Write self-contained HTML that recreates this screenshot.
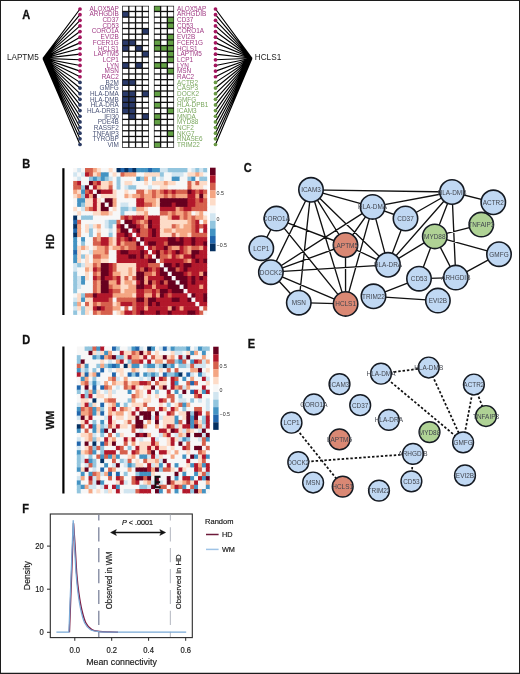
<!DOCTYPE html><html><head><meta charset="utf-8"><style>html,body{margin:0;padding:0;background:#fff;overflow:hidden}svg{display:block}#m{filter:blur(0.4px)}#b{position:absolute;left:0;top:0}text{font-family:"Liberation Sans",sans-serif}</style></head><body>
<svg id="m" width="520" height="674" viewBox="0 0 520 674">
<rect x="0" y="0" width="520" height="674" fill="#fff"/>
<text transform="translate(22.30,18.90) scale(0.92,1)" font-size="12" font-weight="bold" fill="#111" stroke="#111" stroke-width="0.3">A</text>
<text transform="translate(22.30,168.40) scale(0.92,1)" font-size="12" font-weight="bold" fill="#111" stroke="#111" stroke-width="0.3">B</text>
<text transform="translate(243.80,171.50) scale(0.92,1)" font-size="12" font-weight="bold" fill="#111" stroke="#111" stroke-width="0.3">C</text>
<text transform="translate(22.30,344.00) scale(0.92,1)" font-size="12" font-weight="bold" fill="#111" stroke="#111" stroke-width="0.3">D</text>
<text transform="translate(247.80,347.80) scale(0.92,1)" font-size="12" font-weight="bold" fill="#111" stroke="#111" stroke-width="0.3">E</text>
<text transform="translate(22.30,512.60) scale(0.92,1)" font-size="12" font-weight="bold" fill="#111" stroke="#111" stroke-width="0.3">F</text>
<path d="M43 58.4L80 9.00 M252 58.3L215.5 9.00 M43 58.4L80 14.64 M252 58.3L215.5 14.64 M43 58.4L80 20.29 M252 58.3L215.5 20.29 M43 58.4L80 25.93 M252 58.3L215.5 25.93 M43 58.4L80 31.58 M252 58.3L215.5 31.58 M43 58.4L80 37.22 M252 58.3L215.5 37.22 M43 58.4L80 42.87 M252 58.3L215.5 42.87 M43 58.4L80 48.52 M252 58.3L215.5 48.52 M43 58.4L80 54.16 M252 58.3L215.5 54.16 M43 58.4L80 59.80 M252 58.3L215.5 59.80 M43 58.4L80 65.45 M252 58.3L215.5 65.45 M43 58.4L80 71.09 M252 58.3L215.5 71.09 M43 58.4L80 76.74 M252 58.3L215.5 76.74 M43 58.4L80 82.38 M252 58.3L215.5 82.38 M43 58.4L80 88.03 M252 58.3L215.5 88.03 M43 58.4L80 93.67 M252 58.3L215.5 93.67 M43 58.4L80 99.32 M252 58.3L215.5 99.32 M43 58.4L80 104.96 M252 58.3L215.5 104.96 M43 58.4L80 110.61 M252 58.3L215.5 110.61 M43 58.4L80 116.25 M252 58.3L215.5 116.25 M43 58.4L80 121.90 M252 58.3L215.5 121.90 M43 58.4L80 127.54 M252 58.3L215.5 127.54 M43 58.4L80 133.19 M252 58.3L215.5 133.19 M43 58.4L80 138.83 M252 58.3L215.5 138.83 M43 58.4L80 144.48 M252 58.3L215.5 144.48" stroke="#000" stroke-width="1.15" fill="none"/>
<circle cx="80" cy="9.00" r="1.85" fill="#a3165e"/>
<circle cx="215.5" cy="9.00" r="1.85" fill="#a3165e"/>
<circle cx="80" cy="14.64" r="1.85" fill="#a3165e"/>
<circle cx="215.5" cy="14.64" r="1.85" fill="#a3165e"/>
<circle cx="80" cy="20.29" r="1.85" fill="#a3165e"/>
<circle cx="215.5" cy="20.29" r="1.85" fill="#a3165e"/>
<circle cx="80" cy="25.93" r="1.85" fill="#a3165e"/>
<circle cx="215.5" cy="25.93" r="1.85" fill="#a3165e"/>
<circle cx="80" cy="31.58" r="1.85" fill="#a3165e"/>
<circle cx="215.5" cy="31.58" r="1.85" fill="#a3165e"/>
<circle cx="80" cy="37.22" r="1.85" fill="#a3165e"/>
<circle cx="215.5" cy="37.22" r="1.85" fill="#a3165e"/>
<circle cx="80" cy="42.87" r="1.85" fill="#a3165e"/>
<circle cx="215.5" cy="42.87" r="1.85" fill="#a3165e"/>
<circle cx="80" cy="48.52" r="1.85" fill="#a3165e"/>
<circle cx="215.5" cy="48.52" r="1.85" fill="#a3165e"/>
<circle cx="80" cy="54.16" r="1.85" fill="#a3165e"/>
<circle cx="215.5" cy="54.16" r="1.85" fill="#a3165e"/>
<circle cx="80" cy="59.80" r="1.85" fill="#a3165e"/>
<circle cx="215.5" cy="59.80" r="1.85" fill="#a3165e"/>
<circle cx="80" cy="65.45" r="1.85" fill="#a3165e"/>
<circle cx="215.5" cy="65.45" r="1.85" fill="#a3165e"/>
<circle cx="80" cy="71.09" r="1.85" fill="#a3165e"/>
<circle cx="215.5" cy="71.09" r="1.85" fill="#a3165e"/>
<circle cx="80" cy="76.74" r="1.85" fill="#a3165e"/>
<circle cx="215.5" cy="76.74" r="1.85" fill="#a3165e"/>
<circle cx="80" cy="82.38" r="1.85" fill="#2b3a63"/>
<circle cx="215.5" cy="82.38" r="1.85" fill="#6a9a45"/>
<circle cx="80" cy="88.03" r="1.85" fill="#2b3a63"/>
<circle cx="215.5" cy="88.03" r="1.85" fill="#6a9a45"/>
<circle cx="80" cy="93.67" r="1.85" fill="#2b3a63"/>
<circle cx="215.5" cy="93.67" r="1.85" fill="#6a9a45"/>
<circle cx="80" cy="99.32" r="1.85" fill="#2b3a63"/>
<circle cx="215.5" cy="99.32" r="1.85" fill="#6a9a45"/>
<circle cx="80" cy="104.96" r="1.85" fill="#2b3a63"/>
<circle cx="215.5" cy="104.96" r="1.85" fill="#6a9a45"/>
<circle cx="80" cy="110.61" r="1.85" fill="#2b3a63"/>
<circle cx="215.5" cy="110.61" r="1.85" fill="#6a9a45"/>
<circle cx="80" cy="116.25" r="1.85" fill="#2b3a63"/>
<circle cx="215.5" cy="116.25" r="1.85" fill="#6a9a45"/>
<circle cx="80" cy="121.90" r="1.85" fill="#2b3a63"/>
<circle cx="215.5" cy="121.90" r="1.85" fill="#6a9a45"/>
<circle cx="80" cy="127.54" r="1.85" fill="#2b3a63"/>
<circle cx="215.5" cy="127.54" r="1.85" fill="#6a9a45"/>
<circle cx="80" cy="133.19" r="1.85" fill="#2b3a63"/>
<circle cx="215.5" cy="133.19" r="1.85" fill="#6a9a45"/>
<circle cx="80" cy="138.83" r="1.85" fill="#2b3a63"/>
<circle cx="215.5" cy="138.83" r="1.85" fill="#6a9a45"/>
<circle cx="80" cy="144.48" r="1.85" fill="#2b3a63"/>
<circle cx="215.5" cy="144.48" r="1.85" fill="#6a9a45"/>
<text transform="translate(118.8,10.75) scale(0.93,1)" font-size="6.9" text-anchor="end" fill="#a03a84">ALOX5AP</text>
<text transform="translate(177,10.75) scale(0.93,1)" font-size="6.9" fill="#a03a84">ALOX5AP</text>
<text transform="translate(118.8,16.43) scale(0.93,1)" font-size="6.9" text-anchor="end" fill="#a03a84">ARHGDIB</text>
<text transform="translate(177,16.43) scale(0.93,1)" font-size="6.9" fill="#a03a84">ARHGDIB</text>
<text transform="translate(118.8,22.11) scale(0.93,1)" font-size="6.9" text-anchor="end" fill="#a03a84">CD37</text>
<text transform="translate(177,22.11) scale(0.93,1)" font-size="6.9" fill="#a03a84">CD37</text>
<text transform="translate(118.8,27.79) scale(0.93,1)" font-size="6.9" text-anchor="end" fill="#a03a84">CD53</text>
<text transform="translate(177,27.79) scale(0.93,1)" font-size="6.9" fill="#a03a84">CD53</text>
<text transform="translate(118.8,33.47) scale(0.93,1)" font-size="6.9" text-anchor="end" fill="#a03a84">CORO1A</text>
<text transform="translate(177,33.47) scale(0.93,1)" font-size="6.9" fill="#a03a84">CORO1A</text>
<text transform="translate(118.8,39.15) scale(0.93,1)" font-size="6.9" text-anchor="end" fill="#a03a84">EVI2B</text>
<text transform="translate(177,39.15) scale(0.93,1)" font-size="6.9" fill="#a03a84">EVI2B</text>
<text transform="translate(118.8,44.83) scale(0.93,1)" font-size="6.9" text-anchor="end" fill="#a03a84">FCER1G</text>
<text transform="translate(177,44.83) scale(0.93,1)" font-size="6.9" fill="#a03a84">FCER1G</text>
<text transform="translate(118.8,50.51) scale(0.93,1)" font-size="6.9" text-anchor="end" fill="#a03a84">HCLS1</text>
<text transform="translate(177,50.51) scale(0.93,1)" font-size="6.9" fill="#a03a84">HCLS1</text>
<text transform="translate(118.8,56.19) scale(0.93,1)" font-size="6.9" text-anchor="end" fill="#a03a84">LAPTM5</text>
<text transform="translate(177,56.19) scale(0.93,1)" font-size="6.9" fill="#a03a84">LAPTM5</text>
<text transform="translate(118.8,61.87) scale(0.93,1)" font-size="6.9" text-anchor="end" fill="#a03a84">LCP1</text>
<text transform="translate(177,61.87) scale(0.93,1)" font-size="6.9" fill="#a03a84">LCP1</text>
<text transform="translate(118.8,67.55) scale(0.93,1)" font-size="6.9" text-anchor="end" fill="#a03a84">LYN</text>
<text transform="translate(177,67.55) scale(0.93,1)" font-size="6.9" fill="#a03a84">LYN</text>
<text transform="translate(118.8,73.23) scale(0.93,1)" font-size="6.9" text-anchor="end" fill="#a03a84">MSN</text>
<text transform="translate(177,73.23) scale(0.93,1)" font-size="6.9" fill="#a03a84">MSN</text>
<text transform="translate(118.8,78.91) scale(0.93,1)" font-size="6.9" text-anchor="end" fill="#a03a84">RAC2</text>
<text transform="translate(177,78.91) scale(0.93,1)" font-size="6.9" fill="#a03a84">RAC2</text>
<text transform="translate(118.8,84.59) scale(0.93,1)" font-size="6.9" text-anchor="end" fill="#4a5478">B2M</text>
<text transform="translate(177,84.59) scale(0.93,1)" font-size="6.9" fill="#7aa75e">ACTR2</text>
<text transform="translate(118.8,90.27) scale(0.93,1)" font-size="6.9" text-anchor="end" fill="#4a5478">GMFG</text>
<text transform="translate(177,90.27) scale(0.93,1)" font-size="6.9" fill="#7aa75e">CASP3</text>
<text transform="translate(118.8,95.95) scale(0.93,1)" font-size="6.9" text-anchor="end" fill="#4a5478">HLA-DMA</text>
<text transform="translate(177,95.95) scale(0.93,1)" font-size="6.9" fill="#7aa75e">DOCK2</text>
<text transform="translate(118.8,101.63) scale(0.93,1)" font-size="6.9" text-anchor="end" fill="#4a5478">HLA-DMB</text>
<text transform="translate(177,101.63) scale(0.93,1)" font-size="6.9" fill="#7aa75e">GMFG</text>
<text transform="translate(118.8,107.31) scale(0.93,1)" font-size="6.9" text-anchor="end" fill="#4a5478">HLA-DRA</text>
<text transform="translate(177,107.31) scale(0.93,1)" font-size="6.9" fill="#7aa75e">HLA-DPB1</text>
<text transform="translate(118.8,112.99) scale(0.93,1)" font-size="6.9" text-anchor="end" fill="#4a5478">HLA-DRB1</text>
<text transform="translate(177,112.99) scale(0.93,1)" font-size="6.9" fill="#7aa75e">ICAM3</text>
<text transform="translate(118.8,118.67) scale(0.93,1)" font-size="6.9" text-anchor="end" fill="#4a5478">IFI30</text>
<text transform="translate(177,118.67) scale(0.93,1)" font-size="6.9" fill="#7aa75e">MNDA</text>
<text transform="translate(118.8,124.35) scale(0.93,1)" font-size="6.9" text-anchor="end" fill="#4a5478">PDE4B</text>
<text transform="translate(177,124.35) scale(0.93,1)" font-size="6.9" fill="#7aa75e">MYD88</text>
<text transform="translate(118.8,130.03) scale(0.93,1)" font-size="6.9" text-anchor="end" fill="#4a5478">RASSF2</text>
<text transform="translate(177,130.03) scale(0.93,1)" font-size="6.9" fill="#7aa75e">NCF2</text>
<text transform="translate(118.8,135.71) scale(0.93,1)" font-size="6.9" text-anchor="end" fill="#4a5478">TNFAIP3</text>
<text transform="translate(177,135.71) scale(0.93,1)" font-size="6.9" fill="#7aa75e">NKG7</text>
<text transform="translate(118.8,141.39) scale(0.93,1)" font-size="6.9" text-anchor="end" fill="#4a5478">TYROBP</text>
<text transform="translate(177,141.39) scale(0.93,1)" font-size="6.9" fill="#7aa75e">RNASE6</text>
<text transform="translate(118.8,147.07) scale(0.93,1)" font-size="6.9" text-anchor="end" fill="#4a5478">VIM</text>
<text transform="translate(177,147.07) scale(0.93,1)" font-size="6.9" fill="#7aa75e">TRIM22</text>
<text x="6.9" y="59.8" font-size="8.2" fill="#222">LAPTM5</text>
<text x="254.8" y="59.8" font-size="8.2" fill="#222">HCLS1</text>
<rect x="122.1" y="5.8" width="26.88" height="142.00" fill="#111"/>
<rect x="122.75" y="6.45" width="5.42" height="4.38" fill="#fff"/>
<rect x="129.47" y="6.45" width="5.42" height="4.38" fill="#fff"/>
<rect x="136.19" y="6.45" width="5.42" height="4.38" fill="#fff"/>
<rect x="142.91" y="6.45" width="5.42" height="4.38" fill="#fff"/>
<rect x="122.75" y="12.13" width="5.42" height="4.38" fill="#2a3a6a"/>
<rect x="129.47" y="12.13" width="5.42" height="4.38" fill="#fff"/>
<rect x="136.19" y="12.13" width="5.42" height="4.38" fill="#fff"/>
<rect x="142.91" y="12.13" width="5.42" height="4.38" fill="#fff"/>
<rect x="122.75" y="17.81" width="5.42" height="4.38" fill="#fff"/>
<rect x="129.47" y="17.81" width="5.42" height="4.38" fill="#fff"/>
<rect x="136.19" y="17.81" width="5.42" height="4.38" fill="#fff"/>
<rect x="142.91" y="17.81" width="5.42" height="4.38" fill="#fff"/>
<rect x="122.75" y="23.49" width="5.42" height="4.38" fill="#fff"/>
<rect x="129.47" y="23.49" width="5.42" height="4.38" fill="#fff"/>
<rect x="136.19" y="23.49" width="5.42" height="4.38" fill="#fff"/>
<rect x="142.91" y="23.49" width="5.42" height="4.38" fill="#fff"/>
<rect x="122.75" y="29.17" width="5.42" height="4.38" fill="#fff"/>
<rect x="129.47" y="29.17" width="5.42" height="4.38" fill="#fff"/>
<rect x="136.19" y="29.17" width="5.42" height="4.38" fill="#fff"/>
<rect x="142.91" y="29.17" width="5.42" height="4.38" fill="#2a3a6a"/>
<rect x="122.75" y="34.85" width="5.42" height="4.38" fill="#fff"/>
<rect x="129.47" y="34.85" width="5.42" height="4.38" fill="#fff"/>
<rect x="136.19" y="34.85" width="5.42" height="4.38" fill="#fff"/>
<rect x="142.91" y="34.85" width="5.42" height="4.38" fill="#fff"/>
<rect x="122.75" y="40.53" width="5.42" height="4.38" fill="#2a3a6a"/>
<rect x="129.47" y="40.53" width="5.42" height="4.38" fill="#2a3a6a"/>
<rect x="136.19" y="40.53" width="5.42" height="4.38" fill="#fff"/>
<rect x="142.91" y="40.53" width="5.42" height="4.38" fill="#fff"/>
<rect x="122.75" y="46.21" width="5.42" height="4.38" fill="#2a3a6a"/>
<rect x="129.47" y="46.21" width="5.42" height="4.38" fill="#fff"/>
<rect x="136.19" y="46.21" width="5.42" height="4.38" fill="#2a3a6a"/>
<rect x="142.91" y="46.21" width="5.42" height="4.38" fill="#fff"/>
<rect x="122.75" y="51.89" width="5.42" height="4.38" fill="#fff"/>
<rect x="129.47" y="51.89" width="5.42" height="4.38" fill="#fff"/>
<rect x="136.19" y="51.89" width="5.42" height="4.38" fill="#fff"/>
<rect x="142.91" y="51.89" width="5.42" height="4.38" fill="#2a3a6a"/>
<rect x="122.75" y="57.57" width="5.42" height="4.38" fill="#fff"/>
<rect x="129.47" y="57.57" width="5.42" height="4.38" fill="#fff"/>
<rect x="136.19" y="57.57" width="5.42" height="4.38" fill="#fff"/>
<rect x="142.91" y="57.57" width="5.42" height="4.38" fill="#fff"/>
<rect x="122.75" y="63.25" width="5.42" height="4.38" fill="#2a3a6a"/>
<rect x="129.47" y="63.25" width="5.42" height="4.38" fill="#fff"/>
<rect x="136.19" y="63.25" width="5.42" height="4.38" fill="#2a3a6a"/>
<rect x="142.91" y="63.25" width="5.42" height="4.38" fill="#fff"/>
<rect x="122.75" y="68.93" width="5.42" height="4.38" fill="#fff"/>
<rect x="129.47" y="68.93" width="5.42" height="4.38" fill="#fff"/>
<rect x="136.19" y="68.93" width="5.42" height="4.38" fill="#fff"/>
<rect x="142.91" y="68.93" width="5.42" height="4.38" fill="#fff"/>
<rect x="122.75" y="74.61" width="5.42" height="4.38" fill="#fff"/>
<rect x="129.47" y="74.61" width="5.42" height="4.38" fill="#fff"/>
<rect x="136.19" y="74.61" width="5.42" height="4.38" fill="#fff"/>
<rect x="142.91" y="74.61" width="5.42" height="4.38" fill="#fff"/>
<rect x="122.75" y="80.29" width="5.42" height="4.38" fill="#2a3a6a"/>
<rect x="129.47" y="80.29" width="5.42" height="4.38" fill="#2a3a6a"/>
<rect x="136.19" y="80.29" width="5.42" height="4.38" fill="#fff"/>
<rect x="142.91" y="80.29" width="5.42" height="4.38" fill="#fff"/>
<rect x="122.75" y="85.97" width="5.42" height="4.38" fill="#fff"/>
<rect x="129.47" y="85.97" width="5.42" height="4.38" fill="#fff"/>
<rect x="136.19" y="85.97" width="5.42" height="4.38" fill="#fff"/>
<rect x="142.91" y="85.97" width="5.42" height="4.38" fill="#fff"/>
<rect x="122.75" y="91.65" width="5.42" height="4.38" fill="#2a3a6a"/>
<rect x="129.47" y="91.65" width="5.42" height="4.38" fill="#2a3a6a"/>
<rect x="136.19" y="91.65" width="5.42" height="4.38" fill="#fff"/>
<rect x="142.91" y="91.65" width="5.42" height="4.38" fill="#2a3a6a"/>
<rect x="122.75" y="97.33" width="5.42" height="4.38" fill="#2a3a6a"/>
<rect x="129.47" y="97.33" width="5.42" height="4.38" fill="#2a3a6a"/>
<rect x="136.19" y="97.33" width="5.42" height="4.38" fill="#fff"/>
<rect x="142.91" y="97.33" width="5.42" height="4.38" fill="#fff"/>
<rect x="122.75" y="103.01" width="5.42" height="4.38" fill="#2a3a6a"/>
<rect x="129.47" y="103.01" width="5.42" height="4.38" fill="#2a3a6a"/>
<rect x="136.19" y="103.01" width="5.42" height="4.38" fill="#fff"/>
<rect x="142.91" y="103.01" width="5.42" height="4.38" fill="#fff"/>
<rect x="122.75" y="108.69" width="5.42" height="4.38" fill="#2a3a6a"/>
<rect x="129.47" y="108.69" width="5.42" height="4.38" fill="#2a3a6a"/>
<rect x="136.19" y="108.69" width="5.42" height="4.38" fill="#fff"/>
<rect x="142.91" y="108.69" width="5.42" height="4.38" fill="#fff"/>
<rect x="122.75" y="114.37" width="5.42" height="4.38" fill="#fff"/>
<rect x="129.47" y="114.37" width="5.42" height="4.38" fill="#2a3a6a"/>
<rect x="136.19" y="114.37" width="5.42" height="4.38" fill="#fff"/>
<rect x="142.91" y="114.37" width="5.42" height="4.38" fill="#2a3a6a"/>
<rect x="122.75" y="120.05" width="5.42" height="4.38" fill="#fff"/>
<rect x="129.47" y="120.05" width="5.42" height="4.38" fill="#fff"/>
<rect x="136.19" y="120.05" width="5.42" height="4.38" fill="#fff"/>
<rect x="142.91" y="120.05" width="5.42" height="4.38" fill="#fff"/>
<rect x="122.75" y="125.73" width="5.42" height="4.38" fill="#fff"/>
<rect x="129.47" y="125.73" width="5.42" height="4.38" fill="#fff"/>
<rect x="136.19" y="125.73" width="5.42" height="4.38" fill="#fff"/>
<rect x="142.91" y="125.73" width="5.42" height="4.38" fill="#fff"/>
<rect x="122.75" y="131.41" width="5.42" height="4.38" fill="#fff"/>
<rect x="129.47" y="131.41" width="5.42" height="4.38" fill="#fff"/>
<rect x="136.19" y="131.41" width="5.42" height="4.38" fill="#fff"/>
<rect x="142.91" y="131.41" width="5.42" height="4.38" fill="#fff"/>
<rect x="122.75" y="137.09" width="5.42" height="4.38" fill="#fff"/>
<rect x="129.47" y="137.09" width="5.42" height="4.38" fill="#fff"/>
<rect x="136.19" y="137.09" width="5.42" height="4.38" fill="#fff"/>
<rect x="142.91" y="137.09" width="5.42" height="4.38" fill="#fff"/>
<rect x="122.75" y="142.77" width="5.42" height="4.38" fill="#fff"/>
<rect x="129.47" y="142.77" width="5.42" height="4.38" fill="#fff"/>
<rect x="136.19" y="142.77" width="5.42" height="4.38" fill="#fff"/>
<rect x="142.91" y="142.77" width="5.42" height="4.38" fill="#fff"/>
<rect x="153.9" y="5.8" width="20.16" height="142.00" fill="#111"/>
<rect x="154.55" y="6.45" width="5.42" height="4.38" fill="#63a145"/>
<rect x="161.27" y="6.45" width="5.42" height="4.38" fill="#fff"/>
<rect x="167.99" y="6.45" width="5.42" height="4.38" fill="#fff"/>
<rect x="154.55" y="12.13" width="5.42" height="4.38" fill="#fff"/>
<rect x="161.27" y="12.13" width="5.42" height="4.38" fill="#fff"/>
<rect x="167.99" y="12.13" width="5.42" height="4.38" fill="#fff"/>
<rect x="154.55" y="17.81" width="5.42" height="4.38" fill="#fff"/>
<rect x="161.27" y="17.81" width="5.42" height="4.38" fill="#fff"/>
<rect x="167.99" y="17.81" width="5.42" height="4.38" fill="#63a145"/>
<rect x="154.55" y="23.49" width="5.42" height="4.38" fill="#fff"/>
<rect x="161.27" y="23.49" width="5.42" height="4.38" fill="#fff"/>
<rect x="167.99" y="23.49" width="5.42" height="4.38" fill="#63a145"/>
<rect x="154.55" y="29.17" width="5.42" height="4.38" fill="#fff"/>
<rect x="161.27" y="29.17" width="5.42" height="4.38" fill="#fff"/>
<rect x="167.99" y="29.17" width="5.42" height="4.38" fill="#fff"/>
<rect x="154.55" y="34.85" width="5.42" height="4.38" fill="#fff"/>
<rect x="161.27" y="34.85" width="5.42" height="4.38" fill="#fff"/>
<rect x="167.99" y="34.85" width="5.42" height="4.38" fill="#63a145"/>
<rect x="154.55" y="40.53" width="5.42" height="4.38" fill="#63a145"/>
<rect x="161.27" y="40.53" width="5.42" height="4.38" fill="#fff"/>
<rect x="167.99" y="40.53" width="5.42" height="4.38" fill="#63a145"/>
<rect x="154.55" y="46.21" width="5.42" height="4.38" fill="#63a145"/>
<rect x="161.27" y="46.21" width="5.42" height="4.38" fill="#63a145"/>
<rect x="167.99" y="46.21" width="5.42" height="4.38" fill="#63a145"/>
<rect x="154.55" y="51.89" width="5.42" height="4.38" fill="#fff"/>
<rect x="161.27" y="51.89" width="5.42" height="4.38" fill="#fff"/>
<rect x="167.99" y="51.89" width="5.42" height="4.38" fill="#63a145"/>
<rect x="154.55" y="57.57" width="5.42" height="4.38" fill="#fff"/>
<rect x="161.27" y="57.57" width="5.42" height="4.38" fill="#fff"/>
<rect x="167.99" y="57.57" width="5.42" height="4.38" fill="#63a145"/>
<rect x="154.55" y="63.25" width="5.42" height="4.38" fill="#63a145"/>
<rect x="161.27" y="63.25" width="5.42" height="4.38" fill="#63a145"/>
<rect x="167.99" y="63.25" width="5.42" height="4.38" fill="#fff"/>
<rect x="154.55" y="68.93" width="5.42" height="4.38" fill="#fff"/>
<rect x="161.27" y="68.93" width="5.42" height="4.38" fill="#fff"/>
<rect x="167.99" y="68.93" width="5.42" height="4.38" fill="#63a145"/>
<rect x="154.55" y="74.61" width="5.42" height="4.38" fill="#fff"/>
<rect x="161.27" y="74.61" width="5.42" height="4.38" fill="#fff"/>
<rect x="167.99" y="74.61" width="5.42" height="4.38" fill="#fff"/>
<rect x="154.55" y="80.29" width="5.42" height="4.38" fill="#fff"/>
<rect x="161.27" y="80.29" width="5.42" height="4.38" fill="#fff"/>
<rect x="167.99" y="80.29" width="5.42" height="4.38" fill="#fff"/>
<rect x="154.55" y="85.97" width="5.42" height="4.38" fill="#fff"/>
<rect x="161.27" y="85.97" width="5.42" height="4.38" fill="#fff"/>
<rect x="167.99" y="85.97" width="5.42" height="4.38" fill="#fff"/>
<rect x="154.55" y="91.65" width="5.42" height="4.38" fill="#63a145"/>
<rect x="161.27" y="91.65" width="5.42" height="4.38" fill="#fff"/>
<rect x="167.99" y="91.65" width="5.42" height="4.38" fill="#fff"/>
<rect x="154.55" y="97.33" width="5.42" height="4.38" fill="#fff"/>
<rect x="161.27" y="97.33" width="5.42" height="4.38" fill="#fff"/>
<rect x="167.99" y="97.33" width="5.42" height="4.38" fill="#fff"/>
<rect x="154.55" y="103.01" width="5.42" height="4.38" fill="#63a145"/>
<rect x="161.27" y="103.01" width="5.42" height="4.38" fill="#fff"/>
<rect x="167.99" y="103.01" width="5.42" height="4.38" fill="#fff"/>
<rect x="154.55" y="108.69" width="5.42" height="4.38" fill="#fff"/>
<rect x="161.27" y="108.69" width="5.42" height="4.38" fill="#fff"/>
<rect x="167.99" y="108.69" width="5.42" height="4.38" fill="#63a145"/>
<rect x="154.55" y="114.37" width="5.42" height="4.38" fill="#63a145"/>
<rect x="161.27" y="114.37" width="5.42" height="4.38" fill="#fff"/>
<rect x="167.99" y="114.37" width="5.42" height="4.38" fill="#fff"/>
<rect x="154.55" y="120.05" width="5.42" height="4.38" fill="#63a145"/>
<rect x="161.27" y="120.05" width="5.42" height="4.38" fill="#fff"/>
<rect x="167.99" y="120.05" width="5.42" height="4.38" fill="#fff"/>
<rect x="154.55" y="125.73" width="5.42" height="4.38" fill="#fff"/>
<rect x="161.27" y="125.73" width="5.42" height="4.38" fill="#fff"/>
<rect x="167.99" y="125.73" width="5.42" height="4.38" fill="#fff"/>
<rect x="154.55" y="131.41" width="5.42" height="4.38" fill="#fff"/>
<rect x="161.27" y="131.41" width="5.42" height="4.38" fill="#fff"/>
<rect x="167.99" y="131.41" width="5.42" height="4.38" fill="#63a145"/>
<rect x="154.55" y="137.09" width="5.42" height="4.38" fill="#fff"/>
<rect x="161.27" y="137.09" width="5.42" height="4.38" fill="#fff"/>
<rect x="167.99" y="137.09" width="5.42" height="4.38" fill="#fff"/>
<rect x="154.55" y="142.77" width="5.42" height="4.38" fill="#63a145"/>
<rect x="161.27" y="142.77" width="5.42" height="4.38" fill="#fff"/>
<rect x="167.99" y="142.77" width="5.42" height="4.38" fill="#fff"/>
<rect x="73.20" y="168.00" width="4.54" height="4.92" fill="#f7f7f7"/>
<rect x="77.14" y="168.00" width="4.54" height="4.92" fill="#d1e5f0"/>
<rect x="81.08" y="168.00" width="4.54" height="4.92" fill="#f7f7f7"/>
<rect x="85.02" y="168.00" width="4.54" height="4.92" fill="#d6604d"/>
<rect x="88.96" y="168.00" width="4.54" height="4.92" fill="#d6604d"/>
<rect x="92.90" y="168.00" width="4.54" height="4.92" fill="#f4a582"/>
<rect x="96.84" y="168.00" width="4.54" height="4.92" fill="#fddbc7"/>
<rect x="100.78" y="168.00" width="4.54" height="4.92" fill="#f7f7f7"/>
<rect x="104.72" y="168.00" width="4.54" height="4.92" fill="#f7f7f7"/>
<rect x="108.66" y="168.00" width="4.54" height="4.92" fill="#fddbc7"/>
<rect x="112.60" y="168.00" width="4.54" height="4.92" fill="#f7f7f7"/>
<rect x="116.54" y="168.00" width="4.54" height="4.92" fill="#053061"/>
<rect x="120.48" y="168.00" width="4.54" height="4.92" fill="#2166ac"/>
<rect x="124.42" y="168.00" width="4.54" height="4.92" fill="#053061"/>
<rect x="128.36" y="168.00" width="4.54" height="4.92" fill="#2166ac"/>
<rect x="132.30" y="168.00" width="4.54" height="4.92" fill="#053061"/>
<rect x="136.24" y="168.00" width="4.54" height="4.92" fill="#4393c3"/>
<rect x="140.18" y="168.00" width="4.54" height="4.92" fill="#4393c3"/>
<rect x="144.12" y="168.00" width="4.54" height="4.92" fill="#4393c3"/>
<rect x="148.06" y="168.00" width="4.54" height="4.92" fill="#2166ac"/>
<rect x="152.00" y="168.00" width="4.54" height="4.92" fill="#4393c3"/>
<rect x="155.94" y="168.00" width="4.54" height="4.92" fill="#4393c3"/>
<rect x="159.88" y="168.00" width="4.54" height="4.92" fill="#d1e5f0"/>
<rect x="163.82" y="168.00" width="4.54" height="4.92" fill="#d1e5f0"/>
<rect x="167.76" y="168.00" width="4.54" height="4.92" fill="#92c5de"/>
<rect x="171.70" y="168.00" width="4.54" height="4.92" fill="#92c5de"/>
<rect x="175.64" y="168.00" width="4.54" height="4.92" fill="#92c5de"/>
<rect x="179.58" y="168.00" width="4.54" height="4.92" fill="#92c5de"/>
<rect x="183.52" y="168.00" width="4.54" height="4.92" fill="#92c5de"/>
<rect x="187.46" y="168.00" width="4.54" height="4.92" fill="#f7f7f7"/>
<rect x="191.40" y="168.00" width="4.54" height="4.92" fill="#d1e5f0"/>
<rect x="195.34" y="168.00" width="4.54" height="4.92" fill="#92c5de"/>
<rect x="199.28" y="168.00" width="4.54" height="4.92" fill="#d1e5f0"/>
<rect x="203.22" y="168.00" width="3.94" height="4.92" fill="#92c5de"/>
<rect x="73.20" y="172.32" width="4.54" height="4.92" fill="#d1e5f0"/>
<rect x="77.14" y="172.32" width="4.54" height="4.92" fill="#f7f7f7"/>
<rect x="81.08" y="172.32" width="4.54" height="4.92" fill="#d1e5f0"/>
<rect x="85.02" y="172.32" width="4.54" height="4.92" fill="#b2182b"/>
<rect x="88.96" y="172.32" width="4.54" height="4.92" fill="#d6604d"/>
<rect x="92.90" y="172.32" width="4.54" height="4.92" fill="#fddbc7"/>
<rect x="96.84" y="172.32" width="4.54" height="4.92" fill="#f4a582"/>
<rect x="100.78" y="172.32" width="4.54" height="4.92" fill="#4393c3"/>
<rect x="104.72" y="172.32" width="4.54" height="4.92" fill="#4393c3"/>
<rect x="108.66" y="172.32" width="4.54" height="4.92" fill="#f7f7f7"/>
<rect x="112.60" y="172.32" width="4.54" height="4.92" fill="#fddbc7"/>
<rect x="116.54" y="172.32" width="4.54" height="4.92" fill="#f7f7f7"/>
<rect x="120.48" y="172.32" width="4.54" height="4.92" fill="#d6604d"/>
<rect x="124.42" y="172.32" width="4.54" height="4.92" fill="#f4a582"/>
<rect x="128.36" y="172.32" width="4.54" height="4.92" fill="#f4a582"/>
<rect x="132.30" y="172.32" width="4.54" height="4.92" fill="#f4a582"/>
<rect x="136.24" y="172.32" width="4.54" height="4.92" fill="#f7f7f7"/>
<rect x="140.18" y="172.32" width="4.54" height="4.92" fill="#f7f7f7"/>
<rect x="144.12" y="172.32" width="4.54" height="4.92" fill="#fddbc7"/>
<rect x="148.06" y="172.32" width="4.54" height="4.92" fill="#fddbc7"/>
<rect x="152.00" y="172.32" width="4.54" height="4.92" fill="#fddbc7"/>
<rect x="155.94" y="172.32" width="4.54" height="4.92" fill="#fddbc7"/>
<rect x="159.88" y="172.32" width="4.54" height="4.92" fill="#92c5de"/>
<rect x="163.82" y="172.32" width="4.54" height="4.92" fill="#f7f7f7"/>
<rect x="167.76" y="172.32" width="4.54" height="4.92" fill="#f7f7f7"/>
<rect x="171.70" y="172.32" width="4.54" height="4.92" fill="#d1e5f0"/>
<rect x="175.64" y="172.32" width="4.54" height="4.92" fill="#d1e5f0"/>
<rect x="179.58" y="172.32" width="4.54" height="4.92" fill="#d1e5f0"/>
<rect x="183.52" y="172.32" width="4.54" height="4.92" fill="#f7f7f7"/>
<rect x="187.46" y="172.32" width="4.54" height="4.92" fill="#fddbc7"/>
<rect x="191.40" y="172.32" width="4.54" height="4.92" fill="#fddbc7"/>
<rect x="195.34" y="172.32" width="4.54" height="4.92" fill="#f4a582"/>
<rect x="199.28" y="172.32" width="4.54" height="4.92" fill="#fddbc7"/>
<rect x="203.22" y="172.32" width="3.94" height="4.92" fill="#f7f7f7"/>
<rect x="73.20" y="176.64" width="4.54" height="4.92" fill="#f7f7f7"/>
<rect x="77.14" y="176.64" width="4.54" height="4.92" fill="#d1e5f0"/>
<rect x="81.08" y="176.64" width="4.54" height="4.92" fill="#f7f7f7"/>
<rect x="85.02" y="176.64" width="4.54" height="4.92" fill="#f7f7f7"/>
<rect x="88.96" y="176.64" width="4.54" height="4.92" fill="#92c5de"/>
<rect x="92.90" y="176.64" width="4.54" height="4.92" fill="#4393c3"/>
<rect x="96.84" y="176.64" width="4.54" height="4.92" fill="#92c5de"/>
<rect x="100.78" y="176.64" width="4.54" height="4.92" fill="#4393c3"/>
<rect x="104.72" y="176.64" width="4.54" height="4.92" fill="#92c5de"/>
<rect x="108.66" y="176.64" width="4.54" height="4.92" fill="#d1e5f0"/>
<rect x="112.60" y="176.64" width="4.54" height="4.92" fill="#f7f7f7"/>
<rect x="116.54" y="176.64" width="4.54" height="4.92" fill="#92c5de"/>
<rect x="120.48" y="176.64" width="4.54" height="4.92" fill="#f7f7f7"/>
<rect x="124.42" y="176.64" width="4.54" height="4.92" fill="#f7f7f7"/>
<rect x="128.36" y="176.64" width="4.54" height="4.92" fill="#f7f7f7"/>
<rect x="132.30" y="176.64" width="4.54" height="4.92" fill="#f7f7f7"/>
<rect x="136.24" y="176.64" width="4.54" height="4.92" fill="#4393c3"/>
<rect x="140.18" y="176.64" width="4.54" height="4.92" fill="#92c5de"/>
<rect x="144.12" y="176.64" width="4.54" height="4.92" fill="#f4a582"/>
<rect x="148.06" y="176.64" width="4.54" height="4.92" fill="#f7f7f7"/>
<rect x="152.00" y="176.64" width="4.54" height="4.92" fill="#92c5de"/>
<rect x="155.94" y="176.64" width="4.54" height="4.92" fill="#f7f7f7"/>
<rect x="159.88" y="176.64" width="4.54" height="4.92" fill="#d1e5f0"/>
<rect x="163.82" y="176.64" width="4.54" height="4.92" fill="#f7f7f7"/>
<rect x="167.76" y="176.64" width="4.54" height="4.92" fill="#f7f7f7"/>
<rect x="171.70" y="176.64" width="4.54" height="4.92" fill="#4393c3"/>
<rect x="175.64" y="176.64" width="4.54" height="4.92" fill="#4393c3"/>
<rect x="179.58" y="176.64" width="4.54" height="4.92" fill="#f7f7f7"/>
<rect x="183.52" y="176.64" width="4.54" height="4.92" fill="#f7f7f7"/>
<rect x="187.46" y="176.64" width="4.54" height="4.92" fill="#92c5de"/>
<rect x="191.40" y="176.64" width="4.54" height="4.92" fill="#4393c3"/>
<rect x="195.34" y="176.64" width="4.54" height="4.92" fill="#f7f7f7"/>
<rect x="199.28" y="176.64" width="4.54" height="4.92" fill="#92c5de"/>
<rect x="203.22" y="176.64" width="3.94" height="4.92" fill="#92c5de"/>
<rect x="73.20" y="180.96" width="4.54" height="4.92" fill="#d6604d"/>
<rect x="77.14" y="180.96" width="4.54" height="4.92" fill="#b2182b"/>
<rect x="81.08" y="180.96" width="4.54" height="4.92" fill="#f7f7f7"/>
<rect x="85.02" y="180.96" width="4.54" height="4.92" fill="#f7f7f7"/>
<rect x="88.96" y="180.96" width="4.54" height="4.92" fill="#67001f"/>
<rect x="92.90" y="180.96" width="4.54" height="4.92" fill="#d6604d"/>
<rect x="96.84" y="180.96" width="4.54" height="4.92" fill="#b2182b"/>
<rect x="100.78" y="180.96" width="4.54" height="4.92" fill="#fddbc7"/>
<rect x="104.72" y="180.96" width="4.54" height="4.92" fill="#fddbc7"/>
<rect x="108.66" y="180.96" width="4.54" height="4.92" fill="#f4a582"/>
<rect x="112.60" y="180.96" width="4.54" height="4.92" fill="#f7f7f7"/>
<rect x="116.54" y="180.96" width="4.54" height="4.92" fill="#92c5de"/>
<rect x="120.48" y="180.96" width="4.54" height="4.92" fill="#f7f7f7"/>
<rect x="124.42" y="180.96" width="4.54" height="4.92" fill="#fddbc7"/>
<rect x="128.36" y="180.96" width="4.54" height="4.92" fill="#fddbc7"/>
<rect x="132.30" y="180.96" width="4.54" height="4.92" fill="#f7f7f7"/>
<rect x="136.24" y="180.96" width="4.54" height="4.92" fill="#f7f7f7"/>
<rect x="140.18" y="180.96" width="4.54" height="4.92" fill="#f7f7f7"/>
<rect x="144.12" y="180.96" width="4.54" height="4.92" fill="#fddbc7"/>
<rect x="148.06" y="180.96" width="4.54" height="4.92" fill="#f7f7f7"/>
<rect x="152.00" y="180.96" width="4.54" height="4.92" fill="#fddbc7"/>
<rect x="155.94" y="180.96" width="4.54" height="4.92" fill="#fddbc7"/>
<rect x="159.88" y="180.96" width="4.54" height="4.92" fill="#fddbc7"/>
<rect x="163.82" y="180.96" width="4.54" height="4.92" fill="#f4a582"/>
<rect x="167.76" y="180.96" width="4.54" height="4.92" fill="#fddbc7"/>
<rect x="171.70" y="180.96" width="4.54" height="4.92" fill="#fddbc7"/>
<rect x="175.64" y="180.96" width="4.54" height="4.92" fill="#f7f7f7"/>
<rect x="179.58" y="180.96" width="4.54" height="4.92" fill="#f7f7f7"/>
<rect x="183.52" y="180.96" width="4.54" height="4.92" fill="#f7f7f7"/>
<rect x="187.46" y="180.96" width="4.54" height="4.92" fill="#d6604d"/>
<rect x="191.40" y="180.96" width="4.54" height="4.92" fill="#fddbc7"/>
<rect x="195.34" y="180.96" width="4.54" height="4.92" fill="#d6604d"/>
<rect x="199.28" y="180.96" width="4.54" height="4.92" fill="#fddbc7"/>
<rect x="203.22" y="180.96" width="3.94" height="4.92" fill="#fddbc7"/>
<rect x="73.20" y="185.28" width="4.54" height="4.92" fill="#d6604d"/>
<rect x="77.14" y="185.28" width="4.54" height="4.92" fill="#d6604d"/>
<rect x="81.08" y="185.28" width="4.54" height="4.92" fill="#92c5de"/>
<rect x="85.02" y="185.28" width="4.54" height="4.92" fill="#67001f"/>
<rect x="88.96" y="185.28" width="4.54" height="4.92" fill="#f7f7f7"/>
<rect x="92.90" y="185.28" width="4.54" height="4.92" fill="#b2182b"/>
<rect x="96.84" y="185.28" width="4.54" height="4.92" fill="#f4a582"/>
<rect x="100.78" y="185.28" width="4.54" height="4.92" fill="#fddbc7"/>
<rect x="104.72" y="185.28" width="4.54" height="4.92" fill="#fddbc7"/>
<rect x="108.66" y="185.28" width="4.54" height="4.92" fill="#d6604d"/>
<rect x="112.60" y="185.28" width="4.54" height="4.92" fill="#f7f7f7"/>
<rect x="116.54" y="185.28" width="4.54" height="4.92" fill="#92c5de"/>
<rect x="120.48" y="185.28" width="4.54" height="4.92" fill="#f7f7f7"/>
<rect x="124.42" y="185.28" width="4.54" height="4.92" fill="#d1e5f0"/>
<rect x="128.36" y="185.28" width="4.54" height="4.92" fill="#92c5de"/>
<rect x="132.30" y="185.28" width="4.54" height="4.92" fill="#92c5de"/>
<rect x="136.24" y="185.28" width="4.54" height="4.92" fill="#f7f7f7"/>
<rect x="140.18" y="185.28" width="4.54" height="4.92" fill="#f7f7f7"/>
<rect x="144.12" y="185.28" width="4.54" height="4.92" fill="#f7f7f7"/>
<rect x="148.06" y="185.28" width="4.54" height="4.92" fill="#d1e5f0"/>
<rect x="152.00" y="185.28" width="4.54" height="4.92" fill="#f7f7f7"/>
<rect x="155.94" y="185.28" width="4.54" height="4.92" fill="#f7f7f7"/>
<rect x="159.88" y="185.28" width="4.54" height="4.92" fill="#fddbc7"/>
<rect x="163.82" y="185.28" width="4.54" height="4.92" fill="#fddbc7"/>
<rect x="167.76" y="185.28" width="4.54" height="4.92" fill="#f7f7f7"/>
<rect x="171.70" y="185.28" width="4.54" height="4.92" fill="#f7f7f7"/>
<rect x="175.64" y="185.28" width="4.54" height="4.92" fill="#f7f7f7"/>
<rect x="179.58" y="185.28" width="4.54" height="4.92" fill="#f7f7f7"/>
<rect x="183.52" y="185.28" width="4.54" height="4.92" fill="#f7f7f7"/>
<rect x="187.46" y="185.28" width="4.54" height="4.92" fill="#d6604d"/>
<rect x="191.40" y="185.28" width="4.54" height="4.92" fill="#fddbc7"/>
<rect x="195.34" y="185.28" width="4.54" height="4.92" fill="#fddbc7"/>
<rect x="199.28" y="185.28" width="4.54" height="4.92" fill="#fddbc7"/>
<rect x="203.22" y="185.28" width="3.94" height="4.92" fill="#f7f7f7"/>
<rect x="73.20" y="189.60" width="4.54" height="4.92" fill="#f4a582"/>
<rect x="77.14" y="189.60" width="4.54" height="4.92" fill="#fddbc7"/>
<rect x="81.08" y="189.60" width="4.54" height="4.92" fill="#4393c3"/>
<rect x="85.02" y="189.60" width="4.54" height="4.92" fill="#d6604d"/>
<rect x="88.96" y="189.60" width="4.54" height="4.92" fill="#b2182b"/>
<rect x="92.90" y="189.60" width="4.54" height="4.92" fill="#f7f7f7"/>
<rect x="96.84" y="189.60" width="4.54" height="4.92" fill="#67001f"/>
<rect x="100.78" y="189.60" width="4.54" height="4.92" fill="#b2182b"/>
<rect x="104.72" y="189.60" width="4.54" height="4.92" fill="#b2182b"/>
<rect x="108.66" y="189.60" width="4.54" height="4.92" fill="#b2182b"/>
<rect x="112.60" y="189.60" width="4.54" height="4.92" fill="#fddbc7"/>
<rect x="116.54" y="189.60" width="4.54" height="4.92" fill="#f7f7f7"/>
<rect x="120.48" y="189.60" width="4.54" height="4.92" fill="#f7f7f7"/>
<rect x="124.42" y="189.60" width="4.54" height="4.92" fill="#fddbc7"/>
<rect x="128.36" y="189.60" width="4.54" height="4.92" fill="#f7f7f7"/>
<rect x="132.30" y="189.60" width="4.54" height="4.92" fill="#f7f7f7"/>
<rect x="136.24" y="189.60" width="4.54" height="4.92" fill="#d6604d"/>
<rect x="140.18" y="189.60" width="4.54" height="4.92" fill="#d6604d"/>
<rect x="144.12" y="189.60" width="4.54" height="4.92" fill="#fddbc7"/>
<rect x="148.06" y="189.60" width="4.54" height="4.92" fill="#f4a582"/>
<rect x="152.00" y="189.60" width="4.54" height="4.92" fill="#d6604d"/>
<rect x="155.94" y="189.60" width="4.54" height="4.92" fill="#f4a582"/>
<rect x="159.88" y="189.60" width="4.54" height="4.92" fill="#d6604d"/>
<rect x="163.82" y="189.60" width="4.54" height="4.92" fill="#b2182b"/>
<rect x="167.76" y="189.60" width="4.54" height="4.92" fill="#d6604d"/>
<rect x="171.70" y="189.60" width="4.54" height="4.92" fill="#b2182b"/>
<rect x="175.64" y="189.60" width="4.54" height="4.92" fill="#d6604d"/>
<rect x="179.58" y="189.60" width="4.54" height="4.92" fill="#d6604d"/>
<rect x="183.52" y="189.60" width="4.54" height="4.92" fill="#d6604d"/>
<rect x="187.46" y="189.60" width="4.54" height="4.92" fill="#67001f"/>
<rect x="191.40" y="189.60" width="4.54" height="4.92" fill="#b2182b"/>
<rect x="195.34" y="189.60" width="4.54" height="4.92" fill="#d6604d"/>
<rect x="199.28" y="189.60" width="4.54" height="4.92" fill="#b2182b"/>
<rect x="203.22" y="189.60" width="3.94" height="4.92" fill="#d6604d"/>
<rect x="73.20" y="193.92" width="4.54" height="4.92" fill="#fddbc7"/>
<rect x="77.14" y="193.92" width="4.54" height="4.92" fill="#f4a582"/>
<rect x="81.08" y="193.92" width="4.54" height="4.92" fill="#92c5de"/>
<rect x="85.02" y="193.92" width="4.54" height="4.92" fill="#b2182b"/>
<rect x="88.96" y="193.92" width="4.54" height="4.92" fill="#f4a582"/>
<rect x="92.90" y="193.92" width="4.54" height="4.92" fill="#67001f"/>
<rect x="96.84" y="193.92" width="4.54" height="4.92" fill="#f7f7f7"/>
<rect x="100.78" y="193.92" width="4.54" height="4.92" fill="#fddbc7"/>
<rect x="104.72" y="193.92" width="4.54" height="4.92" fill="#fddbc7"/>
<rect x="108.66" y="193.92" width="4.54" height="4.92" fill="#fddbc7"/>
<rect x="112.60" y="193.92" width="4.54" height="4.92" fill="#fddbc7"/>
<rect x="116.54" y="193.92" width="4.54" height="4.92" fill="#f7f7f7"/>
<rect x="120.48" y="193.92" width="4.54" height="4.92" fill="#f7f7f7"/>
<rect x="124.42" y="193.92" width="4.54" height="4.92" fill="#f4a582"/>
<rect x="128.36" y="193.92" width="4.54" height="4.92" fill="#fddbc7"/>
<rect x="132.30" y="193.92" width="4.54" height="4.92" fill="#f4a582"/>
<rect x="136.24" y="193.92" width="4.54" height="4.92" fill="#f4a582"/>
<rect x="140.18" y="193.92" width="4.54" height="4.92" fill="#d6604d"/>
<rect x="144.12" y="193.92" width="4.54" height="4.92" fill="#f4a582"/>
<rect x="148.06" y="193.92" width="4.54" height="4.92" fill="#f4a582"/>
<rect x="152.00" y="193.92" width="4.54" height="4.92" fill="#d6604d"/>
<rect x="155.94" y="193.92" width="4.54" height="4.92" fill="#f4a582"/>
<rect x="159.88" y="193.92" width="4.54" height="4.92" fill="#f4a582"/>
<rect x="163.82" y="193.92" width="4.54" height="4.92" fill="#d6604d"/>
<rect x="167.76" y="193.92" width="4.54" height="4.92" fill="#f4a582"/>
<rect x="171.70" y="193.92" width="4.54" height="4.92" fill="#d6604d"/>
<rect x="175.64" y="193.92" width="4.54" height="4.92" fill="#f4a582"/>
<rect x="179.58" y="193.92" width="4.54" height="4.92" fill="#f4a582"/>
<rect x="183.52" y="193.92" width="4.54" height="4.92" fill="#f4a582"/>
<rect x="187.46" y="193.92" width="4.54" height="4.92" fill="#b2182b"/>
<rect x="191.40" y="193.92" width="4.54" height="4.92" fill="#b2182b"/>
<rect x="195.34" y="193.92" width="4.54" height="4.92" fill="#f4a582"/>
<rect x="199.28" y="193.92" width="4.54" height="4.92" fill="#67001f"/>
<rect x="203.22" y="193.92" width="3.94" height="4.92" fill="#f4a582"/>
<rect x="73.20" y="198.24" width="4.54" height="4.92" fill="#f7f7f7"/>
<rect x="77.14" y="198.24" width="4.54" height="4.92" fill="#4393c3"/>
<rect x="81.08" y="198.24" width="4.54" height="4.92" fill="#4393c3"/>
<rect x="85.02" y="198.24" width="4.54" height="4.92" fill="#fddbc7"/>
<rect x="88.96" y="198.24" width="4.54" height="4.92" fill="#fddbc7"/>
<rect x="92.90" y="198.24" width="4.54" height="4.92" fill="#b2182b"/>
<rect x="96.84" y="198.24" width="4.54" height="4.92" fill="#fddbc7"/>
<rect x="100.78" y="198.24" width="4.54" height="4.92" fill="#f7f7f7"/>
<rect x="104.72" y="198.24" width="4.54" height="4.92" fill="#67001f"/>
<rect x="108.66" y="198.24" width="4.54" height="4.92" fill="#67001f"/>
<rect x="112.60" y="198.24" width="4.54" height="4.92" fill="#f4a582"/>
<rect x="116.54" y="198.24" width="4.54" height="4.92" fill="#f7f7f7"/>
<rect x="120.48" y="198.24" width="4.54" height="4.92" fill="#f7f7f7"/>
<rect x="124.42" y="198.24" width="4.54" height="4.92" fill="#f7f7f7"/>
<rect x="128.36" y="198.24" width="4.54" height="4.92" fill="#f7f7f7"/>
<rect x="132.30" y="198.24" width="4.54" height="4.92" fill="#f7f7f7"/>
<rect x="136.24" y="198.24" width="4.54" height="4.92" fill="#b2182b"/>
<rect x="140.18" y="198.24" width="4.54" height="4.92" fill="#b2182b"/>
<rect x="144.12" y="198.24" width="4.54" height="4.92" fill="#f4a582"/>
<rect x="148.06" y="198.24" width="4.54" height="4.92" fill="#f4a582"/>
<rect x="152.00" y="198.24" width="4.54" height="4.92" fill="#f4a582"/>
<rect x="155.94" y="198.24" width="4.54" height="4.92" fill="#fddbc7"/>
<rect x="159.88" y="198.24" width="4.54" height="4.92" fill="#67001f"/>
<rect x="163.82" y="198.24" width="4.54" height="4.92" fill="#67001f"/>
<rect x="167.76" y="198.24" width="4.54" height="4.92" fill="#67001f"/>
<rect x="171.70" y="198.24" width="4.54" height="4.92" fill="#67001f"/>
<rect x="175.64" y="198.24" width="4.54" height="4.92" fill="#67001f"/>
<rect x="179.58" y="198.24" width="4.54" height="4.92" fill="#67001f"/>
<rect x="183.52" y="198.24" width="4.54" height="4.92" fill="#67001f"/>
<rect x="187.46" y="198.24" width="4.54" height="4.92" fill="#b2182b"/>
<rect x="191.40" y="198.24" width="4.54" height="4.92" fill="#b2182b"/>
<rect x="195.34" y="198.24" width="4.54" height="4.92" fill="#d6604d"/>
<rect x="199.28" y="198.24" width="4.54" height="4.92" fill="#b2182b"/>
<rect x="203.22" y="198.24" width="3.94" height="4.92" fill="#d6604d"/>
<rect x="73.20" y="202.56" width="4.54" height="4.92" fill="#f7f7f7"/>
<rect x="77.14" y="202.56" width="4.54" height="4.92" fill="#4393c3"/>
<rect x="81.08" y="202.56" width="4.54" height="4.92" fill="#92c5de"/>
<rect x="85.02" y="202.56" width="4.54" height="4.92" fill="#fddbc7"/>
<rect x="88.96" y="202.56" width="4.54" height="4.92" fill="#fddbc7"/>
<rect x="92.90" y="202.56" width="4.54" height="4.92" fill="#b2182b"/>
<rect x="96.84" y="202.56" width="4.54" height="4.92" fill="#fddbc7"/>
<rect x="100.78" y="202.56" width="4.54" height="4.92" fill="#67001f"/>
<rect x="104.72" y="202.56" width="4.54" height="4.92" fill="#f7f7f7"/>
<rect x="108.66" y="202.56" width="4.54" height="4.92" fill="#67001f"/>
<rect x="112.60" y="202.56" width="4.54" height="4.92" fill="#f4a582"/>
<rect x="116.54" y="202.56" width="4.54" height="4.92" fill="#f7f7f7"/>
<rect x="120.48" y="202.56" width="4.54" height="4.92" fill="#d1e5f0"/>
<rect x="124.42" y="202.56" width="4.54" height="4.92" fill="#d1e5f0"/>
<rect x="128.36" y="202.56" width="4.54" height="4.92" fill="#f7f7f7"/>
<rect x="132.30" y="202.56" width="4.54" height="4.92" fill="#f7f7f7"/>
<rect x="136.24" y="202.56" width="4.54" height="4.92" fill="#b2182b"/>
<rect x="140.18" y="202.56" width="4.54" height="4.92" fill="#b2182b"/>
<rect x="144.12" y="202.56" width="4.54" height="4.92" fill="#d6604d"/>
<rect x="148.06" y="202.56" width="4.54" height="4.92" fill="#d6604d"/>
<rect x="152.00" y="202.56" width="4.54" height="4.92" fill="#f4a582"/>
<rect x="155.94" y="202.56" width="4.54" height="4.92" fill="#fddbc7"/>
<rect x="159.88" y="202.56" width="4.54" height="4.92" fill="#67001f"/>
<rect x="163.82" y="202.56" width="4.54" height="4.92" fill="#67001f"/>
<rect x="167.76" y="202.56" width="4.54" height="4.92" fill="#67001f"/>
<rect x="171.70" y="202.56" width="4.54" height="4.92" fill="#b2182b"/>
<rect x="175.64" y="202.56" width="4.54" height="4.92" fill="#67001f"/>
<rect x="179.58" y="202.56" width="4.54" height="4.92" fill="#67001f"/>
<rect x="183.52" y="202.56" width="4.54" height="4.92" fill="#67001f"/>
<rect x="187.46" y="202.56" width="4.54" height="4.92" fill="#b2182b"/>
<rect x="191.40" y="202.56" width="4.54" height="4.92" fill="#b2182b"/>
<rect x="195.34" y="202.56" width="4.54" height="4.92" fill="#d6604d"/>
<rect x="199.28" y="202.56" width="4.54" height="4.92" fill="#d6604d"/>
<rect x="203.22" y="202.56" width="3.94" height="4.92" fill="#d6604d"/>
<rect x="73.20" y="206.88" width="4.54" height="4.92" fill="#fddbc7"/>
<rect x="77.14" y="206.88" width="4.54" height="4.92" fill="#f7f7f7"/>
<rect x="81.08" y="206.88" width="4.54" height="4.92" fill="#d1e5f0"/>
<rect x="85.02" y="206.88" width="4.54" height="4.92" fill="#f4a582"/>
<rect x="88.96" y="206.88" width="4.54" height="4.92" fill="#d6604d"/>
<rect x="92.90" y="206.88" width="4.54" height="4.92" fill="#b2182b"/>
<rect x="96.84" y="206.88" width="4.54" height="4.92" fill="#fddbc7"/>
<rect x="100.78" y="206.88" width="4.54" height="4.92" fill="#67001f"/>
<rect x="104.72" y="206.88" width="4.54" height="4.92" fill="#67001f"/>
<rect x="108.66" y="206.88" width="4.54" height="4.92" fill="#f7f7f7"/>
<rect x="112.60" y="206.88" width="4.54" height="4.92" fill="#fddbc7"/>
<rect x="116.54" y="206.88" width="4.54" height="4.92" fill="#f7f7f7"/>
<rect x="120.48" y="206.88" width="4.54" height="4.92" fill="#92c5de"/>
<rect x="124.42" y="206.88" width="4.54" height="4.92" fill="#92c5de"/>
<rect x="128.36" y="206.88" width="4.54" height="4.92" fill="#d1e5f0"/>
<rect x="132.30" y="206.88" width="4.54" height="4.92" fill="#92c5de"/>
<rect x="136.24" y="206.88" width="4.54" height="4.92" fill="#f4a582"/>
<rect x="140.18" y="206.88" width="4.54" height="4.92" fill="#f4a582"/>
<rect x="144.12" y="206.88" width="4.54" height="4.92" fill="#fddbc7"/>
<rect x="148.06" y="206.88" width="4.54" height="4.92" fill="#f7f7f7"/>
<rect x="152.00" y="206.88" width="4.54" height="4.92" fill="#f7f7f7"/>
<rect x="155.94" y="206.88" width="4.54" height="4.92" fill="#f7f7f7"/>
<rect x="159.88" y="206.88" width="4.54" height="4.92" fill="#b2182b"/>
<rect x="163.82" y="206.88" width="4.54" height="4.92" fill="#b2182b"/>
<rect x="167.76" y="206.88" width="4.54" height="4.92" fill="#b2182b"/>
<rect x="171.70" y="206.88" width="4.54" height="4.92" fill="#b2182b"/>
<rect x="175.64" y="206.88" width="4.54" height="4.92" fill="#f4a582"/>
<rect x="179.58" y="206.88" width="4.54" height="4.92" fill="#d6604d"/>
<rect x="183.52" y="206.88" width="4.54" height="4.92" fill="#b2182b"/>
<rect x="187.46" y="206.88" width="4.54" height="4.92" fill="#b2182b"/>
<rect x="191.40" y="206.88" width="4.54" height="4.92" fill="#d6604d"/>
<rect x="195.34" y="206.88" width="4.54" height="4.92" fill="#d6604d"/>
<rect x="199.28" y="206.88" width="4.54" height="4.92" fill="#d6604d"/>
<rect x="203.22" y="206.88" width="3.94" height="4.92" fill="#d6604d"/>
<rect x="73.20" y="211.20" width="4.54" height="4.92" fill="#f7f7f7"/>
<rect x="77.14" y="211.20" width="4.54" height="4.92" fill="#fddbc7"/>
<rect x="81.08" y="211.20" width="4.54" height="4.92" fill="#f7f7f7"/>
<rect x="85.02" y="211.20" width="4.54" height="4.92" fill="#f7f7f7"/>
<rect x="88.96" y="211.20" width="4.54" height="4.92" fill="#f7f7f7"/>
<rect x="92.90" y="211.20" width="4.54" height="4.92" fill="#fddbc7"/>
<rect x="96.84" y="211.20" width="4.54" height="4.92" fill="#fddbc7"/>
<rect x="100.78" y="211.20" width="4.54" height="4.92" fill="#f4a582"/>
<rect x="104.72" y="211.20" width="4.54" height="4.92" fill="#f4a582"/>
<rect x="108.66" y="211.20" width="4.54" height="4.92" fill="#fddbc7"/>
<rect x="112.60" y="211.20" width="4.54" height="4.92" fill="#f7f7f7"/>
<rect x="116.54" y="211.20" width="4.54" height="4.92" fill="#f7f7f7"/>
<rect x="120.48" y="211.20" width="4.54" height="4.92" fill="#92c5de"/>
<rect x="124.42" y="211.20" width="4.54" height="4.92" fill="#f7f7f7"/>
<rect x="128.36" y="211.20" width="4.54" height="4.92" fill="#f7f7f7"/>
<rect x="132.30" y="211.20" width="4.54" height="4.92" fill="#f7f7f7"/>
<rect x="136.24" y="211.20" width="4.54" height="4.92" fill="#fddbc7"/>
<rect x="140.18" y="211.20" width="4.54" height="4.92" fill="#fddbc7"/>
<rect x="144.12" y="211.20" width="4.54" height="4.92" fill="#f4a582"/>
<rect x="148.06" y="211.20" width="4.54" height="4.92" fill="#f7f7f7"/>
<rect x="152.00" y="211.20" width="4.54" height="4.92" fill="#f7f7f7"/>
<rect x="155.94" y="211.20" width="4.54" height="4.92" fill="#f7f7f7"/>
<rect x="159.88" y="211.20" width="4.54" height="4.92" fill="#d6604d"/>
<rect x="163.82" y="211.20" width="4.54" height="4.92" fill="#d6604d"/>
<rect x="167.76" y="211.20" width="4.54" height="4.92" fill="#f4a582"/>
<rect x="171.70" y="211.20" width="4.54" height="4.92" fill="#d6604d"/>
<rect x="175.64" y="211.20" width="4.54" height="4.92" fill="#f4a582"/>
<rect x="179.58" y="211.20" width="4.54" height="4.92" fill="#f4a582"/>
<rect x="183.52" y="211.20" width="4.54" height="4.92" fill="#d6604d"/>
<rect x="187.46" y="211.20" width="4.54" height="4.92" fill="#f4a582"/>
<rect x="191.40" y="211.20" width="4.54" height="4.92" fill="#f7f7f7"/>
<rect x="195.34" y="211.20" width="4.54" height="4.92" fill="#fddbc7"/>
<rect x="199.28" y="211.20" width="4.54" height="4.92" fill="#f4a582"/>
<rect x="203.22" y="211.20" width="3.94" height="4.92" fill="#f7f7f7"/>
<rect x="73.20" y="215.52" width="4.54" height="4.92" fill="#053061"/>
<rect x="77.14" y="215.52" width="4.54" height="4.92" fill="#f7f7f7"/>
<rect x="81.08" y="215.52" width="4.54" height="4.92" fill="#92c5de"/>
<rect x="85.02" y="215.52" width="4.54" height="4.92" fill="#92c5de"/>
<rect x="88.96" y="215.52" width="4.54" height="4.92" fill="#92c5de"/>
<rect x="92.90" y="215.52" width="4.54" height="4.92" fill="#f7f7f7"/>
<rect x="96.84" y="215.52" width="4.54" height="4.92" fill="#f7f7f7"/>
<rect x="100.78" y="215.52" width="4.54" height="4.92" fill="#f7f7f7"/>
<rect x="104.72" y="215.52" width="4.54" height="4.92" fill="#f7f7f7"/>
<rect x="108.66" y="215.52" width="4.54" height="4.92" fill="#f7f7f7"/>
<rect x="112.60" y="215.52" width="4.54" height="4.92" fill="#f7f7f7"/>
<rect x="116.54" y="215.52" width="4.54" height="4.92" fill="#f7f7f7"/>
<rect x="120.48" y="215.52" width="4.54" height="4.92" fill="#d6604d"/>
<rect x="124.42" y="215.52" width="4.54" height="4.92" fill="#b2182b"/>
<rect x="128.36" y="215.52" width="4.54" height="4.92" fill="#d6604d"/>
<rect x="132.30" y="215.52" width="4.54" height="4.92" fill="#b2182b"/>
<rect x="136.24" y="215.52" width="4.54" height="4.92" fill="#b2182b"/>
<rect x="140.18" y="215.52" width="4.54" height="4.92" fill="#b2182b"/>
<rect x="144.12" y="215.52" width="4.54" height="4.92" fill="#f4a582"/>
<rect x="148.06" y="215.52" width="4.54" height="4.92" fill="#b2182b"/>
<rect x="152.00" y="215.52" width="4.54" height="4.92" fill="#b2182b"/>
<rect x="155.94" y="215.52" width="4.54" height="4.92" fill="#b2182b"/>
<rect x="159.88" y="215.52" width="4.54" height="4.92" fill="#fddbc7"/>
<rect x="163.82" y="215.52" width="4.54" height="4.92" fill="#fddbc7"/>
<rect x="167.76" y="215.52" width="4.54" height="4.92" fill="#f4a582"/>
<rect x="171.70" y="215.52" width="4.54" height="4.92" fill="#b2182b"/>
<rect x="175.64" y="215.52" width="4.54" height="4.92" fill="#b2182b"/>
<rect x="179.58" y="215.52" width="4.54" height="4.92" fill="#f4a582"/>
<rect x="183.52" y="215.52" width="4.54" height="4.92" fill="#d6604d"/>
<rect x="187.46" y="215.52" width="4.54" height="4.92" fill="#f4a582"/>
<rect x="191.40" y="215.52" width="4.54" height="4.92" fill="#d6604d"/>
<rect x="195.34" y="215.52" width="4.54" height="4.92" fill="#f4a582"/>
<rect x="199.28" y="215.52" width="4.54" height="4.92" fill="#f4a582"/>
<rect x="203.22" y="215.52" width="3.94" height="4.92" fill="#fddbc7"/>
<rect x="73.20" y="219.84" width="4.54" height="4.92" fill="#2166ac"/>
<rect x="77.14" y="219.84" width="4.54" height="4.92" fill="#d6604d"/>
<rect x="81.08" y="219.84" width="4.54" height="4.92" fill="#f7f7f7"/>
<rect x="85.02" y="219.84" width="4.54" height="4.92" fill="#f7f7f7"/>
<rect x="88.96" y="219.84" width="4.54" height="4.92" fill="#f7f7f7"/>
<rect x="92.90" y="219.84" width="4.54" height="4.92" fill="#f7f7f7"/>
<rect x="96.84" y="219.84" width="4.54" height="4.92" fill="#f7f7f7"/>
<rect x="100.78" y="219.84" width="4.54" height="4.92" fill="#f7f7f7"/>
<rect x="104.72" y="219.84" width="4.54" height="4.92" fill="#d1e5f0"/>
<rect x="108.66" y="219.84" width="4.54" height="4.92" fill="#92c5de"/>
<rect x="112.60" y="219.84" width="4.54" height="4.92" fill="#92c5de"/>
<rect x="116.54" y="219.84" width="4.54" height="4.92" fill="#d6604d"/>
<rect x="120.48" y="219.84" width="4.54" height="4.92" fill="#f7f7f7"/>
<rect x="124.42" y="219.84" width="4.54" height="4.92" fill="#67001f"/>
<rect x="128.36" y="219.84" width="4.54" height="4.92" fill="#67001f"/>
<rect x="132.30" y="219.84" width="4.54" height="4.92" fill="#b2182b"/>
<rect x="136.24" y="219.84" width="4.54" height="4.92" fill="#d6604d"/>
<rect x="140.18" y="219.84" width="4.54" height="4.92" fill="#f4a582"/>
<rect x="144.12" y="219.84" width="4.54" height="4.92" fill="#d6604d"/>
<rect x="148.06" y="219.84" width="4.54" height="4.92" fill="#67001f"/>
<rect x="152.00" y="219.84" width="4.54" height="4.92" fill="#b2182b"/>
<rect x="155.94" y="219.84" width="4.54" height="4.92" fill="#b2182b"/>
<rect x="159.88" y="219.84" width="4.54" height="4.92" fill="#fddbc7"/>
<rect x="163.82" y="219.84" width="4.54" height="4.92" fill="#fddbc7"/>
<rect x="167.76" y="219.84" width="4.54" height="4.92" fill="#fddbc7"/>
<rect x="171.70" y="219.84" width="4.54" height="4.92" fill="#fddbc7"/>
<rect x="175.64" y="219.84" width="4.54" height="4.92" fill="#fddbc7"/>
<rect x="179.58" y="219.84" width="4.54" height="4.92" fill="#fddbc7"/>
<rect x="183.52" y="219.84" width="4.54" height="4.92" fill="#fddbc7"/>
<rect x="187.46" y="219.84" width="4.54" height="4.92" fill="#f4a582"/>
<rect x="191.40" y="219.84" width="4.54" height="4.92" fill="#d6604d"/>
<rect x="195.34" y="219.84" width="4.54" height="4.92" fill="#b2182b"/>
<rect x="199.28" y="219.84" width="4.54" height="4.92" fill="#f7f7f7"/>
<rect x="203.22" y="219.84" width="3.94" height="4.92" fill="#f4a582"/>
<rect x="73.20" y="224.16" width="4.54" height="4.92" fill="#053061"/>
<rect x="77.14" y="224.16" width="4.54" height="4.92" fill="#f4a582"/>
<rect x="81.08" y="224.16" width="4.54" height="4.92" fill="#f7f7f7"/>
<rect x="85.02" y="224.16" width="4.54" height="4.92" fill="#fddbc7"/>
<rect x="88.96" y="224.16" width="4.54" height="4.92" fill="#d1e5f0"/>
<rect x="92.90" y="224.16" width="4.54" height="4.92" fill="#fddbc7"/>
<rect x="96.84" y="224.16" width="4.54" height="4.92" fill="#f4a582"/>
<rect x="100.78" y="224.16" width="4.54" height="4.92" fill="#f7f7f7"/>
<rect x="104.72" y="224.16" width="4.54" height="4.92" fill="#d1e5f0"/>
<rect x="108.66" y="224.16" width="4.54" height="4.92" fill="#92c5de"/>
<rect x="112.60" y="224.16" width="4.54" height="4.92" fill="#f7f7f7"/>
<rect x="116.54" y="224.16" width="4.54" height="4.92" fill="#b2182b"/>
<rect x="120.48" y="224.16" width="4.54" height="4.92" fill="#67001f"/>
<rect x="124.42" y="224.16" width="4.54" height="4.92" fill="#f7f7f7"/>
<rect x="128.36" y="224.16" width="4.54" height="4.92" fill="#67001f"/>
<rect x="132.30" y="224.16" width="4.54" height="4.92" fill="#67001f"/>
<rect x="136.24" y="224.16" width="4.54" height="4.92" fill="#b2182b"/>
<rect x="140.18" y="224.16" width="4.54" height="4.92" fill="#d6604d"/>
<rect x="144.12" y="224.16" width="4.54" height="4.92" fill="#f4a582"/>
<rect x="148.06" y="224.16" width="4.54" height="4.92" fill="#67001f"/>
<rect x="152.00" y="224.16" width="4.54" height="4.92" fill="#b2182b"/>
<rect x="155.94" y="224.16" width="4.54" height="4.92" fill="#b2182b"/>
<rect x="159.88" y="224.16" width="4.54" height="4.92" fill="#fddbc7"/>
<rect x="163.82" y="224.16" width="4.54" height="4.92" fill="#fddbc7"/>
<rect x="167.76" y="224.16" width="4.54" height="4.92" fill="#fddbc7"/>
<rect x="171.70" y="224.16" width="4.54" height="4.92" fill="#d6604d"/>
<rect x="175.64" y="224.16" width="4.54" height="4.92" fill="#f4a582"/>
<rect x="179.58" y="224.16" width="4.54" height="4.92" fill="#fddbc7"/>
<rect x="183.52" y="224.16" width="4.54" height="4.92" fill="#f4a582"/>
<rect x="187.46" y="224.16" width="4.54" height="4.92" fill="#f4a582"/>
<rect x="191.40" y="224.16" width="4.54" height="4.92" fill="#d6604d"/>
<rect x="195.34" y="224.16" width="4.54" height="4.92" fill="#b2182b"/>
<rect x="199.28" y="224.16" width="4.54" height="4.92" fill="#d6604d"/>
<rect x="203.22" y="224.16" width="3.94" height="4.92" fill="#b2182b"/>
<rect x="73.20" y="228.48" width="4.54" height="4.92" fill="#2166ac"/>
<rect x="77.14" y="228.48" width="4.54" height="4.92" fill="#f4a582"/>
<rect x="81.08" y="228.48" width="4.54" height="4.92" fill="#f7f7f7"/>
<rect x="85.02" y="228.48" width="4.54" height="4.92" fill="#fddbc7"/>
<rect x="88.96" y="228.48" width="4.54" height="4.92" fill="#92c5de"/>
<rect x="92.90" y="228.48" width="4.54" height="4.92" fill="#f7f7f7"/>
<rect x="96.84" y="228.48" width="4.54" height="4.92" fill="#fddbc7"/>
<rect x="100.78" y="228.48" width="4.54" height="4.92" fill="#f7f7f7"/>
<rect x="104.72" y="228.48" width="4.54" height="4.92" fill="#f7f7f7"/>
<rect x="108.66" y="228.48" width="4.54" height="4.92" fill="#d1e5f0"/>
<rect x="112.60" y="228.48" width="4.54" height="4.92" fill="#f7f7f7"/>
<rect x="116.54" y="228.48" width="4.54" height="4.92" fill="#d6604d"/>
<rect x="120.48" y="228.48" width="4.54" height="4.92" fill="#67001f"/>
<rect x="124.42" y="228.48" width="4.54" height="4.92" fill="#67001f"/>
<rect x="128.36" y="228.48" width="4.54" height="4.92" fill="#f7f7f7"/>
<rect x="132.30" y="228.48" width="4.54" height="4.92" fill="#b2182b"/>
<rect x="136.24" y="228.48" width="4.54" height="4.92" fill="#67001f"/>
<rect x="140.18" y="228.48" width="4.54" height="4.92" fill="#d6604d"/>
<rect x="144.12" y="228.48" width="4.54" height="4.92" fill="#d6604d"/>
<rect x="148.06" y="228.48" width="4.54" height="4.92" fill="#b2182b"/>
<rect x="152.00" y="228.48" width="4.54" height="4.92" fill="#67001f"/>
<rect x="155.94" y="228.48" width="4.54" height="4.92" fill="#b2182b"/>
<rect x="159.88" y="228.48" width="4.54" height="4.92" fill="#fddbc7"/>
<rect x="163.82" y="228.48" width="4.54" height="4.92" fill="#f4a582"/>
<rect x="167.76" y="228.48" width="4.54" height="4.92" fill="#f4a582"/>
<rect x="171.70" y="228.48" width="4.54" height="4.92" fill="#fddbc7"/>
<rect x="175.64" y="228.48" width="4.54" height="4.92" fill="#f4a582"/>
<rect x="179.58" y="228.48" width="4.54" height="4.92" fill="#f4a582"/>
<rect x="183.52" y="228.48" width="4.54" height="4.92" fill="#f4a582"/>
<rect x="187.46" y="228.48" width="4.54" height="4.92" fill="#f4a582"/>
<rect x="191.40" y="228.48" width="4.54" height="4.92" fill="#d6604d"/>
<rect x="195.34" y="228.48" width="4.54" height="4.92" fill="#b2182b"/>
<rect x="199.28" y="228.48" width="4.54" height="4.92" fill="#f7f7f7"/>
<rect x="203.22" y="228.48" width="3.94" height="4.92" fill="#b2182b"/>
<rect x="73.20" y="232.80" width="4.54" height="4.92" fill="#053061"/>
<rect x="77.14" y="232.80" width="4.54" height="4.92" fill="#f4a582"/>
<rect x="81.08" y="232.80" width="4.54" height="4.92" fill="#f7f7f7"/>
<rect x="85.02" y="232.80" width="4.54" height="4.92" fill="#f7f7f7"/>
<rect x="88.96" y="232.80" width="4.54" height="4.92" fill="#92c5de"/>
<rect x="92.90" y="232.80" width="4.54" height="4.92" fill="#f7f7f7"/>
<rect x="96.84" y="232.80" width="4.54" height="4.92" fill="#f4a582"/>
<rect x="100.78" y="232.80" width="4.54" height="4.92" fill="#f7f7f7"/>
<rect x="104.72" y="232.80" width="4.54" height="4.92" fill="#f7f7f7"/>
<rect x="108.66" y="232.80" width="4.54" height="4.92" fill="#92c5de"/>
<rect x="112.60" y="232.80" width="4.54" height="4.92" fill="#f7f7f7"/>
<rect x="116.54" y="232.80" width="4.54" height="4.92" fill="#b2182b"/>
<rect x="120.48" y="232.80" width="4.54" height="4.92" fill="#b2182b"/>
<rect x="124.42" y="232.80" width="4.54" height="4.92" fill="#67001f"/>
<rect x="128.36" y="232.80" width="4.54" height="4.92" fill="#b2182b"/>
<rect x="132.30" y="232.80" width="4.54" height="4.92" fill="#f7f7f7"/>
<rect x="136.24" y="232.80" width="4.54" height="4.92" fill="#b2182b"/>
<rect x="140.18" y="232.80" width="4.54" height="4.92" fill="#d6604d"/>
<rect x="144.12" y="232.80" width="4.54" height="4.92" fill="#d6604d"/>
<rect x="148.06" y="232.80" width="4.54" height="4.92" fill="#b2182b"/>
<rect x="152.00" y="232.80" width="4.54" height="4.92" fill="#67001f"/>
<rect x="155.94" y="232.80" width="4.54" height="4.92" fill="#b2182b"/>
<rect x="159.88" y="232.80" width="4.54" height="4.92" fill="#fddbc7"/>
<rect x="163.82" y="232.80" width="4.54" height="4.92" fill="#fddbc7"/>
<rect x="167.76" y="232.80" width="4.54" height="4.92" fill="#fddbc7"/>
<rect x="171.70" y="232.80" width="4.54" height="4.92" fill="#d6604d"/>
<rect x="175.64" y="232.80" width="4.54" height="4.92" fill="#fddbc7"/>
<rect x="179.58" y="232.80" width="4.54" height="4.92" fill="#f4a582"/>
<rect x="183.52" y="232.80" width="4.54" height="4.92" fill="#f4a582"/>
<rect x="187.46" y="232.80" width="4.54" height="4.92" fill="#fddbc7"/>
<rect x="191.40" y="232.80" width="4.54" height="4.92" fill="#d6604d"/>
<rect x="195.34" y="232.80" width="4.54" height="4.92" fill="#d6604d"/>
<rect x="199.28" y="232.80" width="4.54" height="4.92" fill="#d6604d"/>
<rect x="203.22" y="232.80" width="3.94" height="4.92" fill="#d6604d"/>
<rect x="73.20" y="237.12" width="4.54" height="4.92" fill="#4393c3"/>
<rect x="77.14" y="237.12" width="4.54" height="4.92" fill="#f7f7f7"/>
<rect x="81.08" y="237.12" width="4.54" height="4.92" fill="#4393c3"/>
<rect x="85.02" y="237.12" width="4.54" height="4.92" fill="#f7f7f7"/>
<rect x="88.96" y="237.12" width="4.54" height="4.92" fill="#f7f7f7"/>
<rect x="92.90" y="237.12" width="4.54" height="4.92" fill="#d6604d"/>
<rect x="96.84" y="237.12" width="4.54" height="4.92" fill="#f4a582"/>
<rect x="100.78" y="237.12" width="4.54" height="4.92" fill="#b2182b"/>
<rect x="104.72" y="237.12" width="4.54" height="4.92" fill="#b2182b"/>
<rect x="108.66" y="237.12" width="4.54" height="4.92" fill="#f4a582"/>
<rect x="112.60" y="237.12" width="4.54" height="4.92" fill="#fddbc7"/>
<rect x="116.54" y="237.12" width="4.54" height="4.92" fill="#b2182b"/>
<rect x="120.48" y="237.12" width="4.54" height="4.92" fill="#d6604d"/>
<rect x="124.42" y="237.12" width="4.54" height="4.92" fill="#b2182b"/>
<rect x="128.36" y="237.12" width="4.54" height="4.92" fill="#67001f"/>
<rect x="132.30" y="237.12" width="4.54" height="4.92" fill="#b2182b"/>
<rect x="136.24" y="237.12" width="4.54" height="4.92" fill="#f7f7f7"/>
<rect x="140.18" y="237.12" width="4.54" height="4.92" fill="#67001f"/>
<rect x="144.12" y="237.12" width="4.54" height="4.92" fill="#b2182b"/>
<rect x="148.06" y="237.12" width="4.54" height="4.92" fill="#b2182b"/>
<rect x="152.00" y="237.12" width="4.54" height="4.92" fill="#b2182b"/>
<rect x="155.94" y="237.12" width="4.54" height="4.92" fill="#b2182b"/>
<rect x="159.88" y="237.12" width="4.54" height="4.92" fill="#b2182b"/>
<rect x="163.82" y="237.12" width="4.54" height="4.92" fill="#b2182b"/>
<rect x="167.76" y="237.12" width="4.54" height="4.92" fill="#67001f"/>
<rect x="171.70" y="237.12" width="4.54" height="4.92" fill="#67001f"/>
<rect x="175.64" y="237.12" width="4.54" height="4.92" fill="#b2182b"/>
<rect x="179.58" y="237.12" width="4.54" height="4.92" fill="#67001f"/>
<rect x="183.52" y="237.12" width="4.54" height="4.92" fill="#b2182b"/>
<rect x="187.46" y="237.12" width="4.54" height="4.92" fill="#b2182b"/>
<rect x="191.40" y="237.12" width="4.54" height="4.92" fill="#67001f"/>
<rect x="195.34" y="237.12" width="4.54" height="4.92" fill="#b2182b"/>
<rect x="199.28" y="237.12" width="4.54" height="4.92" fill="#b2182b"/>
<rect x="203.22" y="237.12" width="3.94" height="4.92" fill="#b2182b"/>
<rect x="73.20" y="241.44" width="4.54" height="4.92" fill="#4393c3"/>
<rect x="77.14" y="241.44" width="4.54" height="4.92" fill="#f7f7f7"/>
<rect x="81.08" y="241.44" width="4.54" height="4.92" fill="#92c5de"/>
<rect x="85.02" y="241.44" width="4.54" height="4.92" fill="#f7f7f7"/>
<rect x="88.96" y="241.44" width="4.54" height="4.92" fill="#f7f7f7"/>
<rect x="92.90" y="241.44" width="4.54" height="4.92" fill="#d6604d"/>
<rect x="96.84" y="241.44" width="4.54" height="4.92" fill="#d6604d"/>
<rect x="100.78" y="241.44" width="4.54" height="4.92" fill="#b2182b"/>
<rect x="104.72" y="241.44" width="4.54" height="4.92" fill="#b2182b"/>
<rect x="108.66" y="241.44" width="4.54" height="4.92" fill="#f4a582"/>
<rect x="112.60" y="241.44" width="4.54" height="4.92" fill="#fddbc7"/>
<rect x="116.54" y="241.44" width="4.54" height="4.92" fill="#b2182b"/>
<rect x="120.48" y="241.44" width="4.54" height="4.92" fill="#f4a582"/>
<rect x="124.42" y="241.44" width="4.54" height="4.92" fill="#d6604d"/>
<rect x="128.36" y="241.44" width="4.54" height="4.92" fill="#d6604d"/>
<rect x="132.30" y="241.44" width="4.54" height="4.92" fill="#d6604d"/>
<rect x="136.24" y="241.44" width="4.54" height="4.92" fill="#67001f"/>
<rect x="140.18" y="241.44" width="4.54" height="4.92" fill="#f7f7f7"/>
<rect x="144.12" y="241.44" width="4.54" height="4.92" fill="#b2182b"/>
<rect x="148.06" y="241.44" width="4.54" height="4.92" fill="#67001f"/>
<rect x="152.00" y="241.44" width="4.54" height="4.92" fill="#67001f"/>
<rect x="155.94" y="241.44" width="4.54" height="4.92" fill="#b2182b"/>
<rect x="159.88" y="241.44" width="4.54" height="4.92" fill="#b2182b"/>
<rect x="163.82" y="241.44" width="4.54" height="4.92" fill="#d6604d"/>
<rect x="167.76" y="241.44" width="4.54" height="4.92" fill="#67001f"/>
<rect x="171.70" y="241.44" width="4.54" height="4.92" fill="#67001f"/>
<rect x="175.64" y="241.44" width="4.54" height="4.92" fill="#67001f"/>
<rect x="179.58" y="241.44" width="4.54" height="4.92" fill="#67001f"/>
<rect x="183.52" y="241.44" width="4.54" height="4.92" fill="#b2182b"/>
<rect x="187.46" y="241.44" width="4.54" height="4.92" fill="#b2182b"/>
<rect x="191.40" y="241.44" width="4.54" height="4.92" fill="#67001f"/>
<rect x="195.34" y="241.44" width="4.54" height="4.92" fill="#b2182b"/>
<rect x="199.28" y="241.44" width="4.54" height="4.92" fill="#b2182b"/>
<rect x="203.22" y="241.44" width="3.94" height="4.92" fill="#67001f"/>
<rect x="73.20" y="245.76" width="4.54" height="4.92" fill="#4393c3"/>
<rect x="77.14" y="245.76" width="4.54" height="4.92" fill="#fddbc7"/>
<rect x="81.08" y="245.76" width="4.54" height="4.92" fill="#f4a582"/>
<rect x="85.02" y="245.76" width="4.54" height="4.92" fill="#fddbc7"/>
<rect x="88.96" y="245.76" width="4.54" height="4.92" fill="#f7f7f7"/>
<rect x="92.90" y="245.76" width="4.54" height="4.92" fill="#fddbc7"/>
<rect x="96.84" y="245.76" width="4.54" height="4.92" fill="#f4a582"/>
<rect x="100.78" y="245.76" width="4.54" height="4.92" fill="#f4a582"/>
<rect x="104.72" y="245.76" width="4.54" height="4.92" fill="#d6604d"/>
<rect x="108.66" y="245.76" width="4.54" height="4.92" fill="#fddbc7"/>
<rect x="112.60" y="245.76" width="4.54" height="4.92" fill="#f4a582"/>
<rect x="116.54" y="245.76" width="4.54" height="4.92" fill="#f4a582"/>
<rect x="120.48" y="245.76" width="4.54" height="4.92" fill="#d6604d"/>
<rect x="124.42" y="245.76" width="4.54" height="4.92" fill="#f4a582"/>
<rect x="128.36" y="245.76" width="4.54" height="4.92" fill="#d6604d"/>
<rect x="132.30" y="245.76" width="4.54" height="4.92" fill="#d6604d"/>
<rect x="136.24" y="245.76" width="4.54" height="4.92" fill="#b2182b"/>
<rect x="140.18" y="245.76" width="4.54" height="4.92" fill="#b2182b"/>
<rect x="144.12" y="245.76" width="4.54" height="4.92" fill="#f7f7f7"/>
<rect x="148.06" y="245.76" width="4.54" height="4.92" fill="#b2182b"/>
<rect x="152.00" y="245.76" width="4.54" height="4.92" fill="#d6604d"/>
<rect x="155.94" y="245.76" width="4.54" height="4.92" fill="#b2182b"/>
<rect x="159.88" y="245.76" width="4.54" height="4.92" fill="#b2182b"/>
<rect x="163.82" y="245.76" width="4.54" height="4.92" fill="#67001f"/>
<rect x="167.76" y="245.76" width="4.54" height="4.92" fill="#d6604d"/>
<rect x="171.70" y="245.76" width="4.54" height="4.92" fill="#f4a582"/>
<rect x="175.64" y="245.76" width="4.54" height="4.92" fill="#f4a582"/>
<rect x="179.58" y="245.76" width="4.54" height="4.92" fill="#b2182b"/>
<rect x="183.52" y="245.76" width="4.54" height="4.92" fill="#d6604d"/>
<rect x="187.46" y="245.76" width="4.54" height="4.92" fill="#f4a582"/>
<rect x="191.40" y="245.76" width="4.54" height="4.92" fill="#d6604d"/>
<rect x="195.34" y="245.76" width="4.54" height="4.92" fill="#d6604d"/>
<rect x="199.28" y="245.76" width="4.54" height="4.92" fill="#f4a582"/>
<rect x="203.22" y="245.76" width="3.94" height="4.92" fill="#b2182b"/>
<rect x="73.20" y="250.08" width="4.54" height="4.92" fill="#2166ac"/>
<rect x="77.14" y="250.08" width="4.54" height="4.92" fill="#fddbc7"/>
<rect x="81.08" y="250.08" width="4.54" height="4.92" fill="#f7f7f7"/>
<rect x="85.02" y="250.08" width="4.54" height="4.92" fill="#f7f7f7"/>
<rect x="88.96" y="250.08" width="4.54" height="4.92" fill="#d1e5f0"/>
<rect x="92.90" y="250.08" width="4.54" height="4.92" fill="#f4a582"/>
<rect x="96.84" y="250.08" width="4.54" height="4.92" fill="#f4a582"/>
<rect x="100.78" y="250.08" width="4.54" height="4.92" fill="#f4a582"/>
<rect x="104.72" y="250.08" width="4.54" height="4.92" fill="#d6604d"/>
<rect x="108.66" y="250.08" width="4.54" height="4.92" fill="#f7f7f7"/>
<rect x="112.60" y="250.08" width="4.54" height="4.92" fill="#f7f7f7"/>
<rect x="116.54" y="250.08" width="4.54" height="4.92" fill="#b2182b"/>
<rect x="120.48" y="250.08" width="4.54" height="4.92" fill="#67001f"/>
<rect x="124.42" y="250.08" width="4.54" height="4.92" fill="#67001f"/>
<rect x="128.36" y="250.08" width="4.54" height="4.92" fill="#b2182b"/>
<rect x="132.30" y="250.08" width="4.54" height="4.92" fill="#b2182b"/>
<rect x="136.24" y="250.08" width="4.54" height="4.92" fill="#b2182b"/>
<rect x="140.18" y="250.08" width="4.54" height="4.92" fill="#67001f"/>
<rect x="144.12" y="250.08" width="4.54" height="4.92" fill="#b2182b"/>
<rect x="148.06" y="250.08" width="4.54" height="4.92" fill="#f7f7f7"/>
<rect x="152.00" y="250.08" width="4.54" height="4.92" fill="#b2182b"/>
<rect x="155.94" y="250.08" width="4.54" height="4.92" fill="#67001f"/>
<rect x="159.88" y="250.08" width="4.54" height="4.92" fill="#d6604d"/>
<rect x="163.82" y="250.08" width="4.54" height="4.92" fill="#b2182b"/>
<rect x="167.76" y="250.08" width="4.54" height="4.92" fill="#d6604d"/>
<rect x="171.70" y="250.08" width="4.54" height="4.92" fill="#b2182b"/>
<rect x="175.64" y="250.08" width="4.54" height="4.92" fill="#67001f"/>
<rect x="179.58" y="250.08" width="4.54" height="4.92" fill="#b2182b"/>
<rect x="183.52" y="250.08" width="4.54" height="4.92" fill="#d6604d"/>
<rect x="187.46" y="250.08" width="4.54" height="4.92" fill="#f4a582"/>
<rect x="191.40" y="250.08" width="4.54" height="4.92" fill="#67001f"/>
<rect x="195.34" y="250.08" width="4.54" height="4.92" fill="#67001f"/>
<rect x="199.28" y="250.08" width="4.54" height="4.92" fill="#b2182b"/>
<rect x="203.22" y="250.08" width="3.94" height="4.92" fill="#b2182b"/>
<rect x="73.20" y="254.40" width="4.54" height="4.92" fill="#4393c3"/>
<rect x="77.14" y="254.40" width="4.54" height="4.92" fill="#fddbc7"/>
<rect x="81.08" y="254.40" width="4.54" height="4.92" fill="#92c5de"/>
<rect x="85.02" y="254.40" width="4.54" height="4.92" fill="#fddbc7"/>
<rect x="88.96" y="254.40" width="4.54" height="4.92" fill="#f7f7f7"/>
<rect x="92.90" y="254.40" width="4.54" height="4.92" fill="#d6604d"/>
<rect x="96.84" y="254.40" width="4.54" height="4.92" fill="#d6604d"/>
<rect x="100.78" y="254.40" width="4.54" height="4.92" fill="#f4a582"/>
<rect x="104.72" y="254.40" width="4.54" height="4.92" fill="#f4a582"/>
<rect x="108.66" y="254.40" width="4.54" height="4.92" fill="#f7f7f7"/>
<rect x="112.60" y="254.40" width="4.54" height="4.92" fill="#f7f7f7"/>
<rect x="116.54" y="254.40" width="4.54" height="4.92" fill="#b2182b"/>
<rect x="120.48" y="254.40" width="4.54" height="4.92" fill="#b2182b"/>
<rect x="124.42" y="254.40" width="4.54" height="4.92" fill="#b2182b"/>
<rect x="128.36" y="254.40" width="4.54" height="4.92" fill="#67001f"/>
<rect x="132.30" y="254.40" width="4.54" height="4.92" fill="#67001f"/>
<rect x="136.24" y="254.40" width="4.54" height="4.92" fill="#b2182b"/>
<rect x="140.18" y="254.40" width="4.54" height="4.92" fill="#67001f"/>
<rect x="144.12" y="254.40" width="4.54" height="4.92" fill="#d6604d"/>
<rect x="148.06" y="254.40" width="4.54" height="4.92" fill="#b2182b"/>
<rect x="152.00" y="254.40" width="4.54" height="4.92" fill="#f7f7f7"/>
<rect x="155.94" y="254.40" width="4.54" height="4.92" fill="#67001f"/>
<rect x="159.88" y="254.40" width="4.54" height="4.92" fill="#d6604d"/>
<rect x="163.82" y="254.40" width="4.54" height="4.92" fill="#d6604d"/>
<rect x="167.76" y="254.40" width="4.54" height="4.92" fill="#f4a582"/>
<rect x="171.70" y="254.40" width="4.54" height="4.92" fill="#b2182b"/>
<rect x="175.64" y="254.40" width="4.54" height="4.92" fill="#d6604d"/>
<rect x="179.58" y="254.40" width="4.54" height="4.92" fill="#f4a582"/>
<rect x="183.52" y="254.40" width="4.54" height="4.92" fill="#b2182b"/>
<rect x="187.46" y="254.40" width="4.54" height="4.92" fill="#b2182b"/>
<rect x="191.40" y="254.40" width="4.54" height="4.92" fill="#67001f"/>
<rect x="195.34" y="254.40" width="4.54" height="4.92" fill="#b2182b"/>
<rect x="199.28" y="254.40" width="4.54" height="4.92" fill="#b2182b"/>
<rect x="203.22" y="254.40" width="3.94" height="4.92" fill="#b2182b"/>
<rect x="73.20" y="258.72" width="4.54" height="4.92" fill="#4393c3"/>
<rect x="77.14" y="258.72" width="4.54" height="4.92" fill="#fddbc7"/>
<rect x="81.08" y="258.72" width="4.54" height="4.92" fill="#f7f7f7"/>
<rect x="85.02" y="258.72" width="4.54" height="4.92" fill="#fddbc7"/>
<rect x="88.96" y="258.72" width="4.54" height="4.92" fill="#f7f7f7"/>
<rect x="92.90" y="258.72" width="4.54" height="4.92" fill="#f4a582"/>
<rect x="96.84" y="258.72" width="4.54" height="4.92" fill="#f4a582"/>
<rect x="100.78" y="258.72" width="4.54" height="4.92" fill="#fddbc7"/>
<rect x="104.72" y="258.72" width="4.54" height="4.92" fill="#fddbc7"/>
<rect x="108.66" y="258.72" width="4.54" height="4.92" fill="#f7f7f7"/>
<rect x="112.60" y="258.72" width="4.54" height="4.92" fill="#f7f7f7"/>
<rect x="116.54" y="258.72" width="4.54" height="4.92" fill="#b2182b"/>
<rect x="120.48" y="258.72" width="4.54" height="4.92" fill="#b2182b"/>
<rect x="124.42" y="258.72" width="4.54" height="4.92" fill="#b2182b"/>
<rect x="128.36" y="258.72" width="4.54" height="4.92" fill="#b2182b"/>
<rect x="132.30" y="258.72" width="4.54" height="4.92" fill="#b2182b"/>
<rect x="136.24" y="258.72" width="4.54" height="4.92" fill="#b2182b"/>
<rect x="140.18" y="258.72" width="4.54" height="4.92" fill="#b2182b"/>
<rect x="144.12" y="258.72" width="4.54" height="4.92" fill="#b2182b"/>
<rect x="148.06" y="258.72" width="4.54" height="4.92" fill="#67001f"/>
<rect x="152.00" y="258.72" width="4.54" height="4.92" fill="#67001f"/>
<rect x="155.94" y="258.72" width="4.54" height="4.92" fill="#f7f7f7"/>
<rect x="159.88" y="258.72" width="4.54" height="4.92" fill="#d6604d"/>
<rect x="163.82" y="258.72" width="4.54" height="4.92" fill="#b2182b"/>
<rect x="167.76" y="258.72" width="4.54" height="4.92" fill="#b2182b"/>
<rect x="171.70" y="258.72" width="4.54" height="4.92" fill="#b2182b"/>
<rect x="175.64" y="258.72" width="4.54" height="4.92" fill="#b2182b"/>
<rect x="179.58" y="258.72" width="4.54" height="4.92" fill="#b2182b"/>
<rect x="183.52" y="258.72" width="4.54" height="4.92" fill="#d6604d"/>
<rect x="187.46" y="258.72" width="4.54" height="4.92" fill="#f4a582"/>
<rect x="191.40" y="258.72" width="4.54" height="4.92" fill="#b2182b"/>
<rect x="195.34" y="258.72" width="4.54" height="4.92" fill="#67001f"/>
<rect x="199.28" y="258.72" width="4.54" height="4.92" fill="#b2182b"/>
<rect x="203.22" y="258.72" width="3.94" height="4.92" fill="#67001f"/>
<rect x="73.20" y="263.04" width="4.54" height="4.92" fill="#d1e5f0"/>
<rect x="77.14" y="263.04" width="4.54" height="4.92" fill="#92c5de"/>
<rect x="81.08" y="263.04" width="4.54" height="4.92" fill="#d1e5f0"/>
<rect x="85.02" y="263.04" width="4.54" height="4.92" fill="#fddbc7"/>
<rect x="88.96" y="263.04" width="4.54" height="4.92" fill="#fddbc7"/>
<rect x="92.90" y="263.04" width="4.54" height="4.92" fill="#d6604d"/>
<rect x="96.84" y="263.04" width="4.54" height="4.92" fill="#f4a582"/>
<rect x="100.78" y="263.04" width="4.54" height="4.92" fill="#67001f"/>
<rect x="104.72" y="263.04" width="4.54" height="4.92" fill="#67001f"/>
<rect x="108.66" y="263.04" width="4.54" height="4.92" fill="#b2182b"/>
<rect x="112.60" y="263.04" width="4.54" height="4.92" fill="#d6604d"/>
<rect x="116.54" y="263.04" width="4.54" height="4.92" fill="#fddbc7"/>
<rect x="120.48" y="263.04" width="4.54" height="4.92" fill="#fddbc7"/>
<rect x="124.42" y="263.04" width="4.54" height="4.92" fill="#fddbc7"/>
<rect x="128.36" y="263.04" width="4.54" height="4.92" fill="#fddbc7"/>
<rect x="132.30" y="263.04" width="4.54" height="4.92" fill="#fddbc7"/>
<rect x="136.24" y="263.04" width="4.54" height="4.92" fill="#b2182b"/>
<rect x="140.18" y="263.04" width="4.54" height="4.92" fill="#b2182b"/>
<rect x="144.12" y="263.04" width="4.54" height="4.92" fill="#b2182b"/>
<rect x="148.06" y="263.04" width="4.54" height="4.92" fill="#d6604d"/>
<rect x="152.00" y="263.04" width="4.54" height="4.92" fill="#d6604d"/>
<rect x="155.94" y="263.04" width="4.54" height="4.92" fill="#d6604d"/>
<rect x="159.88" y="263.04" width="4.54" height="4.92" fill="#f7f7f7"/>
<rect x="163.82" y="263.04" width="4.54" height="4.92" fill="#67001f"/>
<rect x="167.76" y="263.04" width="4.54" height="4.92" fill="#67001f"/>
<rect x="171.70" y="263.04" width="4.54" height="4.92" fill="#b2182b"/>
<rect x="175.64" y="263.04" width="4.54" height="4.92" fill="#67001f"/>
<rect x="179.58" y="263.04" width="4.54" height="4.92" fill="#b2182b"/>
<rect x="183.52" y="263.04" width="4.54" height="4.92" fill="#67001f"/>
<rect x="187.46" y="263.04" width="4.54" height="4.92" fill="#67001f"/>
<rect x="191.40" y="263.04" width="4.54" height="4.92" fill="#b2182b"/>
<rect x="195.34" y="263.04" width="4.54" height="4.92" fill="#b2182b"/>
<rect x="199.28" y="263.04" width="4.54" height="4.92" fill="#b2182b"/>
<rect x="203.22" y="263.04" width="3.94" height="4.92" fill="#b2182b"/>
<rect x="73.20" y="267.36" width="4.54" height="4.92" fill="#d1e5f0"/>
<rect x="77.14" y="267.36" width="4.54" height="4.92" fill="#f7f7f7"/>
<rect x="81.08" y="267.36" width="4.54" height="4.92" fill="#f7f7f7"/>
<rect x="85.02" y="267.36" width="4.54" height="4.92" fill="#f4a582"/>
<rect x="88.96" y="267.36" width="4.54" height="4.92" fill="#fddbc7"/>
<rect x="92.90" y="267.36" width="4.54" height="4.92" fill="#b2182b"/>
<rect x="96.84" y="267.36" width="4.54" height="4.92" fill="#d6604d"/>
<rect x="100.78" y="267.36" width="4.54" height="4.92" fill="#67001f"/>
<rect x="104.72" y="267.36" width="4.54" height="4.92" fill="#67001f"/>
<rect x="108.66" y="267.36" width="4.54" height="4.92" fill="#b2182b"/>
<rect x="112.60" y="267.36" width="4.54" height="4.92" fill="#d6604d"/>
<rect x="116.54" y="267.36" width="4.54" height="4.92" fill="#fddbc7"/>
<rect x="120.48" y="267.36" width="4.54" height="4.92" fill="#fddbc7"/>
<rect x="124.42" y="267.36" width="4.54" height="4.92" fill="#fddbc7"/>
<rect x="128.36" y="267.36" width="4.54" height="4.92" fill="#f4a582"/>
<rect x="132.30" y="267.36" width="4.54" height="4.92" fill="#fddbc7"/>
<rect x="136.24" y="267.36" width="4.54" height="4.92" fill="#b2182b"/>
<rect x="140.18" y="267.36" width="4.54" height="4.92" fill="#d6604d"/>
<rect x="144.12" y="267.36" width="4.54" height="4.92" fill="#67001f"/>
<rect x="148.06" y="267.36" width="4.54" height="4.92" fill="#b2182b"/>
<rect x="152.00" y="267.36" width="4.54" height="4.92" fill="#d6604d"/>
<rect x="155.94" y="267.36" width="4.54" height="4.92" fill="#b2182b"/>
<rect x="159.88" y="267.36" width="4.54" height="4.92" fill="#67001f"/>
<rect x="163.82" y="267.36" width="4.54" height="4.92" fill="#f7f7f7"/>
<rect x="167.76" y="267.36" width="4.54" height="4.92" fill="#67001f"/>
<rect x="171.70" y="267.36" width="4.54" height="4.92" fill="#67001f"/>
<rect x="175.64" y="267.36" width="4.54" height="4.92" fill="#d6604d"/>
<rect x="179.58" y="267.36" width="4.54" height="4.92" fill="#b2182b"/>
<rect x="183.52" y="267.36" width="4.54" height="4.92" fill="#67001f"/>
<rect x="187.46" y="267.36" width="4.54" height="4.92" fill="#b2182b"/>
<rect x="191.40" y="267.36" width="4.54" height="4.92" fill="#b2182b"/>
<rect x="195.34" y="267.36" width="4.54" height="4.92" fill="#b2182b"/>
<rect x="199.28" y="267.36" width="4.54" height="4.92" fill="#b2182b"/>
<rect x="203.22" y="267.36" width="3.94" height="4.92" fill="#b2182b"/>
<rect x="73.20" y="271.68" width="4.54" height="4.92" fill="#92c5de"/>
<rect x="77.14" y="271.68" width="4.54" height="4.92" fill="#f7f7f7"/>
<rect x="81.08" y="271.68" width="4.54" height="4.92" fill="#f7f7f7"/>
<rect x="85.02" y="271.68" width="4.54" height="4.92" fill="#fddbc7"/>
<rect x="88.96" y="271.68" width="4.54" height="4.92" fill="#f7f7f7"/>
<rect x="92.90" y="271.68" width="4.54" height="4.92" fill="#d6604d"/>
<rect x="96.84" y="271.68" width="4.54" height="4.92" fill="#f4a582"/>
<rect x="100.78" y="271.68" width="4.54" height="4.92" fill="#67001f"/>
<rect x="104.72" y="271.68" width="4.54" height="4.92" fill="#67001f"/>
<rect x="108.66" y="271.68" width="4.54" height="4.92" fill="#b2182b"/>
<rect x="112.60" y="271.68" width="4.54" height="4.92" fill="#f4a582"/>
<rect x="116.54" y="271.68" width="4.54" height="4.92" fill="#f4a582"/>
<rect x="120.48" y="271.68" width="4.54" height="4.92" fill="#fddbc7"/>
<rect x="124.42" y="271.68" width="4.54" height="4.92" fill="#fddbc7"/>
<rect x="128.36" y="271.68" width="4.54" height="4.92" fill="#f4a582"/>
<rect x="132.30" y="271.68" width="4.54" height="4.92" fill="#fddbc7"/>
<rect x="136.24" y="271.68" width="4.54" height="4.92" fill="#67001f"/>
<rect x="140.18" y="271.68" width="4.54" height="4.92" fill="#67001f"/>
<rect x="144.12" y="271.68" width="4.54" height="4.92" fill="#d6604d"/>
<rect x="148.06" y="271.68" width="4.54" height="4.92" fill="#d6604d"/>
<rect x="152.00" y="271.68" width="4.54" height="4.92" fill="#f4a582"/>
<rect x="155.94" y="271.68" width="4.54" height="4.92" fill="#b2182b"/>
<rect x="159.88" y="271.68" width="4.54" height="4.92" fill="#67001f"/>
<rect x="163.82" y="271.68" width="4.54" height="4.92" fill="#67001f"/>
<rect x="167.76" y="271.68" width="4.54" height="4.92" fill="#f7f7f7"/>
<rect x="171.70" y="271.68" width="4.54" height="4.92" fill="#67001f"/>
<rect x="175.64" y="271.68" width="4.54" height="4.92" fill="#67001f"/>
<rect x="179.58" y="271.68" width="4.54" height="4.92" fill="#67001f"/>
<rect x="183.52" y="271.68" width="4.54" height="4.92" fill="#b2182b"/>
<rect x="187.46" y="271.68" width="4.54" height="4.92" fill="#d6604d"/>
<rect x="191.40" y="271.68" width="4.54" height="4.92" fill="#b2182b"/>
<rect x="195.34" y="271.68" width="4.54" height="4.92" fill="#b2182b"/>
<rect x="199.28" y="271.68" width="4.54" height="4.92" fill="#f4a582"/>
<rect x="203.22" y="271.68" width="3.94" height="4.92" fill="#67001f"/>
<rect x="73.20" y="276.00" width="4.54" height="4.92" fill="#92c5de"/>
<rect x="77.14" y="276.00" width="4.54" height="4.92" fill="#d1e5f0"/>
<rect x="81.08" y="276.00" width="4.54" height="4.92" fill="#4393c3"/>
<rect x="85.02" y="276.00" width="4.54" height="4.92" fill="#fddbc7"/>
<rect x="88.96" y="276.00" width="4.54" height="4.92" fill="#f7f7f7"/>
<rect x="92.90" y="276.00" width="4.54" height="4.92" fill="#b2182b"/>
<rect x="96.84" y="276.00" width="4.54" height="4.92" fill="#d6604d"/>
<rect x="100.78" y="276.00" width="4.54" height="4.92" fill="#67001f"/>
<rect x="104.72" y="276.00" width="4.54" height="4.92" fill="#b2182b"/>
<rect x="108.66" y="276.00" width="4.54" height="4.92" fill="#b2182b"/>
<rect x="112.60" y="276.00" width="4.54" height="4.92" fill="#d6604d"/>
<rect x="116.54" y="276.00" width="4.54" height="4.92" fill="#b2182b"/>
<rect x="120.48" y="276.00" width="4.54" height="4.92" fill="#fddbc7"/>
<rect x="124.42" y="276.00" width="4.54" height="4.92" fill="#d6604d"/>
<rect x="128.36" y="276.00" width="4.54" height="4.92" fill="#fddbc7"/>
<rect x="132.30" y="276.00" width="4.54" height="4.92" fill="#d6604d"/>
<rect x="136.24" y="276.00" width="4.54" height="4.92" fill="#67001f"/>
<rect x="140.18" y="276.00" width="4.54" height="4.92" fill="#67001f"/>
<rect x="144.12" y="276.00" width="4.54" height="4.92" fill="#f4a582"/>
<rect x="148.06" y="276.00" width="4.54" height="4.92" fill="#b2182b"/>
<rect x="152.00" y="276.00" width="4.54" height="4.92" fill="#b2182b"/>
<rect x="155.94" y="276.00" width="4.54" height="4.92" fill="#b2182b"/>
<rect x="159.88" y="276.00" width="4.54" height="4.92" fill="#b2182b"/>
<rect x="163.82" y="276.00" width="4.54" height="4.92" fill="#67001f"/>
<rect x="167.76" y="276.00" width="4.54" height="4.92" fill="#67001f"/>
<rect x="171.70" y="276.00" width="4.54" height="4.92" fill="#f7f7f7"/>
<rect x="175.64" y="276.00" width="4.54" height="4.92" fill="#67001f"/>
<rect x="179.58" y="276.00" width="4.54" height="4.92" fill="#67001f"/>
<rect x="183.52" y="276.00" width="4.54" height="4.92" fill="#67001f"/>
<rect x="187.46" y="276.00" width="4.54" height="4.92" fill="#b2182b"/>
<rect x="191.40" y="276.00" width="4.54" height="4.92" fill="#67001f"/>
<rect x="195.34" y="276.00" width="4.54" height="4.92" fill="#b2182b"/>
<rect x="199.28" y="276.00" width="4.54" height="4.92" fill="#67001f"/>
<rect x="203.22" y="276.00" width="3.94" height="4.92" fill="#b2182b"/>
<rect x="73.20" y="280.32" width="4.54" height="4.92" fill="#92c5de"/>
<rect x="77.14" y="280.32" width="4.54" height="4.92" fill="#d1e5f0"/>
<rect x="81.08" y="280.32" width="4.54" height="4.92" fill="#4393c3"/>
<rect x="85.02" y="280.32" width="4.54" height="4.92" fill="#f7f7f7"/>
<rect x="88.96" y="280.32" width="4.54" height="4.92" fill="#f7f7f7"/>
<rect x="92.90" y="280.32" width="4.54" height="4.92" fill="#d6604d"/>
<rect x="96.84" y="280.32" width="4.54" height="4.92" fill="#f4a582"/>
<rect x="100.78" y="280.32" width="4.54" height="4.92" fill="#67001f"/>
<rect x="104.72" y="280.32" width="4.54" height="4.92" fill="#67001f"/>
<rect x="108.66" y="280.32" width="4.54" height="4.92" fill="#f4a582"/>
<rect x="112.60" y="280.32" width="4.54" height="4.92" fill="#f4a582"/>
<rect x="116.54" y="280.32" width="4.54" height="4.92" fill="#b2182b"/>
<rect x="120.48" y="280.32" width="4.54" height="4.92" fill="#fddbc7"/>
<rect x="124.42" y="280.32" width="4.54" height="4.92" fill="#f4a582"/>
<rect x="128.36" y="280.32" width="4.54" height="4.92" fill="#f4a582"/>
<rect x="132.30" y="280.32" width="4.54" height="4.92" fill="#fddbc7"/>
<rect x="136.24" y="280.32" width="4.54" height="4.92" fill="#b2182b"/>
<rect x="140.18" y="280.32" width="4.54" height="4.92" fill="#67001f"/>
<rect x="144.12" y="280.32" width="4.54" height="4.92" fill="#f4a582"/>
<rect x="148.06" y="280.32" width="4.54" height="4.92" fill="#67001f"/>
<rect x="152.00" y="280.32" width="4.54" height="4.92" fill="#d6604d"/>
<rect x="155.94" y="280.32" width="4.54" height="4.92" fill="#b2182b"/>
<rect x="159.88" y="280.32" width="4.54" height="4.92" fill="#67001f"/>
<rect x="163.82" y="280.32" width="4.54" height="4.92" fill="#d6604d"/>
<rect x="167.76" y="280.32" width="4.54" height="4.92" fill="#67001f"/>
<rect x="171.70" y="280.32" width="4.54" height="4.92" fill="#67001f"/>
<rect x="175.64" y="280.32" width="4.54" height="4.92" fill="#f7f7f7"/>
<rect x="179.58" y="280.32" width="4.54" height="4.92" fill="#67001f"/>
<rect x="183.52" y="280.32" width="4.54" height="4.92" fill="#67001f"/>
<rect x="187.46" y="280.32" width="4.54" height="4.92" fill="#b2182b"/>
<rect x="191.40" y="280.32" width="4.54" height="4.92" fill="#67001f"/>
<rect x="195.34" y="280.32" width="4.54" height="4.92" fill="#b2182b"/>
<rect x="199.28" y="280.32" width="4.54" height="4.92" fill="#b2182b"/>
<rect x="203.22" y="280.32" width="3.94" height="4.92" fill="#b2182b"/>
<rect x="73.20" y="284.64" width="4.54" height="4.92" fill="#92c5de"/>
<rect x="77.14" y="284.64" width="4.54" height="4.92" fill="#d1e5f0"/>
<rect x="81.08" y="284.64" width="4.54" height="4.92" fill="#f7f7f7"/>
<rect x="85.02" y="284.64" width="4.54" height="4.92" fill="#f7f7f7"/>
<rect x="88.96" y="284.64" width="4.54" height="4.92" fill="#f7f7f7"/>
<rect x="92.90" y="284.64" width="4.54" height="4.92" fill="#d6604d"/>
<rect x="96.84" y="284.64" width="4.54" height="4.92" fill="#f4a582"/>
<rect x="100.78" y="284.64" width="4.54" height="4.92" fill="#67001f"/>
<rect x="104.72" y="284.64" width="4.54" height="4.92" fill="#67001f"/>
<rect x="108.66" y="284.64" width="4.54" height="4.92" fill="#d6604d"/>
<rect x="112.60" y="284.64" width="4.54" height="4.92" fill="#f4a582"/>
<rect x="116.54" y="284.64" width="4.54" height="4.92" fill="#f4a582"/>
<rect x="120.48" y="284.64" width="4.54" height="4.92" fill="#fddbc7"/>
<rect x="124.42" y="284.64" width="4.54" height="4.92" fill="#fddbc7"/>
<rect x="128.36" y="284.64" width="4.54" height="4.92" fill="#f4a582"/>
<rect x="132.30" y="284.64" width="4.54" height="4.92" fill="#f4a582"/>
<rect x="136.24" y="284.64" width="4.54" height="4.92" fill="#67001f"/>
<rect x="140.18" y="284.64" width="4.54" height="4.92" fill="#67001f"/>
<rect x="144.12" y="284.64" width="4.54" height="4.92" fill="#b2182b"/>
<rect x="148.06" y="284.64" width="4.54" height="4.92" fill="#b2182b"/>
<rect x="152.00" y="284.64" width="4.54" height="4.92" fill="#f4a582"/>
<rect x="155.94" y="284.64" width="4.54" height="4.92" fill="#b2182b"/>
<rect x="159.88" y="284.64" width="4.54" height="4.92" fill="#b2182b"/>
<rect x="163.82" y="284.64" width="4.54" height="4.92" fill="#b2182b"/>
<rect x="167.76" y="284.64" width="4.54" height="4.92" fill="#67001f"/>
<rect x="171.70" y="284.64" width="4.54" height="4.92" fill="#67001f"/>
<rect x="175.64" y="284.64" width="4.54" height="4.92" fill="#67001f"/>
<rect x="179.58" y="284.64" width="4.54" height="4.92" fill="#f7f7f7"/>
<rect x="183.52" y="284.64" width="4.54" height="4.92" fill="#67001f"/>
<rect x="187.46" y="284.64" width="4.54" height="4.92" fill="#b2182b"/>
<rect x="191.40" y="284.64" width="4.54" height="4.92" fill="#b2182b"/>
<rect x="195.34" y="284.64" width="4.54" height="4.92" fill="#b2182b"/>
<rect x="199.28" y="284.64" width="4.54" height="4.92" fill="#f4a582"/>
<rect x="203.22" y="284.64" width="3.94" height="4.92" fill="#b2182b"/>
<rect x="73.20" y="288.96" width="4.54" height="4.92" fill="#92c5de"/>
<rect x="77.14" y="288.96" width="4.54" height="4.92" fill="#f7f7f7"/>
<rect x="81.08" y="288.96" width="4.54" height="4.92" fill="#f7f7f7"/>
<rect x="85.02" y="288.96" width="4.54" height="4.92" fill="#f7f7f7"/>
<rect x="88.96" y="288.96" width="4.54" height="4.92" fill="#f7f7f7"/>
<rect x="92.90" y="288.96" width="4.54" height="4.92" fill="#d6604d"/>
<rect x="96.84" y="288.96" width="4.54" height="4.92" fill="#f4a582"/>
<rect x="100.78" y="288.96" width="4.54" height="4.92" fill="#67001f"/>
<rect x="104.72" y="288.96" width="4.54" height="4.92" fill="#67001f"/>
<rect x="108.66" y="288.96" width="4.54" height="4.92" fill="#b2182b"/>
<rect x="112.60" y="288.96" width="4.54" height="4.92" fill="#d6604d"/>
<rect x="116.54" y="288.96" width="4.54" height="4.92" fill="#d6604d"/>
<rect x="120.48" y="288.96" width="4.54" height="4.92" fill="#fddbc7"/>
<rect x="124.42" y="288.96" width="4.54" height="4.92" fill="#f4a582"/>
<rect x="128.36" y="288.96" width="4.54" height="4.92" fill="#f4a582"/>
<rect x="132.30" y="288.96" width="4.54" height="4.92" fill="#f4a582"/>
<rect x="136.24" y="288.96" width="4.54" height="4.92" fill="#b2182b"/>
<rect x="140.18" y="288.96" width="4.54" height="4.92" fill="#b2182b"/>
<rect x="144.12" y="288.96" width="4.54" height="4.92" fill="#d6604d"/>
<rect x="148.06" y="288.96" width="4.54" height="4.92" fill="#d6604d"/>
<rect x="152.00" y="288.96" width="4.54" height="4.92" fill="#b2182b"/>
<rect x="155.94" y="288.96" width="4.54" height="4.92" fill="#d6604d"/>
<rect x="159.88" y="288.96" width="4.54" height="4.92" fill="#67001f"/>
<rect x="163.82" y="288.96" width="4.54" height="4.92" fill="#67001f"/>
<rect x="167.76" y="288.96" width="4.54" height="4.92" fill="#b2182b"/>
<rect x="171.70" y="288.96" width="4.54" height="4.92" fill="#67001f"/>
<rect x="175.64" y="288.96" width="4.54" height="4.92" fill="#67001f"/>
<rect x="179.58" y="288.96" width="4.54" height="4.92" fill="#67001f"/>
<rect x="183.52" y="288.96" width="4.54" height="4.92" fill="#f7f7f7"/>
<rect x="187.46" y="288.96" width="4.54" height="4.92" fill="#b2182b"/>
<rect x="191.40" y="288.96" width="4.54" height="4.92" fill="#b2182b"/>
<rect x="195.34" y="288.96" width="4.54" height="4.92" fill="#b2182b"/>
<rect x="199.28" y="288.96" width="4.54" height="4.92" fill="#b2182b"/>
<rect x="203.22" y="288.96" width="3.94" height="4.92" fill="#b2182b"/>
<rect x="73.20" y="293.28" width="4.54" height="4.92" fill="#f7f7f7"/>
<rect x="77.14" y="293.28" width="4.54" height="4.92" fill="#fddbc7"/>
<rect x="81.08" y="293.28" width="4.54" height="4.92" fill="#92c5de"/>
<rect x="85.02" y="293.28" width="4.54" height="4.92" fill="#d6604d"/>
<rect x="88.96" y="293.28" width="4.54" height="4.92" fill="#d6604d"/>
<rect x="92.90" y="293.28" width="4.54" height="4.92" fill="#67001f"/>
<rect x="96.84" y="293.28" width="4.54" height="4.92" fill="#b2182b"/>
<rect x="100.78" y="293.28" width="4.54" height="4.92" fill="#b2182b"/>
<rect x="104.72" y="293.28" width="4.54" height="4.92" fill="#b2182b"/>
<rect x="108.66" y="293.28" width="4.54" height="4.92" fill="#b2182b"/>
<rect x="112.60" y="293.28" width="4.54" height="4.92" fill="#f4a582"/>
<rect x="116.54" y="293.28" width="4.54" height="4.92" fill="#f4a582"/>
<rect x="120.48" y="293.28" width="4.54" height="4.92" fill="#f4a582"/>
<rect x="124.42" y="293.28" width="4.54" height="4.92" fill="#f4a582"/>
<rect x="128.36" y="293.28" width="4.54" height="4.92" fill="#f4a582"/>
<rect x="132.30" y="293.28" width="4.54" height="4.92" fill="#fddbc7"/>
<rect x="136.24" y="293.28" width="4.54" height="4.92" fill="#b2182b"/>
<rect x="140.18" y="293.28" width="4.54" height="4.92" fill="#b2182b"/>
<rect x="144.12" y="293.28" width="4.54" height="4.92" fill="#f4a582"/>
<rect x="148.06" y="293.28" width="4.54" height="4.92" fill="#f4a582"/>
<rect x="152.00" y="293.28" width="4.54" height="4.92" fill="#b2182b"/>
<rect x="155.94" y="293.28" width="4.54" height="4.92" fill="#f4a582"/>
<rect x="159.88" y="293.28" width="4.54" height="4.92" fill="#67001f"/>
<rect x="163.82" y="293.28" width="4.54" height="4.92" fill="#b2182b"/>
<rect x="167.76" y="293.28" width="4.54" height="4.92" fill="#d6604d"/>
<rect x="171.70" y="293.28" width="4.54" height="4.92" fill="#b2182b"/>
<rect x="175.64" y="293.28" width="4.54" height="4.92" fill="#b2182b"/>
<rect x="179.58" y="293.28" width="4.54" height="4.92" fill="#b2182b"/>
<rect x="183.52" y="293.28" width="4.54" height="4.92" fill="#b2182b"/>
<rect x="187.46" y="293.28" width="4.54" height="4.92" fill="#f7f7f7"/>
<rect x="191.40" y="293.28" width="4.54" height="4.92" fill="#67001f"/>
<rect x="195.34" y="293.28" width="4.54" height="4.92" fill="#b2182b"/>
<rect x="199.28" y="293.28" width="4.54" height="4.92" fill="#b2182b"/>
<rect x="203.22" y="293.28" width="3.94" height="4.92" fill="#67001f"/>
<rect x="73.20" y="297.60" width="4.54" height="4.92" fill="#d1e5f0"/>
<rect x="77.14" y="297.60" width="4.54" height="4.92" fill="#fddbc7"/>
<rect x="81.08" y="297.60" width="4.54" height="4.92" fill="#4393c3"/>
<rect x="85.02" y="297.60" width="4.54" height="4.92" fill="#fddbc7"/>
<rect x="88.96" y="297.60" width="4.54" height="4.92" fill="#fddbc7"/>
<rect x="92.90" y="297.60" width="4.54" height="4.92" fill="#b2182b"/>
<rect x="96.84" y="297.60" width="4.54" height="4.92" fill="#b2182b"/>
<rect x="100.78" y="297.60" width="4.54" height="4.92" fill="#b2182b"/>
<rect x="104.72" y="297.60" width="4.54" height="4.92" fill="#b2182b"/>
<rect x="108.66" y="297.60" width="4.54" height="4.92" fill="#d6604d"/>
<rect x="112.60" y="297.60" width="4.54" height="4.92" fill="#f7f7f7"/>
<rect x="116.54" y="297.60" width="4.54" height="4.92" fill="#d6604d"/>
<rect x="120.48" y="297.60" width="4.54" height="4.92" fill="#d6604d"/>
<rect x="124.42" y="297.60" width="4.54" height="4.92" fill="#d6604d"/>
<rect x="128.36" y="297.60" width="4.54" height="4.92" fill="#d6604d"/>
<rect x="132.30" y="297.60" width="4.54" height="4.92" fill="#d6604d"/>
<rect x="136.24" y="297.60" width="4.54" height="4.92" fill="#67001f"/>
<rect x="140.18" y="297.60" width="4.54" height="4.92" fill="#67001f"/>
<rect x="144.12" y="297.60" width="4.54" height="4.92" fill="#d6604d"/>
<rect x="148.06" y="297.60" width="4.54" height="4.92" fill="#67001f"/>
<rect x="152.00" y="297.60" width="4.54" height="4.92" fill="#67001f"/>
<rect x="155.94" y="297.60" width="4.54" height="4.92" fill="#b2182b"/>
<rect x="159.88" y="297.60" width="4.54" height="4.92" fill="#b2182b"/>
<rect x="163.82" y="297.60" width="4.54" height="4.92" fill="#b2182b"/>
<rect x="167.76" y="297.60" width="4.54" height="4.92" fill="#b2182b"/>
<rect x="171.70" y="297.60" width="4.54" height="4.92" fill="#67001f"/>
<rect x="175.64" y="297.60" width="4.54" height="4.92" fill="#67001f"/>
<rect x="179.58" y="297.60" width="4.54" height="4.92" fill="#b2182b"/>
<rect x="183.52" y="297.60" width="4.54" height="4.92" fill="#b2182b"/>
<rect x="187.46" y="297.60" width="4.54" height="4.92" fill="#67001f"/>
<rect x="191.40" y="297.60" width="4.54" height="4.92" fill="#f7f7f7"/>
<rect x="195.34" y="297.60" width="4.54" height="4.92" fill="#b2182b"/>
<rect x="199.28" y="297.60" width="4.54" height="4.92" fill="#b2182b"/>
<rect x="203.22" y="297.60" width="3.94" height="4.92" fill="#67001f"/>
<rect x="73.20" y="301.92" width="4.54" height="4.92" fill="#92c5de"/>
<rect x="77.14" y="301.92" width="4.54" height="4.92" fill="#f4a582"/>
<rect x="81.08" y="301.92" width="4.54" height="4.92" fill="#f7f7f7"/>
<rect x="85.02" y="301.92" width="4.54" height="4.92" fill="#d6604d"/>
<rect x="88.96" y="301.92" width="4.54" height="4.92" fill="#fddbc7"/>
<rect x="92.90" y="301.92" width="4.54" height="4.92" fill="#d6604d"/>
<rect x="96.84" y="301.92" width="4.54" height="4.92" fill="#f4a582"/>
<rect x="100.78" y="301.92" width="4.54" height="4.92" fill="#d6604d"/>
<rect x="104.72" y="301.92" width="4.54" height="4.92" fill="#d6604d"/>
<rect x="108.66" y="301.92" width="4.54" height="4.92" fill="#d6604d"/>
<rect x="112.60" y="301.92" width="4.54" height="4.92" fill="#fddbc7"/>
<rect x="116.54" y="301.92" width="4.54" height="4.92" fill="#f4a582"/>
<rect x="120.48" y="301.92" width="4.54" height="4.92" fill="#b2182b"/>
<rect x="124.42" y="301.92" width="4.54" height="4.92" fill="#b2182b"/>
<rect x="128.36" y="301.92" width="4.54" height="4.92" fill="#b2182b"/>
<rect x="132.30" y="301.92" width="4.54" height="4.92" fill="#d6604d"/>
<rect x="136.24" y="301.92" width="4.54" height="4.92" fill="#b2182b"/>
<rect x="140.18" y="301.92" width="4.54" height="4.92" fill="#b2182b"/>
<rect x="144.12" y="301.92" width="4.54" height="4.92" fill="#d6604d"/>
<rect x="148.06" y="301.92" width="4.54" height="4.92" fill="#67001f"/>
<rect x="152.00" y="301.92" width="4.54" height="4.92" fill="#b2182b"/>
<rect x="155.94" y="301.92" width="4.54" height="4.92" fill="#67001f"/>
<rect x="159.88" y="301.92" width="4.54" height="4.92" fill="#b2182b"/>
<rect x="163.82" y="301.92" width="4.54" height="4.92" fill="#b2182b"/>
<rect x="167.76" y="301.92" width="4.54" height="4.92" fill="#b2182b"/>
<rect x="171.70" y="301.92" width="4.54" height="4.92" fill="#b2182b"/>
<rect x="175.64" y="301.92" width="4.54" height="4.92" fill="#b2182b"/>
<rect x="179.58" y="301.92" width="4.54" height="4.92" fill="#b2182b"/>
<rect x="183.52" y="301.92" width="4.54" height="4.92" fill="#b2182b"/>
<rect x="187.46" y="301.92" width="4.54" height="4.92" fill="#b2182b"/>
<rect x="191.40" y="301.92" width="4.54" height="4.92" fill="#b2182b"/>
<rect x="195.34" y="301.92" width="4.54" height="4.92" fill="#f7f7f7"/>
<rect x="199.28" y="301.92" width="4.54" height="4.92" fill="#b2182b"/>
<rect x="203.22" y="301.92" width="3.94" height="4.92" fill="#b2182b"/>
<rect x="73.20" y="306.24" width="4.54" height="4.92" fill="#d1e5f0"/>
<rect x="77.14" y="306.24" width="4.54" height="4.92" fill="#fddbc7"/>
<rect x="81.08" y="306.24" width="4.54" height="4.92" fill="#92c5de"/>
<rect x="85.02" y="306.24" width="4.54" height="4.92" fill="#fddbc7"/>
<rect x="88.96" y="306.24" width="4.54" height="4.92" fill="#fddbc7"/>
<rect x="92.90" y="306.24" width="4.54" height="4.92" fill="#b2182b"/>
<rect x="96.84" y="306.24" width="4.54" height="4.92" fill="#67001f"/>
<rect x="100.78" y="306.24" width="4.54" height="4.92" fill="#b2182b"/>
<rect x="104.72" y="306.24" width="4.54" height="4.92" fill="#d6604d"/>
<rect x="108.66" y="306.24" width="4.54" height="4.92" fill="#d6604d"/>
<rect x="112.60" y="306.24" width="4.54" height="4.92" fill="#f4a582"/>
<rect x="116.54" y="306.24" width="4.54" height="4.92" fill="#f4a582"/>
<rect x="120.48" y="306.24" width="4.54" height="4.92" fill="#f7f7f7"/>
<rect x="124.42" y="306.24" width="4.54" height="4.92" fill="#d6604d"/>
<rect x="128.36" y="306.24" width="4.54" height="4.92" fill="#f7f7f7"/>
<rect x="132.30" y="306.24" width="4.54" height="4.92" fill="#d6604d"/>
<rect x="136.24" y="306.24" width="4.54" height="4.92" fill="#b2182b"/>
<rect x="140.18" y="306.24" width="4.54" height="4.92" fill="#b2182b"/>
<rect x="144.12" y="306.24" width="4.54" height="4.92" fill="#f4a582"/>
<rect x="148.06" y="306.24" width="4.54" height="4.92" fill="#b2182b"/>
<rect x="152.00" y="306.24" width="4.54" height="4.92" fill="#b2182b"/>
<rect x="155.94" y="306.24" width="4.54" height="4.92" fill="#b2182b"/>
<rect x="159.88" y="306.24" width="4.54" height="4.92" fill="#b2182b"/>
<rect x="163.82" y="306.24" width="4.54" height="4.92" fill="#b2182b"/>
<rect x="167.76" y="306.24" width="4.54" height="4.92" fill="#f4a582"/>
<rect x="171.70" y="306.24" width="4.54" height="4.92" fill="#67001f"/>
<rect x="175.64" y="306.24" width="4.54" height="4.92" fill="#b2182b"/>
<rect x="179.58" y="306.24" width="4.54" height="4.92" fill="#f4a582"/>
<rect x="183.52" y="306.24" width="4.54" height="4.92" fill="#b2182b"/>
<rect x="187.46" y="306.24" width="4.54" height="4.92" fill="#b2182b"/>
<rect x="191.40" y="306.24" width="4.54" height="4.92" fill="#b2182b"/>
<rect x="195.34" y="306.24" width="4.54" height="4.92" fill="#b2182b"/>
<rect x="199.28" y="306.24" width="4.54" height="4.92" fill="#f7f7f7"/>
<rect x="203.22" y="306.24" width="3.94" height="4.92" fill="#d6604d"/>
<rect x="73.20" y="310.56" width="4.54" height="4.32" fill="#92c5de"/>
<rect x="77.14" y="310.56" width="4.54" height="4.32" fill="#f7f7f7"/>
<rect x="81.08" y="310.56" width="4.54" height="4.32" fill="#92c5de"/>
<rect x="85.02" y="310.56" width="4.54" height="4.32" fill="#fddbc7"/>
<rect x="88.96" y="310.56" width="4.54" height="4.32" fill="#f7f7f7"/>
<rect x="92.90" y="310.56" width="4.54" height="4.32" fill="#d6604d"/>
<rect x="96.84" y="310.56" width="4.54" height="4.32" fill="#f4a582"/>
<rect x="100.78" y="310.56" width="4.54" height="4.32" fill="#d6604d"/>
<rect x="104.72" y="310.56" width="4.54" height="4.32" fill="#d6604d"/>
<rect x="108.66" y="310.56" width="4.54" height="4.32" fill="#d6604d"/>
<rect x="112.60" y="310.56" width="4.54" height="4.32" fill="#f7f7f7"/>
<rect x="116.54" y="310.56" width="4.54" height="4.32" fill="#fddbc7"/>
<rect x="120.48" y="310.56" width="4.54" height="4.32" fill="#f4a582"/>
<rect x="124.42" y="310.56" width="4.54" height="4.32" fill="#b2182b"/>
<rect x="128.36" y="310.56" width="4.54" height="4.32" fill="#b2182b"/>
<rect x="132.30" y="310.56" width="4.54" height="4.32" fill="#d6604d"/>
<rect x="136.24" y="310.56" width="4.54" height="4.32" fill="#b2182b"/>
<rect x="140.18" y="310.56" width="4.54" height="4.32" fill="#67001f"/>
<rect x="144.12" y="310.56" width="4.54" height="4.32" fill="#b2182b"/>
<rect x="148.06" y="310.56" width="4.54" height="4.32" fill="#b2182b"/>
<rect x="152.00" y="310.56" width="4.54" height="4.32" fill="#b2182b"/>
<rect x="155.94" y="310.56" width="4.54" height="4.32" fill="#67001f"/>
<rect x="159.88" y="310.56" width="4.54" height="4.32" fill="#b2182b"/>
<rect x="163.82" y="310.56" width="4.54" height="4.32" fill="#b2182b"/>
<rect x="167.76" y="310.56" width="4.54" height="4.32" fill="#67001f"/>
<rect x="171.70" y="310.56" width="4.54" height="4.32" fill="#b2182b"/>
<rect x="175.64" y="310.56" width="4.54" height="4.32" fill="#b2182b"/>
<rect x="179.58" y="310.56" width="4.54" height="4.32" fill="#b2182b"/>
<rect x="183.52" y="310.56" width="4.54" height="4.32" fill="#b2182b"/>
<rect x="187.46" y="310.56" width="4.54" height="4.32" fill="#67001f"/>
<rect x="191.40" y="310.56" width="4.54" height="4.32" fill="#67001f"/>
<rect x="195.34" y="310.56" width="4.54" height="4.32" fill="#b2182b"/>
<rect x="199.28" y="310.56" width="4.54" height="4.32" fill="#d6604d"/>
<rect x="203.22" y="310.56" width="3.94" height="4.32" fill="#f7f7f7"/>
<rect x="210" y="167.70" width="5.6" height="7.64" fill="#67001f"/>
<rect x="210" y="175.29" width="5.6" height="7.64" fill="#b2182b"/>
<rect x="210" y="182.88" width="5.6" height="7.64" fill="#d6604d"/>
<rect x="210" y="190.47" width="5.6" height="7.64" fill="#f4a582"/>
<rect x="210" y="198.06" width="5.6" height="7.64" fill="#fddbc7"/>
<rect x="210" y="205.65" width="5.6" height="7.64" fill="#f7f7f7"/>
<rect x="210" y="213.25" width="5.6" height="7.64" fill="#d1e5f0"/>
<rect x="210" y="220.84" width="5.6" height="7.64" fill="#92c5de"/>
<rect x="210" y="228.43" width="5.6" height="7.64" fill="#4393c3"/>
<rect x="210" y="236.02" width="5.6" height="7.64" fill="#2166ac"/>
<rect x="210" y="243.61" width="5.6" height="7.64" fill="#053061"/>
<rect x="62.3" y="168.2" width="2.2" height="146.8" fill="#000"/>
<text transform="translate(53.7,241.4) rotate(-90)" font-size="10.4" font-weight="bold" text-anchor="middle" fill="#111" stroke="#111" stroke-width="0.25">HD</text>
<text x="216.6" y="194.9" font-size="5.3" fill="#2a2a2a">0.5</text>
<text x="216.6" y="220.9" font-size="5.3" fill="#2a2a2a">0</text>
<text x="216.6" y="246.9" font-size="5.3" fill="#2a2a2a">−0.5</text>
<rect x="76.80" y="346.50" width="4.51" height="4.92" fill="#f7f7f7"/>
<rect x="80.71" y="346.50" width="4.51" height="4.92" fill="#f7f7f7"/>
<rect x="84.62" y="346.50" width="4.51" height="4.92" fill="#92c5de"/>
<rect x="88.53" y="346.50" width="4.51" height="4.92" fill="#92c5de"/>
<rect x="92.44" y="346.50" width="4.51" height="4.92" fill="#d6604d"/>
<rect x="96.35" y="346.50" width="4.51" height="4.92" fill="#4393c3"/>
<rect x="100.26" y="346.50" width="4.51" height="4.92" fill="#b2182b"/>
<rect x="104.17" y="346.50" width="4.51" height="4.92" fill="#f7f7f7"/>
<rect x="108.08" y="346.50" width="4.51" height="4.92" fill="#f7f7f7"/>
<rect x="111.99" y="346.50" width="4.51" height="4.92" fill="#2166ac"/>
<rect x="115.90" y="346.50" width="4.51" height="4.92" fill="#92c5de"/>
<rect x="119.81" y="346.50" width="4.51" height="4.92" fill="#f7f7f7"/>
<rect x="123.72" y="346.50" width="4.51" height="4.92" fill="#f7f7f7"/>
<rect x="127.63" y="346.50" width="4.51" height="4.92" fill="#d1e5f0"/>
<rect x="131.54" y="346.50" width="4.51" height="4.92" fill="#4393c3"/>
<rect x="135.45" y="346.50" width="4.51" height="4.92" fill="#2166ac"/>
<rect x="139.36" y="346.50" width="4.51" height="4.92" fill="#d1e5f0"/>
<rect x="143.27" y="346.50" width="4.51" height="4.92" fill="#f7f7f7"/>
<rect x="147.18" y="346.50" width="4.51" height="4.92" fill="#053061"/>
<rect x="151.09" y="346.50" width="4.51" height="4.92" fill="#4393c3"/>
<rect x="155.00" y="346.50" width="4.51" height="4.92" fill="#f7f7f7"/>
<rect x="158.91" y="346.50" width="4.51" height="4.92" fill="#d1e5f0"/>
<rect x="162.82" y="346.50" width="4.51" height="4.92" fill="#2166ac"/>
<rect x="166.73" y="346.50" width="4.51" height="4.92" fill="#d1e5f0"/>
<rect x="170.64" y="346.50" width="4.51" height="4.92" fill="#4393c3"/>
<rect x="174.55" y="346.50" width="4.51" height="4.92" fill="#92c5de"/>
<rect x="178.46" y="346.50" width="4.51" height="4.92" fill="#92c5de"/>
<rect x="182.37" y="346.50" width="4.51" height="4.92" fill="#92c5de"/>
<rect x="186.28" y="346.50" width="4.51" height="4.92" fill="#4393c3"/>
<rect x="190.19" y="346.50" width="4.51" height="4.92" fill="#f7f7f7"/>
<rect x="194.10" y="346.50" width="4.51" height="4.92" fill="#d1e5f0"/>
<rect x="198.01" y="346.50" width="4.51" height="4.92" fill="#4393c3"/>
<rect x="201.92" y="346.50" width="4.51" height="4.92" fill="#92c5de"/>
<rect x="205.83" y="346.50" width="3.91" height="4.92" fill="#92c5de"/>
<rect x="76.80" y="350.82" width="4.51" height="4.92" fill="#f7f7f7"/>
<rect x="80.71" y="350.82" width="4.51" height="4.92" fill="#f7f7f7"/>
<rect x="84.62" y="350.82" width="4.51" height="4.92" fill="#f7f7f7"/>
<rect x="88.53" y="350.82" width="4.51" height="4.92" fill="#67001f"/>
<rect x="92.44" y="350.82" width="4.51" height="4.92" fill="#fddbc7"/>
<rect x="96.35" y="350.82" width="4.51" height="4.92" fill="#d1e5f0"/>
<rect x="100.26" y="350.82" width="4.51" height="4.92" fill="#fddbc7"/>
<rect x="104.17" y="350.82" width="4.51" height="4.92" fill="#4393c3"/>
<rect x="108.08" y="350.82" width="4.51" height="4.92" fill="#f4a582"/>
<rect x="111.99" y="350.82" width="4.51" height="4.92" fill="#f7f7f7"/>
<rect x="115.90" y="350.82" width="4.51" height="4.92" fill="#f7f7f7"/>
<rect x="119.81" y="350.82" width="4.51" height="4.92" fill="#b2182b"/>
<rect x="123.72" y="350.82" width="4.51" height="4.92" fill="#fddbc7"/>
<rect x="127.63" y="350.82" width="4.51" height="4.92" fill="#fddbc7"/>
<rect x="131.54" y="350.82" width="4.51" height="4.92" fill="#d6604d"/>
<rect x="135.45" y="350.82" width="4.51" height="4.92" fill="#f4a582"/>
<rect x="139.36" y="350.82" width="4.51" height="4.92" fill="#67001f"/>
<rect x="143.27" y="350.82" width="4.51" height="4.92" fill="#fddbc7"/>
<rect x="147.18" y="350.82" width="4.51" height="4.92" fill="#d6604d"/>
<rect x="151.09" y="350.82" width="4.51" height="4.92" fill="#f7f7f7"/>
<rect x="155.00" y="350.82" width="4.51" height="4.92" fill="#fddbc7"/>
<rect x="158.91" y="350.82" width="4.51" height="4.92" fill="#f7f7f7"/>
<rect x="162.82" y="350.82" width="4.51" height="4.92" fill="#f7f7f7"/>
<rect x="166.73" y="350.82" width="4.51" height="4.92" fill="#f7f7f7"/>
<rect x="170.64" y="350.82" width="4.51" height="4.92" fill="#fddbc7"/>
<rect x="174.55" y="350.82" width="4.51" height="4.92" fill="#d1e5f0"/>
<rect x="178.46" y="350.82" width="4.51" height="4.92" fill="#d1e5f0"/>
<rect x="182.37" y="350.82" width="4.51" height="4.92" fill="#f7f7f7"/>
<rect x="186.28" y="350.82" width="4.51" height="4.92" fill="#fddbc7"/>
<rect x="190.19" y="350.82" width="4.51" height="4.92" fill="#4393c3"/>
<rect x="194.10" y="350.82" width="4.51" height="4.92" fill="#f4a582"/>
<rect x="198.01" y="350.82" width="4.51" height="4.92" fill="#f7f7f7"/>
<rect x="201.92" y="350.82" width="4.51" height="4.92" fill="#4393c3"/>
<rect x="205.83" y="350.82" width="3.91" height="4.92" fill="#f7f7f7"/>
<rect x="76.80" y="355.14" width="4.51" height="4.92" fill="#92c5de"/>
<rect x="80.71" y="355.14" width="4.51" height="4.92" fill="#f7f7f7"/>
<rect x="84.62" y="355.14" width="4.51" height="4.92" fill="#f7f7f7"/>
<rect x="88.53" y="355.14" width="4.51" height="4.92" fill="#f7f7f7"/>
<rect x="92.44" y="355.14" width="4.51" height="4.92" fill="#4393c3"/>
<rect x="96.35" y="355.14" width="4.51" height="4.92" fill="#92c5de"/>
<rect x="100.26" y="355.14" width="4.51" height="4.92" fill="#2166ac"/>
<rect x="104.17" y="355.14" width="4.51" height="4.92" fill="#f4a582"/>
<rect x="108.08" y="355.14" width="4.51" height="4.92" fill="#d6604d"/>
<rect x="111.99" y="355.14" width="4.51" height="4.92" fill="#67001f"/>
<rect x="115.90" y="355.14" width="4.51" height="4.92" fill="#92c5de"/>
<rect x="119.81" y="355.14" width="4.51" height="4.92" fill="#92c5de"/>
<rect x="123.72" y="355.14" width="4.51" height="4.92" fill="#fddbc7"/>
<rect x="127.63" y="355.14" width="4.51" height="4.92" fill="#b2182b"/>
<rect x="131.54" y="355.14" width="4.51" height="4.92" fill="#f4a582"/>
<rect x="135.45" y="355.14" width="4.51" height="4.92" fill="#f4a582"/>
<rect x="139.36" y="355.14" width="4.51" height="4.92" fill="#fddbc7"/>
<rect x="143.27" y="355.14" width="4.51" height="4.92" fill="#b2182b"/>
<rect x="147.18" y="355.14" width="4.51" height="4.92" fill="#f7f7f7"/>
<rect x="151.09" y="355.14" width="4.51" height="4.92" fill="#d6604d"/>
<rect x="155.00" y="355.14" width="4.51" height="4.92" fill="#fddbc7"/>
<rect x="158.91" y="355.14" width="4.51" height="4.92" fill="#fddbc7"/>
<rect x="162.82" y="355.14" width="4.51" height="4.92" fill="#67001f"/>
<rect x="166.73" y="355.14" width="4.51" height="4.92" fill="#fddbc7"/>
<rect x="170.64" y="355.14" width="4.51" height="4.92" fill="#f4a582"/>
<rect x="174.55" y="355.14" width="4.51" height="4.92" fill="#f7f7f7"/>
<rect x="178.46" y="355.14" width="4.51" height="4.92" fill="#b2182b"/>
<rect x="182.37" y="355.14" width="4.51" height="4.92" fill="#d1e5f0"/>
<rect x="186.28" y="355.14" width="4.51" height="4.92" fill="#67001f"/>
<rect x="190.19" y="355.14" width="4.51" height="4.92" fill="#f7f7f7"/>
<rect x="194.10" y="355.14" width="4.51" height="4.92" fill="#f7f7f7"/>
<rect x="198.01" y="355.14" width="4.51" height="4.92" fill="#f7f7f7"/>
<rect x="201.92" y="355.14" width="4.51" height="4.92" fill="#f4a582"/>
<rect x="205.83" y="355.14" width="3.91" height="4.92" fill="#f7f7f7"/>
<rect x="76.80" y="359.46" width="4.51" height="4.92" fill="#92c5de"/>
<rect x="80.71" y="359.46" width="4.51" height="4.92" fill="#67001f"/>
<rect x="84.62" y="359.46" width="4.51" height="4.92" fill="#f7f7f7"/>
<rect x="88.53" y="359.46" width="4.51" height="4.92" fill="#f7f7f7"/>
<rect x="92.44" y="359.46" width="4.51" height="4.92" fill="#f7f7f7"/>
<rect x="96.35" y="359.46" width="4.51" height="4.92" fill="#f7f7f7"/>
<rect x="100.26" y="359.46" width="4.51" height="4.92" fill="#fddbc7"/>
<rect x="104.17" y="359.46" width="4.51" height="4.92" fill="#f7f7f7"/>
<rect x="108.08" y="359.46" width="4.51" height="4.92" fill="#d1e5f0"/>
<rect x="111.99" y="359.46" width="4.51" height="4.92" fill="#f7f7f7"/>
<rect x="115.90" y="359.46" width="4.51" height="4.92" fill="#f4a582"/>
<rect x="119.81" y="359.46" width="4.51" height="4.92" fill="#b2182b"/>
<rect x="123.72" y="359.46" width="4.51" height="4.92" fill="#f7f7f7"/>
<rect x="127.63" y="359.46" width="4.51" height="4.92" fill="#92c5de"/>
<rect x="131.54" y="359.46" width="4.51" height="4.92" fill="#d6604d"/>
<rect x="135.45" y="359.46" width="4.51" height="4.92" fill="#d6604d"/>
<rect x="139.36" y="359.46" width="4.51" height="4.92" fill="#b2182b"/>
<rect x="143.27" y="359.46" width="4.51" height="4.92" fill="#f7f7f7"/>
<rect x="147.18" y="359.46" width="4.51" height="4.92" fill="#b2182b"/>
<rect x="151.09" y="359.46" width="4.51" height="4.92" fill="#f7f7f7"/>
<rect x="155.00" y="359.46" width="4.51" height="4.92" fill="#f4a582"/>
<rect x="158.91" y="359.46" width="4.51" height="4.92" fill="#f4a582"/>
<rect x="162.82" y="359.46" width="4.51" height="4.92" fill="#f7f7f7"/>
<rect x="166.73" y="359.46" width="4.51" height="4.92" fill="#d6604d"/>
<rect x="170.64" y="359.46" width="4.51" height="4.92" fill="#d6604d"/>
<rect x="174.55" y="359.46" width="4.51" height="4.92" fill="#92c5de"/>
<rect x="178.46" y="359.46" width="4.51" height="4.92" fill="#4393c3"/>
<rect x="182.37" y="359.46" width="4.51" height="4.92" fill="#d6604d"/>
<rect x="186.28" y="359.46" width="4.51" height="4.92" fill="#f7f7f7"/>
<rect x="190.19" y="359.46" width="4.51" height="4.92" fill="#4393c3"/>
<rect x="194.10" y="359.46" width="4.51" height="4.92" fill="#b2182b"/>
<rect x="198.01" y="359.46" width="4.51" height="4.92" fill="#d6604d"/>
<rect x="201.92" y="359.46" width="4.51" height="4.92" fill="#d1e5f0"/>
<rect x="205.83" y="359.46" width="3.91" height="4.92" fill="#f4a582"/>
<rect x="76.80" y="363.78" width="4.51" height="4.92" fill="#d6604d"/>
<rect x="80.71" y="363.78" width="4.51" height="4.92" fill="#fddbc7"/>
<rect x="84.62" y="363.78" width="4.51" height="4.92" fill="#4393c3"/>
<rect x="88.53" y="363.78" width="4.51" height="4.92" fill="#f7f7f7"/>
<rect x="92.44" y="363.78" width="4.51" height="4.92" fill="#f7f7f7"/>
<rect x="96.35" y="363.78" width="4.51" height="4.92" fill="#92c5de"/>
<rect x="100.26" y="363.78" width="4.51" height="4.92" fill="#f4a582"/>
<rect x="104.17" y="363.78" width="4.51" height="4.92" fill="#92c5de"/>
<rect x="108.08" y="363.78" width="4.51" height="4.92" fill="#4393c3"/>
<rect x="111.99" y="363.78" width="4.51" height="4.92" fill="#2166ac"/>
<rect x="115.90" y="363.78" width="4.51" height="4.92" fill="#4393c3"/>
<rect x="119.81" y="363.78" width="4.51" height="4.92" fill="#f7f7f7"/>
<rect x="123.72" y="363.78" width="4.51" height="4.92" fill="#053061"/>
<rect x="127.63" y="363.78" width="4.51" height="4.92" fill="#fddbc7"/>
<rect x="131.54" y="363.78" width="4.51" height="4.92" fill="#4393c3"/>
<rect x="135.45" y="363.78" width="4.51" height="4.92" fill="#4393c3"/>
<rect x="139.36" y="363.78" width="4.51" height="4.92" fill="#f7f7f7"/>
<rect x="143.27" y="363.78" width="4.51" height="4.92" fill="#92c5de"/>
<rect x="147.18" y="363.78" width="4.51" height="4.92" fill="#4393c3"/>
<rect x="151.09" y="363.78" width="4.51" height="4.92" fill="#4393c3"/>
<rect x="155.00" y="363.78" width="4.51" height="4.92" fill="#d1e5f0"/>
<rect x="158.91" y="363.78" width="4.51" height="4.92" fill="#92c5de"/>
<rect x="162.82" y="363.78" width="4.51" height="4.92" fill="#053061"/>
<rect x="166.73" y="363.78" width="4.51" height="4.92" fill="#92c5de"/>
<rect x="170.64" y="363.78" width="4.51" height="4.92" fill="#4393c3"/>
<rect x="174.55" y="363.78" width="4.51" height="4.92" fill="#f7f7f7"/>
<rect x="178.46" y="363.78" width="4.51" height="4.92" fill="#92c5de"/>
<rect x="182.37" y="363.78" width="4.51" height="4.92" fill="#92c5de"/>
<rect x="186.28" y="363.78" width="4.51" height="4.92" fill="#d1e5f0"/>
<rect x="190.19" y="363.78" width="4.51" height="4.92" fill="#d6604d"/>
<rect x="194.10" y="363.78" width="4.51" height="4.92" fill="#d1e5f0"/>
<rect x="198.01" y="363.78" width="4.51" height="4.92" fill="#d1e5f0"/>
<rect x="201.92" y="363.78" width="4.51" height="4.92" fill="#d1e5f0"/>
<rect x="205.83" y="363.78" width="3.91" height="4.92" fill="#f7f7f7"/>
<rect x="76.80" y="368.10" width="4.51" height="4.92" fill="#4393c3"/>
<rect x="80.71" y="368.10" width="4.51" height="4.92" fill="#d1e5f0"/>
<rect x="84.62" y="368.10" width="4.51" height="4.92" fill="#92c5de"/>
<rect x="88.53" y="368.10" width="4.51" height="4.92" fill="#f7f7f7"/>
<rect x="92.44" y="368.10" width="4.51" height="4.92" fill="#92c5de"/>
<rect x="96.35" y="368.10" width="4.51" height="4.92" fill="#f7f7f7"/>
<rect x="100.26" y="368.10" width="4.51" height="4.92" fill="#2166ac"/>
<rect x="104.17" y="368.10" width="4.51" height="4.92" fill="#f7f7f7"/>
<rect x="108.08" y="368.10" width="4.51" height="4.92" fill="#d1e5f0"/>
<rect x="111.99" y="368.10" width="4.51" height="4.92" fill="#f7f7f7"/>
<rect x="115.90" y="368.10" width="4.51" height="4.92" fill="#fddbc7"/>
<rect x="119.81" y="368.10" width="4.51" height="4.92" fill="#fddbc7"/>
<rect x="123.72" y="368.10" width="4.51" height="4.92" fill="#f7f7f7"/>
<rect x="127.63" y="368.10" width="4.51" height="4.92" fill="#f7f7f7"/>
<rect x="131.54" y="368.10" width="4.51" height="4.92" fill="#f4a582"/>
<rect x="135.45" y="368.10" width="4.51" height="4.92" fill="#fddbc7"/>
<rect x="139.36" y="368.10" width="4.51" height="4.92" fill="#f7f7f7"/>
<rect x="143.27" y="368.10" width="4.51" height="4.92" fill="#f7f7f7"/>
<rect x="147.18" y="368.10" width="4.51" height="4.92" fill="#fddbc7"/>
<rect x="151.09" y="368.10" width="4.51" height="4.92" fill="#fddbc7"/>
<rect x="155.00" y="368.10" width="4.51" height="4.92" fill="#f7f7f7"/>
<rect x="158.91" y="368.10" width="4.51" height="4.92" fill="#fddbc7"/>
<rect x="162.82" y="368.10" width="4.51" height="4.92" fill="#f7f7f7"/>
<rect x="166.73" y="368.10" width="4.51" height="4.92" fill="#d6604d"/>
<rect x="170.64" y="368.10" width="4.51" height="4.92" fill="#f7f7f7"/>
<rect x="174.55" y="368.10" width="4.51" height="4.92" fill="#d6604d"/>
<rect x="178.46" y="368.10" width="4.51" height="4.92" fill="#f7f7f7"/>
<rect x="182.37" y="368.10" width="4.51" height="4.92" fill="#f7f7f7"/>
<rect x="186.28" y="368.10" width="4.51" height="4.92" fill="#f7f7f7"/>
<rect x="190.19" y="368.10" width="4.51" height="4.92" fill="#f4a582"/>
<rect x="194.10" y="368.10" width="4.51" height="4.92" fill="#f4a582"/>
<rect x="198.01" y="368.10" width="4.51" height="4.92" fill="#67001f"/>
<rect x="201.92" y="368.10" width="4.51" height="4.92" fill="#f7f7f7"/>
<rect x="205.83" y="368.10" width="3.91" height="4.92" fill="#fddbc7"/>
<rect x="76.80" y="372.42" width="4.51" height="4.92" fill="#b2182b"/>
<rect x="80.71" y="372.42" width="4.51" height="4.92" fill="#fddbc7"/>
<rect x="84.62" y="372.42" width="4.51" height="4.92" fill="#2166ac"/>
<rect x="88.53" y="372.42" width="4.51" height="4.92" fill="#fddbc7"/>
<rect x="92.44" y="372.42" width="4.51" height="4.92" fill="#f4a582"/>
<rect x="96.35" y="372.42" width="4.51" height="4.92" fill="#2166ac"/>
<rect x="100.26" y="372.42" width="4.51" height="4.92" fill="#f7f7f7"/>
<rect x="104.17" y="372.42" width="4.51" height="4.92" fill="#f7f7f7"/>
<rect x="108.08" y="372.42" width="4.51" height="4.92" fill="#f7f7f7"/>
<rect x="111.99" y="372.42" width="4.51" height="4.92" fill="#2166ac"/>
<rect x="115.90" y="372.42" width="4.51" height="4.92" fill="#f7f7f7"/>
<rect x="119.81" y="372.42" width="4.51" height="4.92" fill="#fddbc7"/>
<rect x="123.72" y="372.42" width="4.51" height="4.92" fill="#f7f7f7"/>
<rect x="127.63" y="372.42" width="4.51" height="4.92" fill="#2166ac"/>
<rect x="131.54" y="372.42" width="4.51" height="4.92" fill="#92c5de"/>
<rect x="135.45" y="372.42" width="4.51" height="4.92" fill="#2166ac"/>
<rect x="139.36" y="372.42" width="4.51" height="4.92" fill="#f7f7f7"/>
<rect x="143.27" y="372.42" width="4.51" height="4.92" fill="#4393c3"/>
<rect x="147.18" y="372.42" width="4.51" height="4.92" fill="#92c5de"/>
<rect x="151.09" y="372.42" width="4.51" height="4.92" fill="#4393c3"/>
<rect x="155.00" y="372.42" width="4.51" height="4.92" fill="#92c5de"/>
<rect x="158.91" y="372.42" width="4.51" height="4.92" fill="#f7f7f7"/>
<rect x="162.82" y="372.42" width="4.51" height="4.92" fill="#2166ac"/>
<rect x="166.73" y="372.42" width="4.51" height="4.92" fill="#92c5de"/>
<rect x="170.64" y="372.42" width="4.51" height="4.92" fill="#92c5de"/>
<rect x="174.55" y="372.42" width="4.51" height="4.92" fill="#4393c3"/>
<rect x="178.46" y="372.42" width="4.51" height="4.92" fill="#053061"/>
<rect x="182.37" y="372.42" width="4.51" height="4.92" fill="#f7f7f7"/>
<rect x="186.28" y="372.42" width="4.51" height="4.92" fill="#2166ac"/>
<rect x="190.19" y="372.42" width="4.51" height="4.92" fill="#d1e5f0"/>
<rect x="194.10" y="372.42" width="4.51" height="4.92" fill="#f7f7f7"/>
<rect x="198.01" y="372.42" width="4.51" height="4.92" fill="#4393c3"/>
<rect x="201.92" y="372.42" width="4.51" height="4.92" fill="#d1e5f0"/>
<rect x="205.83" y="372.42" width="3.91" height="4.92" fill="#f7f7f7"/>
<rect x="76.80" y="376.74" width="4.51" height="4.92" fill="#f7f7f7"/>
<rect x="80.71" y="376.74" width="4.51" height="4.92" fill="#4393c3"/>
<rect x="84.62" y="376.74" width="4.51" height="4.92" fill="#f4a582"/>
<rect x="88.53" y="376.74" width="4.51" height="4.92" fill="#f7f7f7"/>
<rect x="92.44" y="376.74" width="4.51" height="4.92" fill="#92c5de"/>
<rect x="96.35" y="376.74" width="4.51" height="4.92" fill="#f7f7f7"/>
<rect x="100.26" y="376.74" width="4.51" height="4.92" fill="#f7f7f7"/>
<rect x="104.17" y="376.74" width="4.51" height="4.92" fill="#f7f7f7"/>
<rect x="108.08" y="376.74" width="4.51" height="4.92" fill="#f4a582"/>
<rect x="111.99" y="376.74" width="4.51" height="4.92" fill="#d6604d"/>
<rect x="115.90" y="376.74" width="4.51" height="4.92" fill="#d1e5f0"/>
<rect x="119.81" y="376.74" width="4.51" height="4.92" fill="#f7f7f7"/>
<rect x="123.72" y="376.74" width="4.51" height="4.92" fill="#f4a582"/>
<rect x="127.63" y="376.74" width="4.51" height="4.92" fill="#f7f7f7"/>
<rect x="131.54" y="376.74" width="4.51" height="4.92" fill="#f7f7f7"/>
<rect x="135.45" y="376.74" width="4.51" height="4.92" fill="#f7f7f7"/>
<rect x="139.36" y="376.74" width="4.51" height="4.92" fill="#d1e5f0"/>
<rect x="143.27" y="376.74" width="4.51" height="4.92" fill="#f7f7f7"/>
<rect x="147.18" y="376.74" width="4.51" height="4.92" fill="#d1e5f0"/>
<rect x="151.09" y="376.74" width="4.51" height="4.92" fill="#67001f"/>
<rect x="155.00" y="376.74" width="4.51" height="4.92" fill="#f7f7f7"/>
<rect x="158.91" y="376.74" width="4.51" height="4.92" fill="#b2182b"/>
<rect x="162.82" y="376.74" width="4.51" height="4.92" fill="#d6604d"/>
<rect x="166.73" y="376.74" width="4.51" height="4.92" fill="#f7f7f7"/>
<rect x="170.64" y="376.74" width="4.51" height="4.92" fill="#b2182b"/>
<rect x="174.55" y="376.74" width="4.51" height="4.92" fill="#d6604d"/>
<rect x="178.46" y="376.74" width="4.51" height="4.92" fill="#f7f7f7"/>
<rect x="182.37" y="376.74" width="4.51" height="4.92" fill="#4393c3"/>
<rect x="186.28" y="376.74" width="4.51" height="4.92" fill="#f7f7f7"/>
<rect x="190.19" y="376.74" width="4.51" height="4.92" fill="#f4a582"/>
<rect x="194.10" y="376.74" width="4.51" height="4.92" fill="#f7f7f7"/>
<rect x="198.01" y="376.74" width="4.51" height="4.92" fill="#f7f7f7"/>
<rect x="201.92" y="376.74" width="4.51" height="4.92" fill="#b2182b"/>
<rect x="205.83" y="376.74" width="3.91" height="4.92" fill="#d1e5f0"/>
<rect x="76.80" y="381.06" width="4.51" height="4.92" fill="#f7f7f7"/>
<rect x="80.71" y="381.06" width="4.51" height="4.92" fill="#f4a582"/>
<rect x="84.62" y="381.06" width="4.51" height="4.92" fill="#d6604d"/>
<rect x="88.53" y="381.06" width="4.51" height="4.92" fill="#d1e5f0"/>
<rect x="92.44" y="381.06" width="4.51" height="4.92" fill="#4393c3"/>
<rect x="96.35" y="381.06" width="4.51" height="4.92" fill="#d1e5f0"/>
<rect x="100.26" y="381.06" width="4.51" height="4.92" fill="#f7f7f7"/>
<rect x="104.17" y="381.06" width="4.51" height="4.92" fill="#f4a582"/>
<rect x="108.08" y="381.06" width="4.51" height="4.92" fill="#f7f7f7"/>
<rect x="111.99" y="381.06" width="4.51" height="4.92" fill="#f4a582"/>
<rect x="115.90" y="381.06" width="4.51" height="4.92" fill="#fddbc7"/>
<rect x="119.81" y="381.06" width="4.51" height="4.92" fill="#fddbc7"/>
<rect x="123.72" y="381.06" width="4.51" height="4.92" fill="#d6604d"/>
<rect x="127.63" y="381.06" width="4.51" height="4.92" fill="#fddbc7"/>
<rect x="131.54" y="381.06" width="4.51" height="4.92" fill="#f4a582"/>
<rect x="135.45" y="381.06" width="4.51" height="4.92" fill="#f4a582"/>
<rect x="139.36" y="381.06" width="4.51" height="4.92" fill="#b2182b"/>
<rect x="143.27" y="381.06" width="4.51" height="4.92" fill="#b2182b"/>
<rect x="147.18" y="381.06" width="4.51" height="4.92" fill="#d6604d"/>
<rect x="151.09" y="381.06" width="4.51" height="4.92" fill="#f7f7f7"/>
<rect x="155.00" y="381.06" width="4.51" height="4.92" fill="#d6604d"/>
<rect x="158.91" y="381.06" width="4.51" height="4.92" fill="#fddbc7"/>
<rect x="162.82" y="381.06" width="4.51" height="4.92" fill="#fddbc7"/>
<rect x="166.73" y="381.06" width="4.51" height="4.92" fill="#f7f7f7"/>
<rect x="170.64" y="381.06" width="4.51" height="4.92" fill="#b2182b"/>
<rect x="174.55" y="381.06" width="4.51" height="4.92" fill="#4393c3"/>
<rect x="178.46" y="381.06" width="4.51" height="4.92" fill="#f7f7f7"/>
<rect x="182.37" y="381.06" width="4.51" height="4.92" fill="#f7f7f7"/>
<rect x="186.28" y="381.06" width="4.51" height="4.92" fill="#d6604d"/>
<rect x="190.19" y="381.06" width="4.51" height="4.92" fill="#2166ac"/>
<rect x="194.10" y="381.06" width="4.51" height="4.92" fill="#d6604d"/>
<rect x="198.01" y="381.06" width="4.51" height="4.92" fill="#f7f7f7"/>
<rect x="201.92" y="381.06" width="4.51" height="4.92" fill="#f7f7f7"/>
<rect x="205.83" y="381.06" width="3.91" height="4.92" fill="#fddbc7"/>
<rect x="76.80" y="385.38" width="4.51" height="4.92" fill="#2166ac"/>
<rect x="80.71" y="385.38" width="4.51" height="4.92" fill="#f7f7f7"/>
<rect x="84.62" y="385.38" width="4.51" height="4.92" fill="#67001f"/>
<rect x="88.53" y="385.38" width="4.51" height="4.92" fill="#f7f7f7"/>
<rect x="92.44" y="385.38" width="4.51" height="4.92" fill="#2166ac"/>
<rect x="96.35" y="385.38" width="4.51" height="4.92" fill="#f7f7f7"/>
<rect x="100.26" y="385.38" width="4.51" height="4.92" fill="#2166ac"/>
<rect x="104.17" y="385.38" width="4.51" height="4.92" fill="#d6604d"/>
<rect x="108.08" y="385.38" width="4.51" height="4.92" fill="#f4a582"/>
<rect x="111.99" y="385.38" width="4.51" height="4.92" fill="#f7f7f7"/>
<rect x="115.90" y="385.38" width="4.51" height="4.92" fill="#d1e5f0"/>
<rect x="119.81" y="385.38" width="4.51" height="4.92" fill="#f7f7f7"/>
<rect x="123.72" y="385.38" width="4.51" height="4.92" fill="#d6604d"/>
<rect x="127.63" y="385.38" width="4.51" height="4.92" fill="#f4a582"/>
<rect x="131.54" y="385.38" width="4.51" height="4.92" fill="#b2182b"/>
<rect x="135.45" y="385.38" width="4.51" height="4.92" fill="#fddbc7"/>
<rect x="139.36" y="385.38" width="4.51" height="4.92" fill="#f7f7f7"/>
<rect x="143.27" y="385.38" width="4.51" height="4.92" fill="#fddbc7"/>
<rect x="147.18" y="385.38" width="4.51" height="4.92" fill="#fddbc7"/>
<rect x="151.09" y="385.38" width="4.51" height="4.92" fill="#67001f"/>
<rect x="155.00" y="385.38" width="4.51" height="4.92" fill="#f7f7f7"/>
<rect x="158.91" y="385.38" width="4.51" height="4.92" fill="#f4a582"/>
<rect x="162.82" y="385.38" width="4.51" height="4.92" fill="#67001f"/>
<rect x="166.73" y="385.38" width="4.51" height="4.92" fill="#f7f7f7"/>
<rect x="170.64" y="385.38" width="4.51" height="4.92" fill="#b2182b"/>
<rect x="174.55" y="385.38" width="4.51" height="4.92" fill="#f4a582"/>
<rect x="178.46" y="385.38" width="4.51" height="4.92" fill="#d6604d"/>
<rect x="182.37" y="385.38" width="4.51" height="4.92" fill="#d1e5f0"/>
<rect x="186.28" y="385.38" width="4.51" height="4.92" fill="#f4a582"/>
<rect x="190.19" y="385.38" width="4.51" height="4.92" fill="#f7f7f7"/>
<rect x="194.10" y="385.38" width="4.51" height="4.92" fill="#f7f7f7"/>
<rect x="198.01" y="385.38" width="4.51" height="4.92" fill="#f7f7f7"/>
<rect x="201.92" y="385.38" width="4.51" height="4.92" fill="#b2182b"/>
<rect x="205.83" y="385.38" width="3.91" height="4.92" fill="#f7f7f7"/>
<rect x="76.80" y="389.70" width="4.51" height="4.92" fill="#92c5de"/>
<rect x="80.71" y="389.70" width="4.51" height="4.92" fill="#f7f7f7"/>
<rect x="84.62" y="389.70" width="4.51" height="4.92" fill="#92c5de"/>
<rect x="88.53" y="389.70" width="4.51" height="4.92" fill="#f4a582"/>
<rect x="92.44" y="389.70" width="4.51" height="4.92" fill="#4393c3"/>
<rect x="96.35" y="389.70" width="4.51" height="4.92" fill="#fddbc7"/>
<rect x="100.26" y="389.70" width="4.51" height="4.92" fill="#f7f7f7"/>
<rect x="104.17" y="389.70" width="4.51" height="4.92" fill="#d1e5f0"/>
<rect x="108.08" y="389.70" width="4.51" height="4.92" fill="#fddbc7"/>
<rect x="111.99" y="389.70" width="4.51" height="4.92" fill="#d1e5f0"/>
<rect x="115.90" y="389.70" width="4.51" height="4.92" fill="#f7f7f7"/>
<rect x="119.81" y="389.70" width="4.51" height="4.92" fill="#f7f7f7"/>
<rect x="123.72" y="389.70" width="4.51" height="4.92" fill="#f7f7f7"/>
<rect x="127.63" y="389.70" width="4.51" height="4.92" fill="#4393c3"/>
<rect x="131.54" y="389.70" width="4.51" height="4.92" fill="#f7f7f7"/>
<rect x="135.45" y="389.70" width="4.51" height="4.92" fill="#f4a582"/>
<rect x="139.36" y="389.70" width="4.51" height="4.92" fill="#fddbc7"/>
<rect x="143.27" y="389.70" width="4.51" height="4.92" fill="#f7f7f7"/>
<rect x="147.18" y="389.70" width="4.51" height="4.92" fill="#b2182b"/>
<rect x="151.09" y="389.70" width="4.51" height="4.92" fill="#f7f7f7"/>
<rect x="155.00" y="389.70" width="4.51" height="4.92" fill="#92c5de"/>
<rect x="158.91" y="389.70" width="4.51" height="4.92" fill="#f7f7f7"/>
<rect x="162.82" y="389.70" width="4.51" height="4.92" fill="#f7f7f7"/>
<rect x="166.73" y="389.70" width="4.51" height="4.92" fill="#b2182b"/>
<rect x="170.64" y="389.70" width="4.51" height="4.92" fill="#f7f7f7"/>
<rect x="174.55" y="389.70" width="4.51" height="4.92" fill="#4393c3"/>
<rect x="178.46" y="389.70" width="4.51" height="4.92" fill="#f7f7f7"/>
<rect x="182.37" y="389.70" width="4.51" height="4.92" fill="#67001f"/>
<rect x="186.28" y="389.70" width="4.51" height="4.92" fill="#f7f7f7"/>
<rect x="190.19" y="389.70" width="4.51" height="4.92" fill="#2166ac"/>
<rect x="194.10" y="389.70" width="4.51" height="4.92" fill="#b2182b"/>
<rect x="198.01" y="389.70" width="4.51" height="4.92" fill="#fddbc7"/>
<rect x="201.92" y="389.70" width="4.51" height="4.92" fill="#4393c3"/>
<rect x="205.83" y="389.70" width="3.91" height="4.92" fill="#b2182b"/>
<rect x="76.80" y="394.02" width="4.51" height="4.92" fill="#f7f7f7"/>
<rect x="80.71" y="394.02" width="4.51" height="4.92" fill="#b2182b"/>
<rect x="84.62" y="394.02" width="4.51" height="4.92" fill="#92c5de"/>
<rect x="88.53" y="394.02" width="4.51" height="4.92" fill="#b2182b"/>
<rect x="92.44" y="394.02" width="4.51" height="4.92" fill="#f7f7f7"/>
<rect x="96.35" y="394.02" width="4.51" height="4.92" fill="#fddbc7"/>
<rect x="100.26" y="394.02" width="4.51" height="4.92" fill="#fddbc7"/>
<rect x="104.17" y="394.02" width="4.51" height="4.92" fill="#f7f7f7"/>
<rect x="108.08" y="394.02" width="4.51" height="4.92" fill="#fddbc7"/>
<rect x="111.99" y="394.02" width="4.51" height="4.92" fill="#f7f7f7"/>
<rect x="115.90" y="394.02" width="4.51" height="4.92" fill="#f7f7f7"/>
<rect x="119.81" y="394.02" width="4.51" height="4.92" fill="#f7f7f7"/>
<rect x="123.72" y="394.02" width="4.51" height="4.92" fill="#f7f7f7"/>
<rect x="127.63" y="394.02" width="4.51" height="4.92" fill="#f7f7f7"/>
<rect x="131.54" y="394.02" width="4.51" height="4.92" fill="#d6604d"/>
<rect x="135.45" y="394.02" width="4.51" height="4.92" fill="#f4a582"/>
<rect x="139.36" y="394.02" width="4.51" height="4.92" fill="#fddbc7"/>
<rect x="143.27" y="394.02" width="4.51" height="4.92" fill="#f7f7f7"/>
<rect x="147.18" y="394.02" width="4.51" height="4.92" fill="#fddbc7"/>
<rect x="151.09" y="394.02" width="4.51" height="4.92" fill="#f7f7f7"/>
<rect x="155.00" y="394.02" width="4.51" height="4.92" fill="#fddbc7"/>
<rect x="158.91" y="394.02" width="4.51" height="4.92" fill="#f7f7f7"/>
<rect x="162.82" y="394.02" width="4.51" height="4.92" fill="#f7f7f7"/>
<rect x="166.73" y="394.02" width="4.51" height="4.92" fill="#d6604d"/>
<rect x="170.64" y="394.02" width="4.51" height="4.92" fill="#d6604d"/>
<rect x="174.55" y="394.02" width="4.51" height="4.92" fill="#f7f7f7"/>
<rect x="178.46" y="394.02" width="4.51" height="4.92" fill="#92c5de"/>
<rect x="182.37" y="394.02" width="4.51" height="4.92" fill="#f7f7f7"/>
<rect x="186.28" y="394.02" width="4.51" height="4.92" fill="#f7f7f7"/>
<rect x="190.19" y="394.02" width="4.51" height="4.92" fill="#f7f7f7"/>
<rect x="194.10" y="394.02" width="4.51" height="4.92" fill="#d6604d"/>
<rect x="198.01" y="394.02" width="4.51" height="4.92" fill="#b2182b"/>
<rect x="201.92" y="394.02" width="4.51" height="4.92" fill="#f7f7f7"/>
<rect x="205.83" y="394.02" width="3.91" height="4.92" fill="#f7f7f7"/>
<rect x="76.80" y="398.34" width="4.51" height="4.92" fill="#f7f7f7"/>
<rect x="80.71" y="398.34" width="4.51" height="4.92" fill="#fddbc7"/>
<rect x="84.62" y="398.34" width="4.51" height="4.92" fill="#fddbc7"/>
<rect x="88.53" y="398.34" width="4.51" height="4.92" fill="#f7f7f7"/>
<rect x="92.44" y="398.34" width="4.51" height="4.92" fill="#053061"/>
<rect x="96.35" y="398.34" width="4.51" height="4.92" fill="#f7f7f7"/>
<rect x="100.26" y="398.34" width="4.51" height="4.92" fill="#f7f7f7"/>
<rect x="104.17" y="398.34" width="4.51" height="4.92" fill="#f4a582"/>
<rect x="108.08" y="398.34" width="4.51" height="4.92" fill="#d6604d"/>
<rect x="111.99" y="398.34" width="4.51" height="4.92" fill="#d6604d"/>
<rect x="115.90" y="398.34" width="4.51" height="4.92" fill="#f7f7f7"/>
<rect x="119.81" y="398.34" width="4.51" height="4.92" fill="#f7f7f7"/>
<rect x="123.72" y="398.34" width="4.51" height="4.92" fill="#f7f7f7"/>
<rect x="127.63" y="398.34" width="4.51" height="4.92" fill="#92c5de"/>
<rect x="131.54" y="398.34" width="4.51" height="4.92" fill="#f4a582"/>
<rect x="135.45" y="398.34" width="4.51" height="4.92" fill="#f7f7f7"/>
<rect x="139.36" y="398.34" width="4.51" height="4.92" fill="#f7f7f7"/>
<rect x="143.27" y="398.34" width="4.51" height="4.92" fill="#fddbc7"/>
<rect x="147.18" y="398.34" width="4.51" height="4.92" fill="#fddbc7"/>
<rect x="151.09" y="398.34" width="4.51" height="4.92" fill="#f7f7f7"/>
<rect x="155.00" y="398.34" width="4.51" height="4.92" fill="#f7f7f7"/>
<rect x="158.91" y="398.34" width="4.51" height="4.92" fill="#b2182b"/>
<rect x="162.82" y="398.34" width="4.51" height="4.92" fill="#d6604d"/>
<rect x="166.73" y="398.34" width="4.51" height="4.92" fill="#f7f7f7"/>
<rect x="170.64" y="398.34" width="4.51" height="4.92" fill="#d6604d"/>
<rect x="174.55" y="398.34" width="4.51" height="4.92" fill="#f7f7f7"/>
<rect x="178.46" y="398.34" width="4.51" height="4.92" fill="#d1e5f0"/>
<rect x="182.37" y="398.34" width="4.51" height="4.92" fill="#d1e5f0"/>
<rect x="186.28" y="398.34" width="4.51" height="4.92" fill="#f7f7f7"/>
<rect x="190.19" y="398.34" width="4.51" height="4.92" fill="#92c5de"/>
<rect x="194.10" y="398.34" width="4.51" height="4.92" fill="#f7f7f7"/>
<rect x="198.01" y="398.34" width="4.51" height="4.92" fill="#d1e5f0"/>
<rect x="201.92" y="398.34" width="4.51" height="4.92" fill="#f7f7f7"/>
<rect x="205.83" y="398.34" width="3.91" height="4.92" fill="#d1e5f0"/>
<rect x="76.80" y="402.66" width="4.51" height="4.92" fill="#d1e5f0"/>
<rect x="80.71" y="402.66" width="4.51" height="4.92" fill="#fddbc7"/>
<rect x="84.62" y="402.66" width="4.51" height="4.92" fill="#b2182b"/>
<rect x="88.53" y="402.66" width="4.51" height="4.92" fill="#92c5de"/>
<rect x="92.44" y="402.66" width="4.51" height="4.92" fill="#fddbc7"/>
<rect x="96.35" y="402.66" width="4.51" height="4.92" fill="#f7f7f7"/>
<rect x="100.26" y="402.66" width="4.51" height="4.92" fill="#2166ac"/>
<rect x="104.17" y="402.66" width="4.51" height="4.92" fill="#f7f7f7"/>
<rect x="108.08" y="402.66" width="4.51" height="4.92" fill="#fddbc7"/>
<rect x="111.99" y="402.66" width="4.51" height="4.92" fill="#f4a582"/>
<rect x="115.90" y="402.66" width="4.51" height="4.92" fill="#4393c3"/>
<rect x="119.81" y="402.66" width="4.51" height="4.92" fill="#f7f7f7"/>
<rect x="123.72" y="402.66" width="4.51" height="4.92" fill="#92c5de"/>
<rect x="127.63" y="402.66" width="4.51" height="4.92" fill="#f7f7f7"/>
<rect x="131.54" y="402.66" width="4.51" height="4.92" fill="#fddbc7"/>
<rect x="135.45" y="402.66" width="4.51" height="4.92" fill="#fddbc7"/>
<rect x="139.36" y="402.66" width="4.51" height="4.92" fill="#fddbc7"/>
<rect x="143.27" y="402.66" width="4.51" height="4.92" fill="#d6604d"/>
<rect x="147.18" y="402.66" width="4.51" height="4.92" fill="#f7f7f7"/>
<rect x="151.09" y="402.66" width="4.51" height="4.92" fill="#f7f7f7"/>
<rect x="155.00" y="402.66" width="4.51" height="4.92" fill="#f7f7f7"/>
<rect x="158.91" y="402.66" width="4.51" height="4.92" fill="#fddbc7"/>
<rect x="162.82" y="402.66" width="4.51" height="4.92" fill="#f7f7f7"/>
<rect x="166.73" y="402.66" width="4.51" height="4.92" fill="#92c5de"/>
<rect x="170.64" y="402.66" width="4.51" height="4.92" fill="#f7f7f7"/>
<rect x="174.55" y="402.66" width="4.51" height="4.92" fill="#fddbc7"/>
<rect x="178.46" y="402.66" width="4.51" height="4.92" fill="#d6604d"/>
<rect x="182.37" y="402.66" width="4.51" height="4.92" fill="#4393c3"/>
<rect x="186.28" y="402.66" width="4.51" height="4.92" fill="#f4a582"/>
<rect x="190.19" y="402.66" width="4.51" height="4.92" fill="#f7f7f7"/>
<rect x="194.10" y="402.66" width="4.51" height="4.92" fill="#f7f7f7"/>
<rect x="198.01" y="402.66" width="4.51" height="4.92" fill="#f7f7f7"/>
<rect x="201.92" y="402.66" width="4.51" height="4.92" fill="#f7f7f7"/>
<rect x="205.83" y="402.66" width="3.91" height="4.92" fill="#d1e5f0"/>
<rect x="76.80" y="406.98" width="4.51" height="4.92" fill="#4393c3"/>
<rect x="80.71" y="406.98" width="4.51" height="4.92" fill="#d6604d"/>
<rect x="84.62" y="406.98" width="4.51" height="4.92" fill="#f4a582"/>
<rect x="88.53" y="406.98" width="4.51" height="4.92" fill="#d6604d"/>
<rect x="92.44" y="406.98" width="4.51" height="4.92" fill="#4393c3"/>
<rect x="96.35" y="406.98" width="4.51" height="4.92" fill="#f4a582"/>
<rect x="100.26" y="406.98" width="4.51" height="4.92" fill="#92c5de"/>
<rect x="104.17" y="406.98" width="4.51" height="4.92" fill="#f7f7f7"/>
<rect x="108.08" y="406.98" width="4.51" height="4.92" fill="#f4a582"/>
<rect x="111.99" y="406.98" width="4.51" height="4.92" fill="#b2182b"/>
<rect x="115.90" y="406.98" width="4.51" height="4.92" fill="#f7f7f7"/>
<rect x="119.81" y="406.98" width="4.51" height="4.92" fill="#d6604d"/>
<rect x="123.72" y="406.98" width="4.51" height="4.92" fill="#f4a582"/>
<rect x="127.63" y="406.98" width="4.51" height="4.92" fill="#fddbc7"/>
<rect x="131.54" y="406.98" width="4.51" height="4.92" fill="#f7f7f7"/>
<rect x="135.45" y="406.98" width="4.51" height="4.92" fill="#b2182b"/>
<rect x="139.36" y="406.98" width="4.51" height="4.92" fill="#fddbc7"/>
<rect x="143.27" y="406.98" width="4.51" height="4.92" fill="#f7f7f7"/>
<rect x="147.18" y="406.98" width="4.51" height="4.92" fill="#d6604d"/>
<rect x="151.09" y="406.98" width="4.51" height="4.92" fill="#d6604d"/>
<rect x="155.00" y="406.98" width="4.51" height="4.92" fill="#f7f7f7"/>
<rect x="158.91" y="406.98" width="4.51" height="4.92" fill="#b2182b"/>
<rect x="162.82" y="406.98" width="4.51" height="4.92" fill="#f4a582"/>
<rect x="166.73" y="406.98" width="4.51" height="4.92" fill="#f7f7f7"/>
<rect x="170.64" y="406.98" width="4.51" height="4.92" fill="#b2182b"/>
<rect x="174.55" y="406.98" width="4.51" height="4.92" fill="#f4a582"/>
<rect x="178.46" y="406.98" width="4.51" height="4.92" fill="#f7f7f7"/>
<rect x="182.37" y="406.98" width="4.51" height="4.92" fill="#92c5de"/>
<rect x="186.28" y="406.98" width="4.51" height="4.92" fill="#f7f7f7"/>
<rect x="190.19" y="406.98" width="4.51" height="4.92" fill="#f7f7f7"/>
<rect x="194.10" y="406.98" width="4.51" height="4.92" fill="#d6604d"/>
<rect x="198.01" y="406.98" width="4.51" height="4.92" fill="#d6604d"/>
<rect x="201.92" y="406.98" width="4.51" height="4.92" fill="#f7f7f7"/>
<rect x="205.83" y="406.98" width="3.91" height="4.92" fill="#d1e5f0"/>
<rect x="76.80" y="411.30" width="4.51" height="4.92" fill="#2166ac"/>
<rect x="80.71" y="411.30" width="4.51" height="4.92" fill="#f4a582"/>
<rect x="84.62" y="411.30" width="4.51" height="4.92" fill="#f4a582"/>
<rect x="88.53" y="411.30" width="4.51" height="4.92" fill="#d6604d"/>
<rect x="92.44" y="411.30" width="4.51" height="4.92" fill="#4393c3"/>
<rect x="96.35" y="411.30" width="4.51" height="4.92" fill="#fddbc7"/>
<rect x="100.26" y="411.30" width="4.51" height="4.92" fill="#2166ac"/>
<rect x="104.17" y="411.30" width="4.51" height="4.92" fill="#f7f7f7"/>
<rect x="108.08" y="411.30" width="4.51" height="4.92" fill="#f4a582"/>
<rect x="111.99" y="411.30" width="4.51" height="4.92" fill="#fddbc7"/>
<rect x="115.90" y="411.30" width="4.51" height="4.92" fill="#f4a582"/>
<rect x="119.81" y="411.30" width="4.51" height="4.92" fill="#f4a582"/>
<rect x="123.72" y="411.30" width="4.51" height="4.92" fill="#f7f7f7"/>
<rect x="127.63" y="411.30" width="4.51" height="4.92" fill="#fddbc7"/>
<rect x="131.54" y="411.30" width="4.51" height="4.92" fill="#b2182b"/>
<rect x="135.45" y="411.30" width="4.51" height="4.92" fill="#f7f7f7"/>
<rect x="139.36" y="411.30" width="4.51" height="4.92" fill="#67001f"/>
<rect x="143.27" y="411.30" width="4.51" height="4.92" fill="#67001f"/>
<rect x="147.18" y="411.30" width="4.51" height="4.92" fill="#67001f"/>
<rect x="151.09" y="411.30" width="4.51" height="4.92" fill="#f7f7f7"/>
<rect x="155.00" y="411.30" width="4.51" height="4.92" fill="#67001f"/>
<rect x="158.91" y="411.30" width="4.51" height="4.92" fill="#f7f7f7"/>
<rect x="162.82" y="411.30" width="4.51" height="4.92" fill="#f7f7f7"/>
<rect x="166.73" y="411.30" width="4.51" height="4.92" fill="#b2182b"/>
<rect x="170.64" y="411.30" width="4.51" height="4.92" fill="#d6604d"/>
<rect x="174.55" y="411.30" width="4.51" height="4.92" fill="#f7f7f7"/>
<rect x="178.46" y="411.30" width="4.51" height="4.92" fill="#fddbc7"/>
<rect x="182.37" y="411.30" width="4.51" height="4.92" fill="#fddbc7"/>
<rect x="186.28" y="411.30" width="4.51" height="4.92" fill="#67001f"/>
<rect x="190.19" y="411.30" width="4.51" height="4.92" fill="#92c5de"/>
<rect x="194.10" y="411.30" width="4.51" height="4.92" fill="#67001f"/>
<rect x="198.01" y="411.30" width="4.51" height="4.92" fill="#b2182b"/>
<rect x="201.92" y="411.30" width="4.51" height="4.92" fill="#f7f7f7"/>
<rect x="205.83" y="411.30" width="3.91" height="4.92" fill="#d6604d"/>
<rect x="76.80" y="415.62" width="4.51" height="4.92" fill="#d1e5f0"/>
<rect x="80.71" y="415.62" width="4.51" height="4.92" fill="#67001f"/>
<rect x="84.62" y="415.62" width="4.51" height="4.92" fill="#fddbc7"/>
<rect x="88.53" y="415.62" width="4.51" height="4.92" fill="#b2182b"/>
<rect x="92.44" y="415.62" width="4.51" height="4.92" fill="#f7f7f7"/>
<rect x="96.35" y="415.62" width="4.51" height="4.92" fill="#f7f7f7"/>
<rect x="100.26" y="415.62" width="4.51" height="4.92" fill="#f7f7f7"/>
<rect x="104.17" y="415.62" width="4.51" height="4.92" fill="#d1e5f0"/>
<rect x="108.08" y="415.62" width="4.51" height="4.92" fill="#b2182b"/>
<rect x="111.99" y="415.62" width="4.51" height="4.92" fill="#f7f7f7"/>
<rect x="115.90" y="415.62" width="4.51" height="4.92" fill="#fddbc7"/>
<rect x="119.81" y="415.62" width="4.51" height="4.92" fill="#fddbc7"/>
<rect x="123.72" y="415.62" width="4.51" height="4.92" fill="#f7f7f7"/>
<rect x="127.63" y="415.62" width="4.51" height="4.92" fill="#fddbc7"/>
<rect x="131.54" y="415.62" width="4.51" height="4.92" fill="#fddbc7"/>
<rect x="135.45" y="415.62" width="4.51" height="4.92" fill="#67001f"/>
<rect x="139.36" y="415.62" width="4.51" height="4.92" fill="#f7f7f7"/>
<rect x="143.27" y="415.62" width="4.51" height="4.92" fill="#67001f"/>
<rect x="147.18" y="415.62" width="4.51" height="4.92" fill="#67001f"/>
<rect x="151.09" y="415.62" width="4.51" height="4.92" fill="#d1e5f0"/>
<rect x="155.00" y="415.62" width="4.51" height="4.92" fill="#b2182b"/>
<rect x="158.91" y="415.62" width="4.51" height="4.92" fill="#d1e5f0"/>
<rect x="162.82" y="415.62" width="4.51" height="4.92" fill="#fddbc7"/>
<rect x="166.73" y="415.62" width="4.51" height="4.92" fill="#fddbc7"/>
<rect x="170.64" y="415.62" width="4.51" height="4.92" fill="#fddbc7"/>
<rect x="174.55" y="415.62" width="4.51" height="4.92" fill="#4393c3"/>
<rect x="178.46" y="415.62" width="4.51" height="4.92" fill="#f7f7f7"/>
<rect x="182.37" y="415.62" width="4.51" height="4.92" fill="#fddbc7"/>
<rect x="186.28" y="415.62" width="4.51" height="4.92" fill="#67001f"/>
<rect x="190.19" y="415.62" width="4.51" height="4.92" fill="#4393c3"/>
<rect x="194.10" y="415.62" width="4.51" height="4.92" fill="#67001f"/>
<rect x="198.01" y="415.62" width="4.51" height="4.92" fill="#f7f7f7"/>
<rect x="201.92" y="415.62" width="4.51" height="4.92" fill="#92c5de"/>
<rect x="205.83" y="415.62" width="3.91" height="4.92" fill="#b2182b"/>
<rect x="76.80" y="419.94" width="4.51" height="4.92" fill="#f7f7f7"/>
<rect x="80.71" y="419.94" width="4.51" height="4.92" fill="#fddbc7"/>
<rect x="84.62" y="419.94" width="4.51" height="4.92" fill="#b2182b"/>
<rect x="88.53" y="419.94" width="4.51" height="4.92" fill="#f7f7f7"/>
<rect x="92.44" y="419.94" width="4.51" height="4.92" fill="#92c5de"/>
<rect x="96.35" y="419.94" width="4.51" height="4.92" fill="#f7f7f7"/>
<rect x="100.26" y="419.94" width="4.51" height="4.92" fill="#4393c3"/>
<rect x="104.17" y="419.94" width="4.51" height="4.92" fill="#f7f7f7"/>
<rect x="108.08" y="419.94" width="4.51" height="4.92" fill="#b2182b"/>
<rect x="111.99" y="419.94" width="4.51" height="4.92" fill="#fddbc7"/>
<rect x="115.90" y="419.94" width="4.51" height="4.92" fill="#f7f7f7"/>
<rect x="119.81" y="419.94" width="4.51" height="4.92" fill="#f7f7f7"/>
<rect x="123.72" y="419.94" width="4.51" height="4.92" fill="#fddbc7"/>
<rect x="127.63" y="419.94" width="4.51" height="4.92" fill="#d6604d"/>
<rect x="131.54" y="419.94" width="4.51" height="4.92" fill="#f7f7f7"/>
<rect x="135.45" y="419.94" width="4.51" height="4.92" fill="#67001f"/>
<rect x="139.36" y="419.94" width="4.51" height="4.92" fill="#67001f"/>
<rect x="143.27" y="419.94" width="4.51" height="4.92" fill="#f7f7f7"/>
<rect x="147.18" y="419.94" width="4.51" height="4.92" fill="#f4a582"/>
<rect x="151.09" y="419.94" width="4.51" height="4.92" fill="#f7f7f7"/>
<rect x="155.00" y="419.94" width="4.51" height="4.92" fill="#67001f"/>
<rect x="158.91" y="419.94" width="4.51" height="4.92" fill="#f7f7f7"/>
<rect x="162.82" y="419.94" width="4.51" height="4.92" fill="#fddbc7"/>
<rect x="166.73" y="419.94" width="4.51" height="4.92" fill="#fddbc7"/>
<rect x="170.64" y="419.94" width="4.51" height="4.92" fill="#fddbc7"/>
<rect x="174.55" y="419.94" width="4.51" height="4.92" fill="#4393c3"/>
<rect x="178.46" y="419.94" width="4.51" height="4.92" fill="#d6604d"/>
<rect x="182.37" y="419.94" width="4.51" height="4.92" fill="#f7f7f7"/>
<rect x="186.28" y="419.94" width="4.51" height="4.92" fill="#67001f"/>
<rect x="190.19" y="419.94" width="4.51" height="4.92" fill="#4393c3"/>
<rect x="194.10" y="419.94" width="4.51" height="4.92" fill="#d6604d"/>
<rect x="198.01" y="419.94" width="4.51" height="4.92" fill="#fddbc7"/>
<rect x="201.92" y="419.94" width="4.51" height="4.92" fill="#92c5de"/>
<rect x="205.83" y="419.94" width="3.91" height="4.92" fill="#b2182b"/>
<rect x="76.80" y="424.26" width="4.51" height="4.92" fill="#053061"/>
<rect x="80.71" y="424.26" width="4.51" height="4.92" fill="#d6604d"/>
<rect x="84.62" y="424.26" width="4.51" height="4.92" fill="#f7f7f7"/>
<rect x="88.53" y="424.26" width="4.51" height="4.92" fill="#b2182b"/>
<rect x="92.44" y="424.26" width="4.51" height="4.92" fill="#4393c3"/>
<rect x="96.35" y="424.26" width="4.51" height="4.92" fill="#fddbc7"/>
<rect x="100.26" y="424.26" width="4.51" height="4.92" fill="#92c5de"/>
<rect x="104.17" y="424.26" width="4.51" height="4.92" fill="#d1e5f0"/>
<rect x="108.08" y="424.26" width="4.51" height="4.92" fill="#d6604d"/>
<rect x="111.99" y="424.26" width="4.51" height="4.92" fill="#fddbc7"/>
<rect x="115.90" y="424.26" width="4.51" height="4.92" fill="#b2182b"/>
<rect x="119.81" y="424.26" width="4.51" height="4.92" fill="#fddbc7"/>
<rect x="123.72" y="424.26" width="4.51" height="4.92" fill="#fddbc7"/>
<rect x="127.63" y="424.26" width="4.51" height="4.92" fill="#f7f7f7"/>
<rect x="131.54" y="424.26" width="4.51" height="4.92" fill="#d6604d"/>
<rect x="135.45" y="424.26" width="4.51" height="4.92" fill="#67001f"/>
<rect x="139.36" y="424.26" width="4.51" height="4.92" fill="#67001f"/>
<rect x="143.27" y="424.26" width="4.51" height="4.92" fill="#f4a582"/>
<rect x="147.18" y="424.26" width="4.51" height="4.92" fill="#f7f7f7"/>
<rect x="151.09" y="424.26" width="4.51" height="4.92" fill="#f7f7f7"/>
<rect x="155.00" y="424.26" width="4.51" height="4.92" fill="#f4a582"/>
<rect x="158.91" y="424.26" width="4.51" height="4.92" fill="#f7f7f7"/>
<rect x="162.82" y="424.26" width="4.51" height="4.92" fill="#fddbc7"/>
<rect x="166.73" y="424.26" width="4.51" height="4.92" fill="#b2182b"/>
<rect x="170.64" y="424.26" width="4.51" height="4.92" fill="#d6604d"/>
<rect x="174.55" y="424.26" width="4.51" height="4.92" fill="#d1e5f0"/>
<rect x="178.46" y="424.26" width="4.51" height="4.92" fill="#fddbc7"/>
<rect x="182.37" y="424.26" width="4.51" height="4.92" fill="#b2182b"/>
<rect x="186.28" y="424.26" width="4.51" height="4.92" fill="#b2182b"/>
<rect x="190.19" y="424.26" width="4.51" height="4.92" fill="#4393c3"/>
<rect x="194.10" y="424.26" width="4.51" height="4.92" fill="#67001f"/>
<rect x="198.01" y="424.26" width="4.51" height="4.92" fill="#f4a582"/>
<rect x="201.92" y="424.26" width="4.51" height="4.92" fill="#d1e5f0"/>
<rect x="205.83" y="424.26" width="3.91" height="4.92" fill="#b2182b"/>
<rect x="76.80" y="428.58" width="4.51" height="4.92" fill="#4393c3"/>
<rect x="80.71" y="428.58" width="4.51" height="4.92" fill="#f7f7f7"/>
<rect x="84.62" y="428.58" width="4.51" height="4.92" fill="#d6604d"/>
<rect x="88.53" y="428.58" width="4.51" height="4.92" fill="#f7f7f7"/>
<rect x="92.44" y="428.58" width="4.51" height="4.92" fill="#4393c3"/>
<rect x="96.35" y="428.58" width="4.51" height="4.92" fill="#fddbc7"/>
<rect x="100.26" y="428.58" width="4.51" height="4.92" fill="#4393c3"/>
<rect x="104.17" y="428.58" width="4.51" height="4.92" fill="#67001f"/>
<rect x="108.08" y="428.58" width="4.51" height="4.92" fill="#f7f7f7"/>
<rect x="111.99" y="428.58" width="4.51" height="4.92" fill="#67001f"/>
<rect x="115.90" y="428.58" width="4.51" height="4.92" fill="#f7f7f7"/>
<rect x="119.81" y="428.58" width="4.51" height="4.92" fill="#f7f7f7"/>
<rect x="123.72" y="428.58" width="4.51" height="4.92" fill="#f7f7f7"/>
<rect x="127.63" y="428.58" width="4.51" height="4.92" fill="#f7f7f7"/>
<rect x="131.54" y="428.58" width="4.51" height="4.92" fill="#d6604d"/>
<rect x="135.45" y="428.58" width="4.51" height="4.92" fill="#f7f7f7"/>
<rect x="139.36" y="428.58" width="4.51" height="4.92" fill="#d1e5f0"/>
<rect x="143.27" y="428.58" width="4.51" height="4.92" fill="#f7f7f7"/>
<rect x="147.18" y="428.58" width="4.51" height="4.92" fill="#f7f7f7"/>
<rect x="151.09" y="428.58" width="4.51" height="4.92" fill="#f7f7f7"/>
<rect x="155.00" y="428.58" width="4.51" height="4.92" fill="#f7f7f7"/>
<rect x="158.91" y="428.58" width="4.51" height="4.92" fill="#b2182b"/>
<rect x="162.82" y="428.58" width="4.51" height="4.92" fill="#b2182b"/>
<rect x="166.73" y="428.58" width="4.51" height="4.92" fill="#fddbc7"/>
<rect x="170.64" y="428.58" width="4.51" height="4.92" fill="#67001f"/>
<rect x="174.55" y="428.58" width="4.51" height="4.92" fill="#b2182b"/>
<rect x="178.46" y="428.58" width="4.51" height="4.92" fill="#fddbc7"/>
<rect x="182.37" y="428.58" width="4.51" height="4.92" fill="#d1e5f0"/>
<rect x="186.28" y="428.58" width="4.51" height="4.92" fill="#f4a582"/>
<rect x="190.19" y="428.58" width="4.51" height="4.92" fill="#fddbc7"/>
<rect x="194.10" y="428.58" width="4.51" height="4.92" fill="#f7f7f7"/>
<rect x="198.01" y="428.58" width="4.51" height="4.92" fill="#d1e5f0"/>
<rect x="201.92" y="428.58" width="4.51" height="4.92" fill="#67001f"/>
<rect x="205.83" y="428.58" width="3.91" height="4.92" fill="#f7f7f7"/>
<rect x="76.80" y="432.90" width="4.51" height="4.92" fill="#f7f7f7"/>
<rect x="80.71" y="432.90" width="4.51" height="4.92" fill="#fddbc7"/>
<rect x="84.62" y="432.90" width="4.51" height="4.92" fill="#fddbc7"/>
<rect x="88.53" y="432.90" width="4.51" height="4.92" fill="#f4a582"/>
<rect x="92.44" y="432.90" width="4.51" height="4.92" fill="#d1e5f0"/>
<rect x="96.35" y="432.90" width="4.51" height="4.92" fill="#f7f7f7"/>
<rect x="100.26" y="432.90" width="4.51" height="4.92" fill="#92c5de"/>
<rect x="104.17" y="432.90" width="4.51" height="4.92" fill="#f7f7f7"/>
<rect x="108.08" y="432.90" width="4.51" height="4.92" fill="#d6604d"/>
<rect x="111.99" y="432.90" width="4.51" height="4.92" fill="#f7f7f7"/>
<rect x="115.90" y="432.90" width="4.51" height="4.92" fill="#92c5de"/>
<rect x="119.81" y="432.90" width="4.51" height="4.92" fill="#fddbc7"/>
<rect x="123.72" y="432.90" width="4.51" height="4.92" fill="#f7f7f7"/>
<rect x="127.63" y="432.90" width="4.51" height="4.92" fill="#f7f7f7"/>
<rect x="131.54" y="432.90" width="4.51" height="4.92" fill="#f7f7f7"/>
<rect x="135.45" y="432.90" width="4.51" height="4.92" fill="#67001f"/>
<rect x="139.36" y="432.90" width="4.51" height="4.92" fill="#b2182b"/>
<rect x="143.27" y="432.90" width="4.51" height="4.92" fill="#67001f"/>
<rect x="147.18" y="432.90" width="4.51" height="4.92" fill="#f4a582"/>
<rect x="151.09" y="432.90" width="4.51" height="4.92" fill="#f7f7f7"/>
<rect x="155.00" y="432.90" width="4.51" height="4.92" fill="#f7f7f7"/>
<rect x="158.91" y="432.90" width="4.51" height="4.92" fill="#d1e5f0"/>
<rect x="162.82" y="432.90" width="4.51" height="4.92" fill="#f4a582"/>
<rect x="166.73" y="432.90" width="4.51" height="4.92" fill="#b2182b"/>
<rect x="170.64" y="432.90" width="4.51" height="4.92" fill="#f7f7f7"/>
<rect x="174.55" y="432.90" width="4.51" height="4.92" fill="#d1e5f0"/>
<rect x="178.46" y="432.90" width="4.51" height="4.92" fill="#f4a582"/>
<rect x="182.37" y="432.90" width="4.51" height="4.92" fill="#fddbc7"/>
<rect x="186.28" y="432.90" width="4.51" height="4.92" fill="#67001f"/>
<rect x="190.19" y="432.90" width="4.51" height="4.92" fill="#f7f7f7"/>
<rect x="194.10" y="432.90" width="4.51" height="4.92" fill="#67001f"/>
<rect x="198.01" y="432.90" width="4.51" height="4.92" fill="#67001f"/>
<rect x="201.92" y="432.90" width="4.51" height="4.92" fill="#d1e5f0"/>
<rect x="205.83" y="432.90" width="3.91" height="4.92" fill="#67001f"/>
<rect x="76.80" y="437.22" width="4.51" height="4.92" fill="#d1e5f0"/>
<rect x="80.71" y="437.22" width="4.51" height="4.92" fill="#f7f7f7"/>
<rect x="84.62" y="437.22" width="4.51" height="4.92" fill="#fddbc7"/>
<rect x="88.53" y="437.22" width="4.51" height="4.92" fill="#f4a582"/>
<rect x="92.44" y="437.22" width="4.51" height="4.92" fill="#92c5de"/>
<rect x="96.35" y="437.22" width="4.51" height="4.92" fill="#fddbc7"/>
<rect x="100.26" y="437.22" width="4.51" height="4.92" fill="#f7f7f7"/>
<rect x="104.17" y="437.22" width="4.51" height="4.92" fill="#b2182b"/>
<rect x="108.08" y="437.22" width="4.51" height="4.92" fill="#fddbc7"/>
<rect x="111.99" y="437.22" width="4.51" height="4.92" fill="#f4a582"/>
<rect x="115.90" y="437.22" width="4.51" height="4.92" fill="#f7f7f7"/>
<rect x="119.81" y="437.22" width="4.51" height="4.92" fill="#f7f7f7"/>
<rect x="123.72" y="437.22" width="4.51" height="4.92" fill="#b2182b"/>
<rect x="127.63" y="437.22" width="4.51" height="4.92" fill="#fddbc7"/>
<rect x="131.54" y="437.22" width="4.51" height="4.92" fill="#b2182b"/>
<rect x="135.45" y="437.22" width="4.51" height="4.92" fill="#f7f7f7"/>
<rect x="139.36" y="437.22" width="4.51" height="4.92" fill="#d1e5f0"/>
<rect x="143.27" y="437.22" width="4.51" height="4.92" fill="#f7f7f7"/>
<rect x="147.18" y="437.22" width="4.51" height="4.92" fill="#f7f7f7"/>
<rect x="151.09" y="437.22" width="4.51" height="4.92" fill="#b2182b"/>
<rect x="155.00" y="437.22" width="4.51" height="4.92" fill="#d1e5f0"/>
<rect x="158.91" y="437.22" width="4.51" height="4.92" fill="#f7f7f7"/>
<rect x="162.82" y="437.22" width="4.51" height="4.92" fill="#f7f7f7"/>
<rect x="166.73" y="437.22" width="4.51" height="4.92" fill="#fddbc7"/>
<rect x="170.64" y="437.22" width="4.51" height="4.92" fill="#b2182b"/>
<rect x="174.55" y="437.22" width="4.51" height="4.92" fill="#fddbc7"/>
<rect x="178.46" y="437.22" width="4.51" height="4.92" fill="#d1e5f0"/>
<rect x="182.37" y="437.22" width="4.51" height="4.92" fill="#4393c3"/>
<rect x="186.28" y="437.22" width="4.51" height="4.92" fill="#92c5de"/>
<rect x="190.19" y="437.22" width="4.51" height="4.92" fill="#f7f7f7"/>
<rect x="194.10" y="437.22" width="4.51" height="4.92" fill="#f7f7f7"/>
<rect x="198.01" y="437.22" width="4.51" height="4.92" fill="#d1e5f0"/>
<rect x="201.92" y="437.22" width="4.51" height="4.92" fill="#d6604d"/>
<rect x="205.83" y="437.22" width="3.91" height="4.92" fill="#4393c3"/>
<rect x="76.80" y="441.54" width="4.51" height="4.92" fill="#2166ac"/>
<rect x="80.71" y="441.54" width="4.51" height="4.92" fill="#f7f7f7"/>
<rect x="84.62" y="441.54" width="4.51" height="4.92" fill="#67001f"/>
<rect x="88.53" y="441.54" width="4.51" height="4.92" fill="#f7f7f7"/>
<rect x="92.44" y="441.54" width="4.51" height="4.92" fill="#053061"/>
<rect x="96.35" y="441.54" width="4.51" height="4.92" fill="#f7f7f7"/>
<rect x="100.26" y="441.54" width="4.51" height="4.92" fill="#2166ac"/>
<rect x="104.17" y="441.54" width="4.51" height="4.92" fill="#d6604d"/>
<rect x="108.08" y="441.54" width="4.51" height="4.92" fill="#fddbc7"/>
<rect x="111.99" y="441.54" width="4.51" height="4.92" fill="#67001f"/>
<rect x="115.90" y="441.54" width="4.51" height="4.92" fill="#f7f7f7"/>
<rect x="119.81" y="441.54" width="4.51" height="4.92" fill="#f7f7f7"/>
<rect x="123.72" y="441.54" width="4.51" height="4.92" fill="#d6604d"/>
<rect x="127.63" y="441.54" width="4.51" height="4.92" fill="#f7f7f7"/>
<rect x="131.54" y="441.54" width="4.51" height="4.92" fill="#f4a582"/>
<rect x="135.45" y="441.54" width="4.51" height="4.92" fill="#f7f7f7"/>
<rect x="139.36" y="441.54" width="4.51" height="4.92" fill="#fddbc7"/>
<rect x="143.27" y="441.54" width="4.51" height="4.92" fill="#fddbc7"/>
<rect x="147.18" y="441.54" width="4.51" height="4.92" fill="#fddbc7"/>
<rect x="151.09" y="441.54" width="4.51" height="4.92" fill="#b2182b"/>
<rect x="155.00" y="441.54" width="4.51" height="4.92" fill="#f4a582"/>
<rect x="158.91" y="441.54" width="4.51" height="4.92" fill="#f7f7f7"/>
<rect x="162.82" y="441.54" width="4.51" height="4.92" fill="#f7f7f7"/>
<rect x="166.73" y="441.54" width="4.51" height="4.92" fill="#fddbc7"/>
<rect x="170.64" y="441.54" width="4.51" height="4.92" fill="#b2182b"/>
<rect x="174.55" y="441.54" width="4.51" height="4.92" fill="#f7f7f7"/>
<rect x="178.46" y="441.54" width="4.51" height="4.92" fill="#67001f"/>
<rect x="182.37" y="441.54" width="4.51" height="4.92" fill="#f7f7f7"/>
<rect x="186.28" y="441.54" width="4.51" height="4.92" fill="#d6604d"/>
<rect x="190.19" y="441.54" width="4.51" height="4.92" fill="#f7f7f7"/>
<rect x="194.10" y="441.54" width="4.51" height="4.92" fill="#f7f7f7"/>
<rect x="198.01" y="441.54" width="4.51" height="4.92" fill="#f7f7f7"/>
<rect x="201.92" y="441.54" width="4.51" height="4.92" fill="#d6604d"/>
<rect x="205.83" y="441.54" width="3.91" height="4.92" fill="#f7f7f7"/>
<rect x="76.80" y="445.86" width="4.51" height="4.92" fill="#d1e5f0"/>
<rect x="80.71" y="445.86" width="4.51" height="4.92" fill="#f7f7f7"/>
<rect x="84.62" y="445.86" width="4.51" height="4.92" fill="#fddbc7"/>
<rect x="88.53" y="445.86" width="4.51" height="4.92" fill="#d6604d"/>
<rect x="92.44" y="445.86" width="4.51" height="4.92" fill="#92c5de"/>
<rect x="96.35" y="445.86" width="4.51" height="4.92" fill="#d6604d"/>
<rect x="100.26" y="445.86" width="4.51" height="4.92" fill="#92c5de"/>
<rect x="104.17" y="445.86" width="4.51" height="4.92" fill="#f7f7f7"/>
<rect x="108.08" y="445.86" width="4.51" height="4.92" fill="#f7f7f7"/>
<rect x="111.99" y="445.86" width="4.51" height="4.92" fill="#f7f7f7"/>
<rect x="115.90" y="445.86" width="4.51" height="4.92" fill="#b2182b"/>
<rect x="119.81" y="445.86" width="4.51" height="4.92" fill="#d6604d"/>
<rect x="123.72" y="445.86" width="4.51" height="4.92" fill="#f7f7f7"/>
<rect x="127.63" y="445.86" width="4.51" height="4.92" fill="#92c5de"/>
<rect x="131.54" y="445.86" width="4.51" height="4.92" fill="#f7f7f7"/>
<rect x="135.45" y="445.86" width="4.51" height="4.92" fill="#b2182b"/>
<rect x="139.36" y="445.86" width="4.51" height="4.92" fill="#fddbc7"/>
<rect x="143.27" y="445.86" width="4.51" height="4.92" fill="#fddbc7"/>
<rect x="147.18" y="445.86" width="4.51" height="4.92" fill="#b2182b"/>
<rect x="151.09" y="445.86" width="4.51" height="4.92" fill="#fddbc7"/>
<rect x="155.00" y="445.86" width="4.51" height="4.92" fill="#b2182b"/>
<rect x="158.91" y="445.86" width="4.51" height="4.92" fill="#fddbc7"/>
<rect x="162.82" y="445.86" width="4.51" height="4.92" fill="#fddbc7"/>
<rect x="166.73" y="445.86" width="4.51" height="4.92" fill="#f7f7f7"/>
<rect x="170.64" y="445.86" width="4.51" height="4.92" fill="#fddbc7"/>
<rect x="174.55" y="445.86" width="4.51" height="4.92" fill="#f7f7f7"/>
<rect x="178.46" y="445.86" width="4.51" height="4.92" fill="#f7f7f7"/>
<rect x="182.37" y="445.86" width="4.51" height="4.92" fill="#b2182b"/>
<rect x="186.28" y="445.86" width="4.51" height="4.92" fill="#d6604d"/>
<rect x="190.19" y="445.86" width="4.51" height="4.92" fill="#f7f7f7"/>
<rect x="194.10" y="445.86" width="4.51" height="4.92" fill="#67001f"/>
<rect x="198.01" y="445.86" width="4.51" height="4.92" fill="#67001f"/>
<rect x="201.92" y="445.86" width="4.51" height="4.92" fill="#f7f7f7"/>
<rect x="205.83" y="445.86" width="3.91" height="4.92" fill="#d6604d"/>
<rect x="76.80" y="450.18" width="4.51" height="4.92" fill="#4393c3"/>
<rect x="80.71" y="450.18" width="4.51" height="4.92" fill="#fddbc7"/>
<rect x="84.62" y="450.18" width="4.51" height="4.92" fill="#f4a582"/>
<rect x="88.53" y="450.18" width="4.51" height="4.92" fill="#d6604d"/>
<rect x="92.44" y="450.18" width="4.51" height="4.92" fill="#4393c3"/>
<rect x="96.35" y="450.18" width="4.51" height="4.92" fill="#f7f7f7"/>
<rect x="100.26" y="450.18" width="4.51" height="4.92" fill="#92c5de"/>
<rect x="104.17" y="450.18" width="4.51" height="4.92" fill="#b2182b"/>
<rect x="108.08" y="450.18" width="4.51" height="4.92" fill="#b2182b"/>
<rect x="111.99" y="450.18" width="4.51" height="4.92" fill="#b2182b"/>
<rect x="115.90" y="450.18" width="4.51" height="4.92" fill="#f7f7f7"/>
<rect x="119.81" y="450.18" width="4.51" height="4.92" fill="#d6604d"/>
<rect x="123.72" y="450.18" width="4.51" height="4.92" fill="#d6604d"/>
<rect x="127.63" y="450.18" width="4.51" height="4.92" fill="#f7f7f7"/>
<rect x="131.54" y="450.18" width="4.51" height="4.92" fill="#b2182b"/>
<rect x="135.45" y="450.18" width="4.51" height="4.92" fill="#d6604d"/>
<rect x="139.36" y="450.18" width="4.51" height="4.92" fill="#fddbc7"/>
<rect x="143.27" y="450.18" width="4.51" height="4.92" fill="#fddbc7"/>
<rect x="147.18" y="450.18" width="4.51" height="4.92" fill="#d6604d"/>
<rect x="151.09" y="450.18" width="4.51" height="4.92" fill="#67001f"/>
<rect x="155.00" y="450.18" width="4.51" height="4.92" fill="#f7f7f7"/>
<rect x="158.91" y="450.18" width="4.51" height="4.92" fill="#b2182b"/>
<rect x="162.82" y="450.18" width="4.51" height="4.92" fill="#b2182b"/>
<rect x="166.73" y="450.18" width="4.51" height="4.92" fill="#fddbc7"/>
<rect x="170.64" y="450.18" width="4.51" height="4.92" fill="#f7f7f7"/>
<rect x="174.55" y="450.18" width="4.51" height="4.92" fill="#f4a582"/>
<rect x="178.46" y="450.18" width="4.51" height="4.92" fill="#f7f7f7"/>
<rect x="182.37" y="450.18" width="4.51" height="4.92" fill="#f7f7f7"/>
<rect x="186.28" y="450.18" width="4.51" height="4.92" fill="#fddbc7"/>
<rect x="190.19" y="450.18" width="4.51" height="4.92" fill="#f7f7f7"/>
<rect x="194.10" y="450.18" width="4.51" height="4.92" fill="#f7f7f7"/>
<rect x="198.01" y="450.18" width="4.51" height="4.92" fill="#d6604d"/>
<rect x="201.92" y="450.18" width="4.51" height="4.92" fill="#f4a582"/>
<rect x="205.83" y="450.18" width="3.91" height="4.92" fill="#f7f7f7"/>
<rect x="76.80" y="454.50" width="4.51" height="4.92" fill="#92c5de"/>
<rect x="80.71" y="454.50" width="4.51" height="4.92" fill="#d1e5f0"/>
<rect x="84.62" y="454.50" width="4.51" height="4.92" fill="#f7f7f7"/>
<rect x="88.53" y="454.50" width="4.51" height="4.92" fill="#92c5de"/>
<rect x="92.44" y="454.50" width="4.51" height="4.92" fill="#f7f7f7"/>
<rect x="96.35" y="454.50" width="4.51" height="4.92" fill="#d6604d"/>
<rect x="100.26" y="454.50" width="4.51" height="4.92" fill="#4393c3"/>
<rect x="104.17" y="454.50" width="4.51" height="4.92" fill="#d6604d"/>
<rect x="108.08" y="454.50" width="4.51" height="4.92" fill="#4393c3"/>
<rect x="111.99" y="454.50" width="4.51" height="4.92" fill="#f4a582"/>
<rect x="115.90" y="454.50" width="4.51" height="4.92" fill="#4393c3"/>
<rect x="119.81" y="454.50" width="4.51" height="4.92" fill="#f7f7f7"/>
<rect x="123.72" y="454.50" width="4.51" height="4.92" fill="#f7f7f7"/>
<rect x="127.63" y="454.50" width="4.51" height="4.92" fill="#fddbc7"/>
<rect x="131.54" y="454.50" width="4.51" height="4.92" fill="#f4a582"/>
<rect x="135.45" y="454.50" width="4.51" height="4.92" fill="#f7f7f7"/>
<rect x="139.36" y="454.50" width="4.51" height="4.92" fill="#4393c3"/>
<rect x="143.27" y="454.50" width="4.51" height="4.92" fill="#4393c3"/>
<rect x="147.18" y="454.50" width="4.51" height="4.92" fill="#d1e5f0"/>
<rect x="151.09" y="454.50" width="4.51" height="4.92" fill="#b2182b"/>
<rect x="155.00" y="454.50" width="4.51" height="4.92" fill="#d1e5f0"/>
<rect x="158.91" y="454.50" width="4.51" height="4.92" fill="#fddbc7"/>
<rect x="162.82" y="454.50" width="4.51" height="4.92" fill="#f7f7f7"/>
<rect x="166.73" y="454.50" width="4.51" height="4.92" fill="#f7f7f7"/>
<rect x="170.64" y="454.50" width="4.51" height="4.92" fill="#f4a582"/>
<rect x="174.55" y="454.50" width="4.51" height="4.92" fill="#f7f7f7"/>
<rect x="178.46" y="454.50" width="4.51" height="4.92" fill="#f7f7f7"/>
<rect x="182.37" y="454.50" width="4.51" height="4.92" fill="#4393c3"/>
<rect x="186.28" y="454.50" width="4.51" height="4.92" fill="#f7f7f7"/>
<rect x="190.19" y="454.50" width="4.51" height="4.92" fill="#67001f"/>
<rect x="194.10" y="454.50" width="4.51" height="4.92" fill="#4393c3"/>
<rect x="198.01" y="454.50" width="4.51" height="4.92" fill="#fddbc7"/>
<rect x="201.92" y="454.50" width="4.51" height="4.92" fill="#b2182b"/>
<rect x="205.83" y="454.50" width="3.91" height="4.92" fill="#4393c3"/>
<rect x="76.80" y="458.82" width="4.51" height="4.92" fill="#92c5de"/>
<rect x="80.71" y="458.82" width="4.51" height="4.92" fill="#d1e5f0"/>
<rect x="84.62" y="458.82" width="4.51" height="4.92" fill="#b2182b"/>
<rect x="88.53" y="458.82" width="4.51" height="4.92" fill="#4393c3"/>
<rect x="92.44" y="458.82" width="4.51" height="4.92" fill="#92c5de"/>
<rect x="96.35" y="458.82" width="4.51" height="4.92" fill="#f7f7f7"/>
<rect x="100.26" y="458.82" width="4.51" height="4.92" fill="#053061"/>
<rect x="104.17" y="458.82" width="4.51" height="4.92" fill="#f7f7f7"/>
<rect x="108.08" y="458.82" width="4.51" height="4.92" fill="#f7f7f7"/>
<rect x="111.99" y="458.82" width="4.51" height="4.92" fill="#d6604d"/>
<rect x="115.90" y="458.82" width="4.51" height="4.92" fill="#f7f7f7"/>
<rect x="119.81" y="458.82" width="4.51" height="4.92" fill="#92c5de"/>
<rect x="123.72" y="458.82" width="4.51" height="4.92" fill="#d1e5f0"/>
<rect x="127.63" y="458.82" width="4.51" height="4.92" fill="#d6604d"/>
<rect x="131.54" y="458.82" width="4.51" height="4.92" fill="#f7f7f7"/>
<rect x="135.45" y="458.82" width="4.51" height="4.92" fill="#fddbc7"/>
<rect x="139.36" y="458.82" width="4.51" height="4.92" fill="#f7f7f7"/>
<rect x="143.27" y="458.82" width="4.51" height="4.92" fill="#d6604d"/>
<rect x="147.18" y="458.82" width="4.51" height="4.92" fill="#fddbc7"/>
<rect x="151.09" y="458.82" width="4.51" height="4.92" fill="#fddbc7"/>
<rect x="155.00" y="458.82" width="4.51" height="4.92" fill="#f4a582"/>
<rect x="158.91" y="458.82" width="4.51" height="4.92" fill="#d1e5f0"/>
<rect x="162.82" y="458.82" width="4.51" height="4.92" fill="#67001f"/>
<rect x="166.73" y="458.82" width="4.51" height="4.92" fill="#f7f7f7"/>
<rect x="170.64" y="458.82" width="4.51" height="4.92" fill="#f7f7f7"/>
<rect x="174.55" y="458.82" width="4.51" height="4.92" fill="#f7f7f7"/>
<rect x="178.46" y="458.82" width="4.51" height="4.92" fill="#f7f7f7"/>
<rect x="182.37" y="458.82" width="4.51" height="4.92" fill="#f7f7f7"/>
<rect x="186.28" y="458.82" width="4.51" height="4.92" fill="#b2182b"/>
<rect x="190.19" y="458.82" width="4.51" height="4.92" fill="#f7f7f7"/>
<rect x="194.10" y="458.82" width="4.51" height="4.92" fill="#f7f7f7"/>
<rect x="198.01" y="458.82" width="4.51" height="4.92" fill="#fddbc7"/>
<rect x="201.92" y="458.82" width="4.51" height="4.92" fill="#d6604d"/>
<rect x="205.83" y="458.82" width="3.91" height="4.92" fill="#f7f7f7"/>
<rect x="76.80" y="463.14" width="4.51" height="4.92" fill="#92c5de"/>
<rect x="80.71" y="463.14" width="4.51" height="4.92" fill="#f7f7f7"/>
<rect x="84.62" y="463.14" width="4.51" height="4.92" fill="#d1e5f0"/>
<rect x="88.53" y="463.14" width="4.51" height="4.92" fill="#d6604d"/>
<rect x="92.44" y="463.14" width="4.51" height="4.92" fill="#92c5de"/>
<rect x="96.35" y="463.14" width="4.51" height="4.92" fill="#f7f7f7"/>
<rect x="100.26" y="463.14" width="4.51" height="4.92" fill="#f7f7f7"/>
<rect x="104.17" y="463.14" width="4.51" height="4.92" fill="#4393c3"/>
<rect x="108.08" y="463.14" width="4.51" height="4.92" fill="#f7f7f7"/>
<rect x="111.99" y="463.14" width="4.51" height="4.92" fill="#d1e5f0"/>
<rect x="115.90" y="463.14" width="4.51" height="4.92" fill="#67001f"/>
<rect x="119.81" y="463.14" width="4.51" height="4.92" fill="#f7f7f7"/>
<rect x="123.72" y="463.14" width="4.51" height="4.92" fill="#d1e5f0"/>
<rect x="127.63" y="463.14" width="4.51" height="4.92" fill="#4393c3"/>
<rect x="131.54" y="463.14" width="4.51" height="4.92" fill="#92c5de"/>
<rect x="135.45" y="463.14" width="4.51" height="4.92" fill="#fddbc7"/>
<rect x="139.36" y="463.14" width="4.51" height="4.92" fill="#fddbc7"/>
<rect x="143.27" y="463.14" width="4.51" height="4.92" fill="#f7f7f7"/>
<rect x="147.18" y="463.14" width="4.51" height="4.92" fill="#b2182b"/>
<rect x="151.09" y="463.14" width="4.51" height="4.92" fill="#d1e5f0"/>
<rect x="155.00" y="463.14" width="4.51" height="4.92" fill="#fddbc7"/>
<rect x="158.91" y="463.14" width="4.51" height="4.92" fill="#4393c3"/>
<rect x="162.82" y="463.14" width="4.51" height="4.92" fill="#f7f7f7"/>
<rect x="166.73" y="463.14" width="4.51" height="4.92" fill="#b2182b"/>
<rect x="170.64" y="463.14" width="4.51" height="4.92" fill="#f7f7f7"/>
<rect x="174.55" y="463.14" width="4.51" height="4.92" fill="#4393c3"/>
<rect x="178.46" y="463.14" width="4.51" height="4.92" fill="#f7f7f7"/>
<rect x="182.37" y="463.14" width="4.51" height="4.92" fill="#f7f7f7"/>
<rect x="186.28" y="463.14" width="4.51" height="4.92" fill="#fddbc7"/>
<rect x="190.19" y="463.14" width="4.51" height="4.92" fill="#4393c3"/>
<rect x="194.10" y="463.14" width="4.51" height="4.92" fill="#b2182b"/>
<rect x="198.01" y="463.14" width="4.51" height="4.92" fill="#f4a582"/>
<rect x="201.92" y="463.14" width="4.51" height="4.92" fill="#4393c3"/>
<rect x="205.83" y="463.14" width="3.91" height="4.92" fill="#b2182b"/>
<rect x="76.80" y="467.46" width="4.51" height="4.92" fill="#4393c3"/>
<rect x="80.71" y="467.46" width="4.51" height="4.92" fill="#fddbc7"/>
<rect x="84.62" y="467.46" width="4.51" height="4.92" fill="#67001f"/>
<rect x="88.53" y="467.46" width="4.51" height="4.92" fill="#f7f7f7"/>
<rect x="92.44" y="467.46" width="4.51" height="4.92" fill="#d1e5f0"/>
<rect x="96.35" y="467.46" width="4.51" height="4.92" fill="#f7f7f7"/>
<rect x="100.26" y="467.46" width="4.51" height="4.92" fill="#2166ac"/>
<rect x="104.17" y="467.46" width="4.51" height="4.92" fill="#f7f7f7"/>
<rect x="108.08" y="467.46" width="4.51" height="4.92" fill="#d6604d"/>
<rect x="111.99" y="467.46" width="4.51" height="4.92" fill="#f4a582"/>
<rect x="115.90" y="467.46" width="4.51" height="4.92" fill="#f7f7f7"/>
<rect x="119.81" y="467.46" width="4.51" height="4.92" fill="#f7f7f7"/>
<rect x="123.72" y="467.46" width="4.51" height="4.92" fill="#f7f7f7"/>
<rect x="127.63" y="467.46" width="4.51" height="4.92" fill="#f4a582"/>
<rect x="131.54" y="467.46" width="4.51" height="4.92" fill="#f7f7f7"/>
<rect x="135.45" y="467.46" width="4.51" height="4.92" fill="#67001f"/>
<rect x="139.36" y="467.46" width="4.51" height="4.92" fill="#67001f"/>
<rect x="143.27" y="467.46" width="4.51" height="4.92" fill="#67001f"/>
<rect x="147.18" y="467.46" width="4.51" height="4.92" fill="#b2182b"/>
<rect x="151.09" y="467.46" width="4.51" height="4.92" fill="#f4a582"/>
<rect x="155.00" y="467.46" width="4.51" height="4.92" fill="#67001f"/>
<rect x="158.91" y="467.46" width="4.51" height="4.92" fill="#92c5de"/>
<rect x="162.82" y="467.46" width="4.51" height="4.92" fill="#d6604d"/>
<rect x="166.73" y="467.46" width="4.51" height="4.92" fill="#d6604d"/>
<rect x="170.64" y="467.46" width="4.51" height="4.92" fill="#fddbc7"/>
<rect x="174.55" y="467.46" width="4.51" height="4.92" fill="#f7f7f7"/>
<rect x="178.46" y="467.46" width="4.51" height="4.92" fill="#b2182b"/>
<rect x="182.37" y="467.46" width="4.51" height="4.92" fill="#fddbc7"/>
<rect x="186.28" y="467.46" width="4.51" height="4.92" fill="#f7f7f7"/>
<rect x="190.19" y="467.46" width="4.51" height="4.92" fill="#f7f7f7"/>
<rect x="194.10" y="467.46" width="4.51" height="4.92" fill="#b2182b"/>
<rect x="198.01" y="467.46" width="4.51" height="4.92" fill="#d6604d"/>
<rect x="201.92" y="467.46" width="4.51" height="4.92" fill="#f7f7f7"/>
<rect x="205.83" y="467.46" width="3.91" height="4.92" fill="#b2182b"/>
<rect x="76.80" y="471.78" width="4.51" height="4.92" fill="#f7f7f7"/>
<rect x="80.71" y="471.78" width="4.51" height="4.92" fill="#4393c3"/>
<rect x="84.62" y="471.78" width="4.51" height="4.92" fill="#f7f7f7"/>
<rect x="88.53" y="471.78" width="4.51" height="4.92" fill="#4393c3"/>
<rect x="92.44" y="471.78" width="4.51" height="4.92" fill="#d6604d"/>
<rect x="96.35" y="471.78" width="4.51" height="4.92" fill="#f4a582"/>
<rect x="100.26" y="471.78" width="4.51" height="4.92" fill="#d1e5f0"/>
<rect x="104.17" y="471.78" width="4.51" height="4.92" fill="#f4a582"/>
<rect x="108.08" y="471.78" width="4.51" height="4.92" fill="#2166ac"/>
<rect x="111.99" y="471.78" width="4.51" height="4.92" fill="#f7f7f7"/>
<rect x="115.90" y="471.78" width="4.51" height="4.92" fill="#2166ac"/>
<rect x="119.81" y="471.78" width="4.51" height="4.92" fill="#f7f7f7"/>
<rect x="123.72" y="471.78" width="4.51" height="4.92" fill="#92c5de"/>
<rect x="127.63" y="471.78" width="4.51" height="4.92" fill="#f7f7f7"/>
<rect x="131.54" y="471.78" width="4.51" height="4.92" fill="#f7f7f7"/>
<rect x="135.45" y="471.78" width="4.51" height="4.92" fill="#92c5de"/>
<rect x="139.36" y="471.78" width="4.51" height="4.92" fill="#4393c3"/>
<rect x="143.27" y="471.78" width="4.51" height="4.92" fill="#4393c3"/>
<rect x="147.18" y="471.78" width="4.51" height="4.92" fill="#4393c3"/>
<rect x="151.09" y="471.78" width="4.51" height="4.92" fill="#fddbc7"/>
<rect x="155.00" y="471.78" width="4.51" height="4.92" fill="#f7f7f7"/>
<rect x="158.91" y="471.78" width="4.51" height="4.92" fill="#f7f7f7"/>
<rect x="162.82" y="471.78" width="4.51" height="4.92" fill="#f7f7f7"/>
<rect x="166.73" y="471.78" width="4.51" height="4.92" fill="#f7f7f7"/>
<rect x="170.64" y="471.78" width="4.51" height="4.92" fill="#f7f7f7"/>
<rect x="174.55" y="471.78" width="4.51" height="4.92" fill="#67001f"/>
<rect x="178.46" y="471.78" width="4.51" height="4.92" fill="#f7f7f7"/>
<rect x="182.37" y="471.78" width="4.51" height="4.92" fill="#4393c3"/>
<rect x="186.28" y="471.78" width="4.51" height="4.92" fill="#f7f7f7"/>
<rect x="190.19" y="471.78" width="4.51" height="4.92" fill="#f7f7f7"/>
<rect x="194.10" y="471.78" width="4.51" height="4.92" fill="#4393c3"/>
<rect x="198.01" y="471.78" width="4.51" height="4.92" fill="#fddbc7"/>
<rect x="201.92" y="471.78" width="4.51" height="4.92" fill="#d6604d"/>
<rect x="205.83" y="471.78" width="3.91" height="4.92" fill="#92c5de"/>
<rect x="76.80" y="476.10" width="4.51" height="4.92" fill="#d1e5f0"/>
<rect x="80.71" y="476.10" width="4.51" height="4.92" fill="#f4a582"/>
<rect x="84.62" y="476.10" width="4.51" height="4.92" fill="#f7f7f7"/>
<rect x="88.53" y="476.10" width="4.51" height="4.92" fill="#b2182b"/>
<rect x="92.44" y="476.10" width="4.51" height="4.92" fill="#d1e5f0"/>
<rect x="96.35" y="476.10" width="4.51" height="4.92" fill="#f4a582"/>
<rect x="100.26" y="476.10" width="4.51" height="4.92" fill="#f7f7f7"/>
<rect x="104.17" y="476.10" width="4.51" height="4.92" fill="#f7f7f7"/>
<rect x="108.08" y="476.10" width="4.51" height="4.92" fill="#d6604d"/>
<rect x="111.99" y="476.10" width="4.51" height="4.92" fill="#f7f7f7"/>
<rect x="115.90" y="476.10" width="4.51" height="4.92" fill="#b2182b"/>
<rect x="119.81" y="476.10" width="4.51" height="4.92" fill="#d6604d"/>
<rect x="123.72" y="476.10" width="4.51" height="4.92" fill="#f7f7f7"/>
<rect x="127.63" y="476.10" width="4.51" height="4.92" fill="#f7f7f7"/>
<rect x="131.54" y="476.10" width="4.51" height="4.92" fill="#d6604d"/>
<rect x="135.45" y="476.10" width="4.51" height="4.92" fill="#67001f"/>
<rect x="139.36" y="476.10" width="4.51" height="4.92" fill="#67001f"/>
<rect x="143.27" y="476.10" width="4.51" height="4.92" fill="#d6604d"/>
<rect x="147.18" y="476.10" width="4.51" height="4.92" fill="#67001f"/>
<rect x="151.09" y="476.10" width="4.51" height="4.92" fill="#f7f7f7"/>
<rect x="155.00" y="476.10" width="4.51" height="4.92" fill="#67001f"/>
<rect x="158.91" y="476.10" width="4.51" height="4.92" fill="#f7f7f7"/>
<rect x="162.82" y="476.10" width="4.51" height="4.92" fill="#f7f7f7"/>
<rect x="166.73" y="476.10" width="4.51" height="4.92" fill="#67001f"/>
<rect x="170.64" y="476.10" width="4.51" height="4.92" fill="#f7f7f7"/>
<rect x="174.55" y="476.10" width="4.51" height="4.92" fill="#4393c3"/>
<rect x="178.46" y="476.10" width="4.51" height="4.92" fill="#f7f7f7"/>
<rect x="182.37" y="476.10" width="4.51" height="4.92" fill="#b2182b"/>
<rect x="186.28" y="476.10" width="4.51" height="4.92" fill="#b2182b"/>
<rect x="190.19" y="476.10" width="4.51" height="4.92" fill="#4393c3"/>
<rect x="194.10" y="476.10" width="4.51" height="4.92" fill="#f7f7f7"/>
<rect x="198.01" y="476.10" width="4.51" height="4.92" fill="#b2182b"/>
<rect x="201.92" y="476.10" width="4.51" height="4.92" fill="#4393c3"/>
<rect x="205.83" y="476.10" width="3.91" height="4.92" fill="#67001f"/>
<rect x="76.80" y="480.42" width="4.51" height="4.92" fill="#4393c3"/>
<rect x="80.71" y="480.42" width="4.51" height="4.92" fill="#f7f7f7"/>
<rect x="84.62" y="480.42" width="4.51" height="4.92" fill="#f7f7f7"/>
<rect x="88.53" y="480.42" width="4.51" height="4.92" fill="#d6604d"/>
<rect x="92.44" y="480.42" width="4.51" height="4.92" fill="#d1e5f0"/>
<rect x="96.35" y="480.42" width="4.51" height="4.92" fill="#67001f"/>
<rect x="100.26" y="480.42" width="4.51" height="4.92" fill="#4393c3"/>
<rect x="104.17" y="480.42" width="4.51" height="4.92" fill="#f7f7f7"/>
<rect x="108.08" y="480.42" width="4.51" height="4.92" fill="#f7f7f7"/>
<rect x="111.99" y="480.42" width="4.51" height="4.92" fill="#f7f7f7"/>
<rect x="115.90" y="480.42" width="4.51" height="4.92" fill="#fddbc7"/>
<rect x="119.81" y="480.42" width="4.51" height="4.92" fill="#b2182b"/>
<rect x="123.72" y="480.42" width="4.51" height="4.92" fill="#d1e5f0"/>
<rect x="127.63" y="480.42" width="4.51" height="4.92" fill="#f7f7f7"/>
<rect x="131.54" y="480.42" width="4.51" height="4.92" fill="#d6604d"/>
<rect x="135.45" y="480.42" width="4.51" height="4.92" fill="#b2182b"/>
<rect x="139.36" y="480.42" width="4.51" height="4.92" fill="#f7f7f7"/>
<rect x="143.27" y="480.42" width="4.51" height="4.92" fill="#fddbc7"/>
<rect x="147.18" y="480.42" width="4.51" height="4.92" fill="#f4a582"/>
<rect x="151.09" y="480.42" width="4.51" height="4.92" fill="#d1e5f0"/>
<rect x="155.00" y="480.42" width="4.51" height="4.92" fill="#67001f"/>
<rect x="158.91" y="480.42" width="4.51" height="4.92" fill="#d1e5f0"/>
<rect x="162.82" y="480.42" width="4.51" height="4.92" fill="#f7f7f7"/>
<rect x="166.73" y="480.42" width="4.51" height="4.92" fill="#67001f"/>
<rect x="170.64" y="480.42" width="4.51" height="4.92" fill="#d6604d"/>
<rect x="174.55" y="480.42" width="4.51" height="4.92" fill="#fddbc7"/>
<rect x="178.46" y="480.42" width="4.51" height="4.92" fill="#fddbc7"/>
<rect x="182.37" y="480.42" width="4.51" height="4.92" fill="#f4a582"/>
<rect x="186.28" y="480.42" width="4.51" height="4.92" fill="#d6604d"/>
<rect x="190.19" y="480.42" width="4.51" height="4.92" fill="#fddbc7"/>
<rect x="194.10" y="480.42" width="4.51" height="4.92" fill="#b2182b"/>
<rect x="198.01" y="480.42" width="4.51" height="4.92" fill="#f7f7f7"/>
<rect x="201.92" y="480.42" width="4.51" height="4.92" fill="#f7f7f7"/>
<rect x="205.83" y="480.42" width="3.91" height="4.92" fill="#f4a582"/>
<rect x="76.80" y="484.74" width="4.51" height="4.92" fill="#92c5de"/>
<rect x="80.71" y="484.74" width="4.51" height="4.92" fill="#4393c3"/>
<rect x="84.62" y="484.74" width="4.51" height="4.92" fill="#f4a582"/>
<rect x="88.53" y="484.74" width="4.51" height="4.92" fill="#d1e5f0"/>
<rect x="92.44" y="484.74" width="4.51" height="4.92" fill="#d1e5f0"/>
<rect x="96.35" y="484.74" width="4.51" height="4.92" fill="#f7f7f7"/>
<rect x="100.26" y="484.74" width="4.51" height="4.92" fill="#d1e5f0"/>
<rect x="104.17" y="484.74" width="4.51" height="4.92" fill="#b2182b"/>
<rect x="108.08" y="484.74" width="4.51" height="4.92" fill="#f7f7f7"/>
<rect x="111.99" y="484.74" width="4.51" height="4.92" fill="#b2182b"/>
<rect x="115.90" y="484.74" width="4.51" height="4.92" fill="#4393c3"/>
<rect x="119.81" y="484.74" width="4.51" height="4.92" fill="#f7f7f7"/>
<rect x="123.72" y="484.74" width="4.51" height="4.92" fill="#f7f7f7"/>
<rect x="127.63" y="484.74" width="4.51" height="4.92" fill="#f7f7f7"/>
<rect x="131.54" y="484.74" width="4.51" height="4.92" fill="#f7f7f7"/>
<rect x="135.45" y="484.74" width="4.51" height="4.92" fill="#f7f7f7"/>
<rect x="139.36" y="484.74" width="4.51" height="4.92" fill="#92c5de"/>
<rect x="143.27" y="484.74" width="4.51" height="4.92" fill="#92c5de"/>
<rect x="147.18" y="484.74" width="4.51" height="4.92" fill="#d1e5f0"/>
<rect x="151.09" y="484.74" width="4.51" height="4.92" fill="#67001f"/>
<rect x="155.00" y="484.74" width="4.51" height="4.92" fill="#d1e5f0"/>
<rect x="158.91" y="484.74" width="4.51" height="4.92" fill="#d6604d"/>
<rect x="162.82" y="484.74" width="4.51" height="4.92" fill="#d6604d"/>
<rect x="166.73" y="484.74" width="4.51" height="4.92" fill="#f7f7f7"/>
<rect x="170.64" y="484.74" width="4.51" height="4.92" fill="#f4a582"/>
<rect x="174.55" y="484.74" width="4.51" height="4.92" fill="#b2182b"/>
<rect x="178.46" y="484.74" width="4.51" height="4.92" fill="#d6604d"/>
<rect x="182.37" y="484.74" width="4.51" height="4.92" fill="#4393c3"/>
<rect x="186.28" y="484.74" width="4.51" height="4.92" fill="#f7f7f7"/>
<rect x="190.19" y="484.74" width="4.51" height="4.92" fill="#d6604d"/>
<rect x="194.10" y="484.74" width="4.51" height="4.92" fill="#4393c3"/>
<rect x="198.01" y="484.74" width="4.51" height="4.92" fill="#f7f7f7"/>
<rect x="201.92" y="484.74" width="4.51" height="4.92" fill="#f7f7f7"/>
<rect x="205.83" y="484.74" width="3.91" height="4.92" fill="#4393c3"/>
<rect x="76.80" y="489.06" width="4.51" height="4.32" fill="#92c5de"/>
<rect x="80.71" y="489.06" width="4.51" height="4.32" fill="#f7f7f7"/>
<rect x="84.62" y="489.06" width="4.51" height="4.32" fill="#f7f7f7"/>
<rect x="88.53" y="489.06" width="4.51" height="4.32" fill="#f4a582"/>
<rect x="92.44" y="489.06" width="4.51" height="4.32" fill="#f7f7f7"/>
<rect x="96.35" y="489.06" width="4.51" height="4.32" fill="#fddbc7"/>
<rect x="100.26" y="489.06" width="4.51" height="4.32" fill="#f7f7f7"/>
<rect x="104.17" y="489.06" width="4.51" height="4.32" fill="#d1e5f0"/>
<rect x="108.08" y="489.06" width="4.51" height="4.32" fill="#fddbc7"/>
<rect x="111.99" y="489.06" width="4.51" height="4.32" fill="#f7f7f7"/>
<rect x="115.90" y="489.06" width="4.51" height="4.32" fill="#b2182b"/>
<rect x="119.81" y="489.06" width="4.51" height="4.32" fill="#f7f7f7"/>
<rect x="123.72" y="489.06" width="4.51" height="4.32" fill="#d1e5f0"/>
<rect x="127.63" y="489.06" width="4.51" height="4.32" fill="#d1e5f0"/>
<rect x="131.54" y="489.06" width="4.51" height="4.32" fill="#d1e5f0"/>
<rect x="135.45" y="489.06" width="4.51" height="4.32" fill="#d6604d"/>
<rect x="139.36" y="489.06" width="4.51" height="4.32" fill="#b2182b"/>
<rect x="143.27" y="489.06" width="4.51" height="4.32" fill="#b2182b"/>
<rect x="147.18" y="489.06" width="4.51" height="4.32" fill="#b2182b"/>
<rect x="151.09" y="489.06" width="4.51" height="4.32" fill="#f7f7f7"/>
<rect x="155.00" y="489.06" width="4.51" height="4.32" fill="#67001f"/>
<rect x="158.91" y="489.06" width="4.51" height="4.32" fill="#4393c3"/>
<rect x="162.82" y="489.06" width="4.51" height="4.32" fill="#f7f7f7"/>
<rect x="166.73" y="489.06" width="4.51" height="4.32" fill="#d6604d"/>
<rect x="170.64" y="489.06" width="4.51" height="4.32" fill="#f7f7f7"/>
<rect x="174.55" y="489.06" width="4.51" height="4.32" fill="#4393c3"/>
<rect x="178.46" y="489.06" width="4.51" height="4.32" fill="#f7f7f7"/>
<rect x="182.37" y="489.06" width="4.51" height="4.32" fill="#b2182b"/>
<rect x="186.28" y="489.06" width="4.51" height="4.32" fill="#b2182b"/>
<rect x="190.19" y="489.06" width="4.51" height="4.32" fill="#92c5de"/>
<rect x="194.10" y="489.06" width="4.51" height="4.32" fill="#67001f"/>
<rect x="198.01" y="489.06" width="4.51" height="4.32" fill="#f4a582"/>
<rect x="201.92" y="489.06" width="4.51" height="4.32" fill="#4393c3"/>
<rect x="205.83" y="489.06" width="3.91" height="4.32" fill="#f7f7f7"/>
<rect x="213.2" y="346.70" width="5.4" height="7.60" fill="#67001f"/>
<rect x="213.2" y="354.25" width="5.4" height="7.60" fill="#b2182b"/>
<rect x="213.2" y="361.81" width="5.4" height="7.60" fill="#d6604d"/>
<rect x="213.2" y="369.36" width="5.4" height="7.60" fill="#f4a582"/>
<rect x="213.2" y="376.92" width="5.4" height="7.60" fill="#fddbc7"/>
<rect x="213.2" y="384.47" width="5.4" height="7.60" fill="#f7f7f7"/>
<rect x="213.2" y="392.03" width="5.4" height="7.60" fill="#d1e5f0"/>
<rect x="213.2" y="399.58" width="5.4" height="7.60" fill="#92c5de"/>
<rect x="213.2" y="407.14" width="5.4" height="7.60" fill="#4393c3"/>
<rect x="213.2" y="414.69" width="5.4" height="7.60" fill="#2166ac"/>
<rect x="213.2" y="422.25" width="5.4" height="7.60" fill="#053061"/>
<rect x="62.3" y="346.5" width="2.2" height="147" fill="#000"/>
<text transform="translate(53.7,420) rotate(-90)" font-size="10.6" font-weight="bold" text-anchor="middle" fill="#111" stroke="#111" stroke-width="0.25">WM</text>
<text x="219.6" y="367.9" font-size="5.3" fill="#2a2a2a">0.5</text>
<text x="219.6" y="391.9" font-size="5.3" fill="#2a2a2a">0</text>
<text x="219.6" y="415.59999999999997" font-size="5.3" fill="#2a2a2a">−0.5</text>
<text transform="translate(154,487.6) scale(0.9,1.37)" font-size="11.5" font-weight="bold" fill="#111" stroke="#111" stroke-width="0.3">E</text>
<path d="M311 189.8L452 192 M311 189.8L372.6 206.9 M311 189.8L270.9 272.2 M311 189.8L298.8 302.7 M311 189.8L345.6 303.9 M311 189.8L345.5 245 M311 189.8L388 264.8 M372.6 206.9L452 192 M372.6 206.9L405.5 218.5 M372.6 206.9L270.9 272.2 M372.6 206.9L345.5 245 M372.6 206.9L345.6 303.9 M372.6 206.9L388 264.8 M405.5 218.5L452 192 M405.5 218.5L388 264.8 M452 192L493.3 202.3 M452 192L388 264.8 M452 192L434.8 236.4 M452 192L455.8 277.6 M434.8 236.4L481.3 224.6 M434.8 236.4L499 254.2 M434.8 236.4L388 264.8 M434.8 236.4L419 278.7 M434.8 236.4L455.8 277.6 M455.8 277.6L499 254.2 M455.8 277.6L419 278.7 M419 278.7L373.5 296.3 M373.5 296.3L437.9 300.6 M276.4 218.6L261.3 248.2 M276.4 218.6L345.5 245 M276.4 218.6L345.6 303.9 M270.9 272.2L345.5 245 M270.9 272.2L388 264.8 M270.9 272.2L345.6 303.9 M270.9 272.2L298.8 302.7 M298.8 302.7L345.6 303.9 M345.5 245L345.6 303.9 M345.5 245L388 264.8 M261.3 248.2L270.9 272.2" stroke="#111" stroke-width="1.35" fill="none"/>
<circle cx="311" cy="189.8" r="12.2" fill="#c0d8f3" stroke="#151a22" stroke-width="1.6"/>
<text transform="translate(311,192.32) scale(0.92,1)" font-size="7" text-anchor="middle" fill="#41454e">ICAM3</text>
<circle cx="372.6" cy="206.9" r="12.2" fill="#c0d8f3" stroke="#151a22" stroke-width="1.6"/>
<text transform="translate(372.6,209.42) scale(0.92,1)" font-size="7" text-anchor="middle" fill="#41454e">HLA-DMA</text>
<circle cx="452" cy="192" r="12.2" fill="#c0d8f3" stroke="#151a22" stroke-width="1.6"/>
<text transform="translate(452,194.52) scale(0.92,1)" font-size="7" text-anchor="middle" fill="#41454e">HLA-DMB</text>
<circle cx="493.3" cy="202.3" r="12.2" fill="#c0d8f3" stroke="#151a22" stroke-width="1.6"/>
<text transform="translate(493.3,204.82) scale(0.92,1)" font-size="7" text-anchor="middle" fill="#41454e">ACTR2</text>
<circle cx="276.4" cy="218.6" r="12.2" fill="#c0d8f3" stroke="#151a22" stroke-width="1.6"/>
<text transform="translate(276.4,221.12) scale(0.92,1)" font-size="7" text-anchor="middle" fill="#41454e">CORO1A</text>
<circle cx="405.5" cy="218.5" r="12.2" fill="#c0d8f3" stroke="#151a22" stroke-width="1.6"/>
<text transform="translate(405.5,221.02) scale(0.92,1)" font-size="7" text-anchor="middle" fill="#41454e">CD37</text>
<circle cx="481.3" cy="224.6" r="12.2" fill="#afd295" stroke="#151a22" stroke-width="1.6"/>
<text transform="translate(481.3,227.12) scale(0.92,1)" font-size="7" text-anchor="middle" fill="#41454e">TNFAIP3</text>
<circle cx="434.8" cy="236.4" r="12.2" fill="#afd295" stroke="#151a22" stroke-width="1.6"/>
<text transform="translate(434.8,238.92) scale(0.92,1)" font-size="7" text-anchor="middle" fill="#41454e">MYD88</text>
<circle cx="345.5" cy="245" r="12.2" fill="#da8874" stroke="#151a22" stroke-width="1.6"/>
<text transform="translate(345.5,247.52) scale(0.92,1)" font-size="7" text-anchor="middle" fill="#41454e">LAPTM5</text>
<circle cx="261.3" cy="248.2" r="12.2" fill="#c0d8f3" stroke="#151a22" stroke-width="1.6"/>
<text transform="translate(261.3,250.72) scale(0.92,1)" font-size="7" text-anchor="middle" fill="#41454e">LCP1</text>
<circle cx="499" cy="254.2" r="12.2" fill="#c0d8f3" stroke="#151a22" stroke-width="1.6"/>
<text transform="translate(499,256.72) scale(0.92,1)" font-size="7" text-anchor="middle" fill="#41454e">GMFG</text>
<circle cx="388" cy="264.8" r="12.2" fill="#c0d8f3" stroke="#151a22" stroke-width="1.6"/>
<text transform="translate(388,267.32) scale(0.92,1)" font-size="7" text-anchor="middle" fill="#41454e">HLA-DRA</text>
<circle cx="270.9" cy="272.2" r="12.2" fill="#c0d8f3" stroke="#151a22" stroke-width="1.6"/>
<text transform="translate(270.9,274.72) scale(0.92,1)" font-size="7" text-anchor="middle" fill="#41454e">DOCK2</text>
<circle cx="419" cy="278.7" r="12.2" fill="#c0d8f3" stroke="#151a22" stroke-width="1.6"/>
<text transform="translate(419,281.22) scale(0.92,1)" font-size="7" text-anchor="middle" fill="#41454e">CD53</text>
<circle cx="455.8" cy="277.6" r="12.2" fill="#c0d8f3" stroke="#151a22" stroke-width="1.6"/>
<text transform="translate(455.8,280.12) scale(0.92,1)" font-size="7" text-anchor="middle" fill="#41454e">ARHGDIB</text>
<circle cx="373.5" cy="296.3" r="12.2" fill="#c0d8f3" stroke="#151a22" stroke-width="1.6"/>
<text transform="translate(373.5,298.82) scale(0.92,1)" font-size="7" text-anchor="middle" fill="#41454e">TRIM22</text>
<circle cx="437.9" cy="300.6" r="12.2" fill="#c0d8f3" stroke="#151a22" stroke-width="1.6"/>
<text transform="translate(437.9,303.12) scale(0.92,1)" font-size="7" text-anchor="middle" fill="#41454e">EVI2B</text>
<circle cx="298.8" cy="302.7" r="12.2" fill="#c0d8f3" stroke="#151a22" stroke-width="1.6"/>
<text transform="translate(298.8,305.22) scale(0.92,1)" font-size="7" text-anchor="middle" fill="#41454e">MSN</text>
<circle cx="345.6" cy="303.9" r="12.2" fill="#da8874" stroke="#151a22" stroke-width="1.6"/>
<text transform="translate(345.6,306.42) scale(0.92,1)" font-size="7" text-anchor="middle" fill="#41454e">HCLS1</text>
<path d="M381 373.7L428.7 367.5 M381 373.7L463.1 442.4 M428.7 367.5L463.1 442.4 M473.9 384.5L463.1 442.4 M473.9 384.5L486 416 M291.5 422.7L342.7 486.6 M298.3 462.2L413 453.9 M413 453.9L411.4 481.3" stroke="#111" stroke-width="1.75" fill="none" stroke-dasharray="2.45 1.9"/>
<circle cx="381" cy="373.7" r="10.4" fill="#c0d8f3" stroke="#151a22" stroke-width="1.45"/>
<text transform="translate(381,376.22) scale(0.92,1)" font-size="7" text-anchor="middle" fill="#41454e">HLA-DMA</text>
<circle cx="428.7" cy="367.5" r="10.4" fill="#c0d8f3" stroke="#151a22" stroke-width="1.45"/>
<text transform="translate(428.7,370.02) scale(0.92,1)" font-size="7" text-anchor="middle" fill="#41454e">HLA-DMB</text>
<circle cx="339.5" cy="384.2" r="10.4" fill="#c0d8f3" stroke="#151a22" stroke-width="1.45"/>
<text transform="translate(339.5,386.72) scale(0.92,1)" font-size="7" text-anchor="middle" fill="#41454e">ICAM3</text>
<circle cx="473.9" cy="384.5" r="10.4" fill="#c0d8f3" stroke="#151a22" stroke-width="1.45"/>
<text transform="translate(473.9,387.02) scale(0.92,1)" font-size="7" text-anchor="middle" fill="#41454e">ACTR2</text>
<circle cx="313.9" cy="404.4" r="10.4" fill="#c0d8f3" stroke="#151a22" stroke-width="1.45"/>
<text transform="translate(313.9,406.92) scale(0.92,1)" font-size="7" text-anchor="middle" fill="#41454e">CORO1A</text>
<circle cx="360.2" cy="405.2" r="10.4" fill="#c0d8f3" stroke="#151a22" stroke-width="1.45"/>
<text transform="translate(360.2,407.72) scale(0.92,1)" font-size="7" text-anchor="middle" fill="#41454e">CD37</text>
<circle cx="486" cy="416" r="10.4" fill="#afd295" stroke="#151a22" stroke-width="1.45"/>
<text transform="translate(486,418.52) scale(0.92,1)" font-size="7" text-anchor="middle" fill="#41454e">TNFAIP3</text>
<circle cx="291.5" cy="422.7" r="10.4" fill="#c0d8f3" stroke="#151a22" stroke-width="1.45"/>
<text transform="translate(291.5,425.22) scale(0.92,1)" font-size="7" text-anchor="middle" fill="#41454e">LCP1</text>
<circle cx="388.8" cy="419.9" r="10.4" fill="#c0d8f3" stroke="#151a22" stroke-width="1.45"/>
<text transform="translate(388.8,422.42) scale(0.92,1)" font-size="7" text-anchor="middle" fill="#41454e">HLA-DRA</text>
<circle cx="429.5" cy="432.1" r="10.4" fill="#afd295" stroke="#151a22" stroke-width="1.45"/>
<text transform="translate(429.5,434.62) scale(0.92,1)" font-size="7" text-anchor="middle" fill="#41454e">MYD88</text>
<circle cx="339.5" cy="439.4" r="10.4" fill="#da8874" stroke="#151a22" stroke-width="1.45"/>
<text transform="translate(339.5,441.92) scale(0.92,1)" font-size="7" text-anchor="middle" fill="#41454e">LAPTM5</text>
<circle cx="463.1" cy="442.4" r="10.4" fill="#c0d8f3" stroke="#151a22" stroke-width="1.45"/>
<text transform="translate(463.1,444.92) scale(0.92,1)" font-size="7" text-anchor="middle" fill="#41454e">GMFG</text>
<circle cx="413" cy="453.9" r="10.4" fill="#c0d8f3" stroke="#151a22" stroke-width="1.45"/>
<text transform="translate(413,456.42) scale(0.92,1)" font-size="7" text-anchor="middle" fill="#41454e">ARHGDIB</text>
<circle cx="298.3" cy="462.2" r="10.4" fill="#c0d8f3" stroke="#151a22" stroke-width="1.45"/>
<text transform="translate(298.3,464.72) scale(0.92,1)" font-size="7" text-anchor="middle" fill="#41454e">DOCK2</text>
<circle cx="465" cy="475.4" r="10.4" fill="#c0d8f3" stroke="#151a22" stroke-width="1.45"/>
<text transform="translate(465,477.92) scale(0.92,1)" font-size="7" text-anchor="middle" fill="#41454e">EVI2B</text>
<circle cx="411.4" cy="481.3" r="10.4" fill="#c0d8f3" stroke="#151a22" stroke-width="1.45"/>
<text transform="translate(411.4,483.82) scale(0.92,1)" font-size="7" text-anchor="middle" fill="#41454e">CD53</text>
<circle cx="313.1" cy="482.5" r="10.4" fill="#c0d8f3" stroke="#151a22" stroke-width="1.45"/>
<text transform="translate(313.1,485.02) scale(0.92,1)" font-size="7" text-anchor="middle" fill="#41454e">MSN</text>
<circle cx="342.7" cy="486.6" r="10.4" fill="#da8874" stroke="#151a22" stroke-width="1.45"/>
<text transform="translate(342.7,489.12) scale(0.92,1)" font-size="7" text-anchor="middle" fill="#41454e">HCLS1</text>
<circle cx="379" cy="490.6" r="10.4" fill="#c0d8f3" stroke="#151a22" stroke-width="1.45"/>
<text transform="translate(379,493.12) scale(0.92,1)" font-size="7" text-anchor="middle" fill="#41454e">TRIM22</text>
<rect x="50.3" y="514" width="142" height="123.6" fill="none" stroke="#2a2a2a" stroke-width="1.1"/>
<path d="M98.8 514.7V637" stroke="#7d849c" stroke-width="1.3" stroke-dasharray="14.2 6.7" stroke-dashoffset="8.4" fill="none"/>
<path d="M170.4 514.7V637" stroke="#bfc2ca" stroke-width="1.2" stroke-dasharray="14.2 6.7" stroke-dashoffset="8.4" fill="none"/>
<path d="M69.4 632.2L73.50 523.50 C73.78 527.68 74.67 540.23 75.20 548.60 C75.73 556.97 76.10 566.30 76.70 573.70 C77.30 581.10 77.93 586.88 78.80 593.00 C79.67 599.12 80.72 605.40 81.90 610.40 C83.08 615.40 84.25 619.78 85.90 623.00 C87.55 626.22 89.53 628.28 91.80 629.70 C94.07 631.12 96.47 631.12 99.50 631.50 C102.53 631.88 106.92 631.88 110.00 632.00 C113.08 632.12 116.67 632.17 118.00 632.20" stroke="#7a1d45" stroke-width="1.5" fill="none" stroke-linejoin="round"/>
<path d="M56.4 632.2L68.9 632.2L73.20 520.60 C73.45 525.27 74.22 539.75 74.70 548.60 C75.18 557.45 75.55 566.30 76.10 573.70 C76.65 581.10 77.20 586.88 78.00 593.00 C78.80 599.12 79.78 605.40 80.90 610.40 C82.02 615.40 83.10 619.78 84.70 623.00 C86.30 626.22 88.23 628.27 90.50 629.70 C92.77 631.13 95.05 631.20 98.30 631.60 C101.55 632.00 105.55 632.00 110.00 632.10 C114.45 632.20 122.50 632.18 125.00 632.20 L186.2 632.2" stroke="#79a9d6" stroke-width="1.25" fill="none" stroke-linejoin="round"/>
<path d="M47 632.3H50.3" stroke="#2a2a2a" stroke-width="1"/>
<text transform="translate(43.8,635.1999999999999) scale(0.92,1)" font-size="8.3" text-anchor="end" fill="#1a1a1a" stroke="#1a1a1a" stroke-width="0.18">0</text>
<path d="M47 589.2H50.3" stroke="#2a2a2a" stroke-width="1"/>
<text transform="translate(43.8,592.1) scale(0.92,1)" font-size="8.3" text-anchor="end" fill="#1a1a1a" stroke="#1a1a1a" stroke-width="0.18">10</text>
<path d="M47 546.1H50.3" stroke="#2a2a2a" stroke-width="1"/>
<text transform="translate(43.8,549.0) scale(0.92,1)" font-size="8.3" text-anchor="end" fill="#1a1a1a" stroke="#1a1a1a" stroke-width="0.18">20</text>
<path d="M74.8 637.6V640.8" stroke="#2a2a2a" stroke-width="1"/>
<text transform="translate(74.8,652.7) scale(0.92,1)" font-size="8.3" text-anchor="middle" fill="#1a1a1a" stroke="#1a1a1a" stroke-width="0.18">0.0</text>
<path d="M111.7 637.6V640.8" stroke="#2a2a2a" stroke-width="1"/>
<text transform="translate(111.7,652.7) scale(0.92,1)" font-size="8.3" text-anchor="middle" fill="#1a1a1a" stroke="#1a1a1a" stroke-width="0.18">0.2</text>
<path d="M148.6 637.6V640.8" stroke="#2a2a2a" stroke-width="1"/>
<text transform="translate(148.6,652.7) scale(0.92,1)" font-size="8.3" text-anchor="middle" fill="#1a1a1a" stroke="#1a1a1a" stroke-width="0.18">0.4</text>
<path d="M185.7 637.6V640.8" stroke="#2a2a2a" stroke-width="1"/>
<text transform="translate(185.7,652.7) scale(0.92,1)" font-size="8.3" text-anchor="middle" fill="#1a1a1a" stroke="#1a1a1a" stroke-width="0.18">0.6</text>
<text transform="translate(30.1,575.6) rotate(-90) scale(0.9,1)" font-size="9.7" text-anchor="middle" fill="#1a1a1a" stroke="#1a1a1a" stroke-width="0.18">Density</text>
<text transform="translate(121.5,664.6) scale(0.91,1)" font-size="9.7" text-anchor="middle" fill="#1a1a1a" stroke="#1a1a1a" stroke-width="0.18">Mean connectivity</text>
<text transform="translate(111.9,580.4) rotate(-90) scale(0.95,1)" font-size="8.15" text-anchor="middle" fill="#1a1a1a" stroke="#1a1a1a" stroke-width="0.18">Observed in WM</text>
<text transform="translate(180.8,581.8) rotate(-90) scale(0.95,1)" font-size="8.1" text-anchor="middle" fill="#1a1a1a" stroke="#1a1a1a" stroke-width="0.18">Observed in HD</text>
<text x="137.5" y="525.3" font-size="7.2" text-anchor="middle" fill="#111" stroke="#111" stroke-width="0.18"><tspan font-style="italic">P</tspan> &lt; .0001</text>
<path d="M114 532.5H162" stroke="#111" stroke-width="1.3"/>
<path d="M110.6 532.5L116.4 529.6L115 532.5L116.4 535.4Z M165.6 532.5L159.8 529.6L161.2 532.5L159.8 535.4Z" fill="#111" stroke="#111" stroke-width="0.5" stroke-linejoin="round"/>
<text x="205.1" y="523.7" font-size="7.5" fill="#1a1a1a" stroke="#1a1a1a" stroke-width="0.18">Random</text>
<path d="M206 534.5H218.6" stroke="#6d1a3a" stroke-width="1.5"/>
<path d="M206 549.4H218.6" stroke="#9ec3e6" stroke-width="1.5"/>
<text x="221.9" y="536.9" font-size="7.3" fill="#1a1a1a" stroke="#1a1a1a" stroke-width="0.18">HD</text>
<text x="221.9" y="551.8" font-size="7.3" fill="#1a1a1a" stroke="#1a1a1a" stroke-width="0.18">WM</text>
</svg>
<svg id="b" width="520" height="674" viewBox="0 0 520 674"><path d="M0 0H520V1H0Z M0 0H1V674H0Z M519 0H520V674H519Z M0 672.7H520V674H0Z" fill="#1c1c1c"/></svg>
</body></html>
